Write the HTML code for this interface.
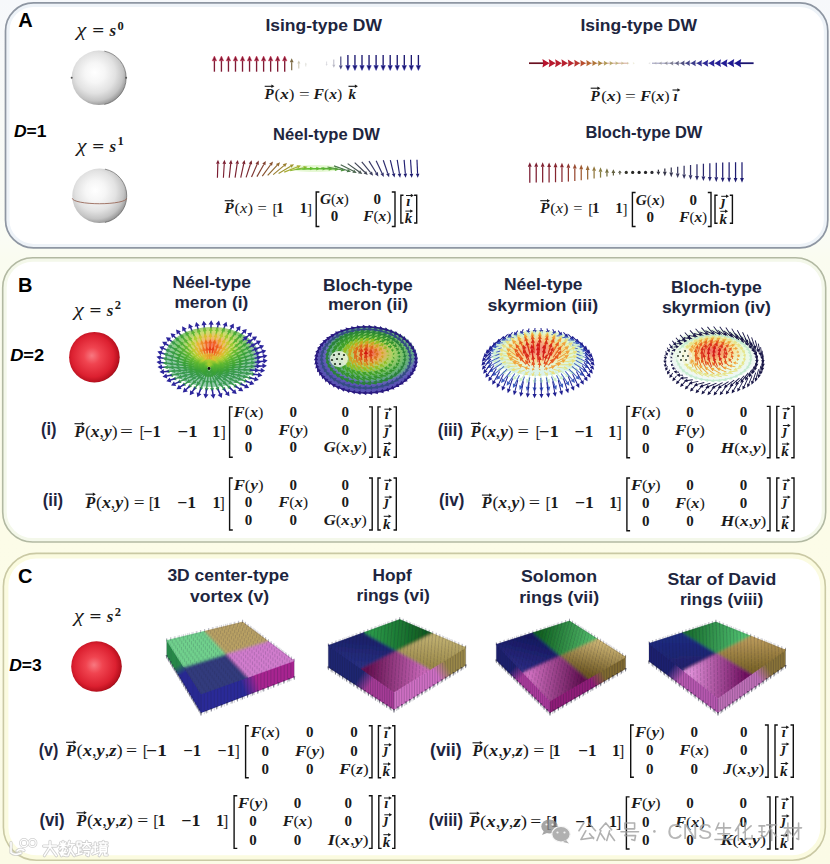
<!DOCTYPE html>
<html><head><meta charset="utf-8"><title>Topological polar structures</title><style>html,body{margin:0;padding:0;background:#fbfcf6;}body{width:830px;height:864px;overflow:hidden;font-family:"Liberation Sans", sans-serif;}svg{display:block;}</style></head><body>
<svg width="830" height="864" viewBox="0 0 830 864"><defs>
<radialGradient id="gW" cx="0.44" cy="0.42" r="0.62" fx="0.42" fy="0.4">
 <stop offset="0" stop-color="#ffffff"/>
 <stop offset="0.3" stop-color="#f6f6f6"/>
 <stop offset="0.6" stop-color="#e2e2e2"/>
 <stop offset="0.82" stop-color="#c4c4c4"/>
 <stop offset="0.93" stop-color="#a0a0a0"/>
 <stop offset="1" stop-color="#7a7a7a"/>
</radialGradient>
<radialGradient id="gR" cx="0.47" cy="0.48" r="0.55" fx="0.45" fy="0.47">
 <stop offset="0" stop-color="#f87880"/>
 <stop offset="0.3" stop-color="#f04450"/>
 <stop offset="0.75" stop-color="#dc2030"/>
 <stop offset="0.93" stop-color="#b8101e"/>
 <stop offset="1" stop-color="#7a0a14"/>
</radialGradient>
<linearGradient id="gBg" x1="0" y1="0" x2="0" y2="1">
 <stop offset="0" stop-color="#f6f8fb"/>
 <stop offset="0.28" stop-color="#fafcf4"/>
 <stop offset="0.3" stop-color="#fafcf0"/>
 <stop offset="0.62" stop-color="#fcfce8"/>
 <stop offset="1" stop-color="#fbfbe6"/>
</linearGradient>
<filter id="halo" x="-20%" y="-50%" width="140%" height="200%"><feGaussianBlur stdDeviation="1.8"/></filter><radialGradient id="gm1" cx="0.5" cy="0.3" r="0.5" fx="0.5" fy="0.3"><stop offset="0" stop-color="#f04020"/><stop offset="0.22" stop-color="#f0a040"/><stop offset="0.45" stop-color="#c0d040"/><stop offset="0.7" stop-color="#60b848"/><stop offset="1" stop-color="#70b890"/></radialGradient><radialGradient id="gm2" cx="0.55" cy="0.4" r="0.5" fx="0.55" fy="0.4"><stop offset="0" stop-color="#e84020"/><stop offset="0.2" stop-color="#e89838"/><stop offset="0.42" stop-color="#98c840"/><stop offset="0.66" stop-color="#48a848"/><stop offset="0.82" stop-color="#3a8a70"/><stop offset="0.9" stop-color="#4040a8"/><stop offset="1" stop-color="#3028a0"/></radialGradient><radialGradient id="gs3" cx="0.5" cy="0.42" r="0.5" fx="0.5" fy="0.42"><stop offset="0" stop-color="#e83020"/><stop offset="0.3" stop-color="#f07a30"/><stop offset="0.5" stop-color="#f0c050"/><stop offset="0.7" stop-color="#d8f0b0"/><stop offset="1" stop-color="#c0e8e0"/></radialGradient><radialGradient id="gs4" cx="0.5" cy="0.42" r="0.5" fx="0.5" fy="0.42"><stop offset="0" stop-color="#e83020"/><stop offset="0.25" stop-color="#f08030"/><stop offset="0.45" stop-color="#f0d870"/><stop offset="0.7" stop-color="#e0f8d0"/><stop offset="1" stop-color="#e8f4f0"/></radialGradient><filter id="soft" x="-10%" y="-10%" width="120%" height="120%"><feGaussianBlur stdDeviation="1.6"/></filter><filter id="soft2" x="-10%" y="-10%" width="120%" height="120%"><feGaussianBlur stdDeviation="0.6"/></filter><linearGradient id="x1s1" gradientUnits="userSpaceOnUse" x1="166.7" y1="640.5" x2="201" y2="694"><stop offset="0" stop-color="#289a4a"/><stop offset="0.42" stop-color="#289a4a"/><stop offset="0.58" stop-color="#2a2aa0"/><stop offset="1" stop-color="#2a2aa0"/></linearGradient><linearGradient id="x1s2" gradientUnits="userSpaceOnUse" x1="201" y1="694" x2="294.2" y2="660.8"><stop offset="0" stop-color="#2a2a98"/><stop offset="0.42" stop-color="#2a2a98"/><stop offset="0.58" stop-color="#a82490"/><stop offset="1" stop-color="#a82490"/></linearGradient><clipPath id="x1clip"><path d="M166.7 640.5L242.6 622L294.2 660.8L201 694Z"/></clipPath><linearGradient id="x2s1" gradientUnits="userSpaceOnUse" x1="328.3" y1="645.5" x2="394" y2="692"><stop offset="0" stop-color="#1e2672"/><stop offset="0.54" stop-color="#1e2672"/><stop offset="0.7" stop-color="#a83c98"/><stop offset="1" stop-color="#a83c98"/></linearGradient><linearGradient id="x2s2" gradientUnits="userSpaceOnUse" x1="394" y1="692" x2="465.7" y2="647.5"><stop offset="0" stop-color="#d070c4"/><stop offset="0.54" stop-color="#d070c4"/><stop offset="0.7" stop-color="#9a8848"/><stop offset="1" stop-color="#9a8848"/></linearGradient><linearGradient id="x2gL" gradientUnits="userSpaceOnUse" x1="361.15" y1="668.75" x2="364" y2="632.5"><stop offset="0.1" stop-color="#262e80"/><stop offset="0.9" stop-color="#1a2068"/></linearGradient><linearGradient id="x2gB" gradientUnits="userSpaceOnUse" x1="364" y1="632.5" x2="432.7" y2="633.5"><stop offset="0.1" stop-color="#2a9a48"/><stop offset="0.9" stop-color="#105a20"/></linearGradient><linearGradient id="x2gR" gradientUnits="userSpaceOnUse" x1="432.7" y1="633.5" x2="429.85" y2="669.75"><stop offset="0.1" stop-color="#c0b070"/><stop offset="0.9" stop-color="#9a8848"/></linearGradient><linearGradient id="x2gF" gradientUnits="userSpaceOnUse" x1="429.85" y1="669.75" x2="361.15" y2="668.75"><stop offset="0.1" stop-color="#c868b8"/><stop offset="0.9" stop-color="#64104f"/></linearGradient><clipPath id="x2clip"><path d="M328.3 645.5L399.7 619.5L465.7 647.5L394 692Z"/></clipPath><linearGradient id="x3s1" gradientUnits="userSpaceOnUse" x1="496.3" y1="644.5" x2="550" y2="701"><stop offset="0" stop-color="#1c2070"/><stop offset="0.37" stop-color="#1c2070"/><stop offset="0.53" stop-color="#b03ca0"/><stop offset="1" stop-color="#b03ca0"/></linearGradient><linearGradient id="x3s2" gradientUnits="userSpaceOnUse" x1="550" y1="701" x2="625.6" y2="657"><stop offset="0" stop-color="#901c78"/><stop offset="0.52" stop-color="#901c78"/><stop offset="0.68" stop-color="#806a30"/><stop offset="1" stop-color="#806a30"/></linearGradient><linearGradient id="x3gL" gradientUnits="userSpaceOnUse" x1="523.15" y1="672.75" x2="532.9" y2="632.75"><stop offset="0.1" stop-color="#2a2a80"/><stop offset="0.9" stop-color="#141860"/></linearGradient><linearGradient id="x3gB" gradientUnits="userSpaceOnUse" x1="532.9" y1="632.75" x2="597.55" y2="639"><stop offset="0.1" stop-color="#106020"/><stop offset="0.9" stop-color="#50b868"/></linearGradient><linearGradient id="x3gR" gradientUnits="userSpaceOnUse" x1="597.55" y1="639" x2="587.8" y2="679"><stop offset="0.1" stop-color="#c8b070"/><stop offset="0.9" stop-color="#6a5420"/></linearGradient><linearGradient id="x3gF" gradientUnits="userSpaceOnUse" x1="587.8" y1="679" x2="523.15" y2="672.75"><stop offset="0.1" stop-color="#601050"/><stop offset="0.9" stop-color="#d070c0"/></linearGradient><clipPath id="x3clip"><path d="M496.3 644.5L569.5 621L625.6 657L550 701Z"/></clipPath><linearGradient id="x4s1" gradientUnits="userSpaceOnUse" x1="649" y1="643.5" x2="718" y2="698"><stop offset="0" stop-color="#1c2070"/><stop offset="0.37" stop-color="#1c2070"/><stop offset="0.53" stop-color="#b858b0"/><stop offset="1" stop-color="#b858b0"/></linearGradient><linearGradient id="x4s2" gradientUnits="userSpaceOnUse" x1="718" y1="698" x2="785.5" y2="650"><stop offset="0" stop-color="#c070b8"/><stop offset="0.54" stop-color="#c070b8"/><stop offset="0.7" stop-color="#8a7438"/><stop offset="1" stop-color="#8a7438"/></linearGradient><linearGradient id="x4gL" gradientUnits="userSpaceOnUse" x1="683.5" y1="670.75" x2="682.45" y2="632.75"><stop offset="0.1" stop-color="#22226c"/><stop offset="0.9" stop-color="#1a2a80"/></linearGradient><linearGradient id="x4gB" gradientUnits="userSpaceOnUse" x1="682.45" y1="632.75" x2="750.7" y2="636"><stop offset="0.1" stop-color="#1a7030"/><stop offset="0.9" stop-color="#50c070"/></linearGradient><linearGradient id="x4gR" gradientUnits="userSpaceOnUse" x1="750.7" y1="636" x2="751.75" y2="674"><stop offset="0.1" stop-color="#b89858"/><stop offset="0.9" stop-color="#7a6428"/></linearGradient><linearGradient id="x4gF" gradientUnits="userSpaceOnUse" x1="751.75" y1="674" x2="683.5" y2="670.75"><stop offset="0.1" stop-color="#701060"/><stop offset="0.9" stop-color="#e090d8"/></linearGradient><clipPath id="x4clip"><path d="M649 643.5L715.9 622L785.5 650L718 698Z"/></clipPath></defs><rect x="0" y="0" width="830" height="864" fill="url(#gBg)"/>
<rect x="5.5" y="2.9" width="822.3" height="245" rx="28" ry="28" fill="#ffffff"/>
<rect x="7.5" y="4.9" width="818.3" height="241" rx="26" ry="26" fill="none" stroke="#eef3f8" stroke-width="4"/>
<rect x="5.5" y="2.9" width="822.3" height="245" rx="28" ry="28" fill="none" stroke="#8e96a2" stroke-width="1.7"/>
<rect x="2.7" y="257.7" width="823" height="284.3" rx="30" ry="30" fill="#ffffff"/>
<rect x="4.7" y="259.7" width="819" height="280.3" rx="28" ry="28" fill="none" stroke="#f4f8ea" stroke-width="4"/>
<rect x="2.7" y="257.7" width="823" height="284.3" rx="30" ry="30" fill="none" stroke="#b2b9a2" stroke-width="1.6"/>
<rect x="3.4" y="553.4" width="821.9" height="306.9" rx="33" ry="33" fill="#ffffff"/>
<rect x="5.9" y="555.9" width="816.9" height="301.9" rx="30.5" ry="30.5" fill="none" stroke="#fbfbe0" stroke-width="5"/>
<rect x="3.4" y="553.4" width="821.9" height="306.9" rx="33" ry="33" fill="none" stroke="#cac9a4" stroke-width="1.6"/>
<text x="18.2" y="27.3" font-family='"Liberation Sans", sans-serif' font-size="20" font-weight="bold" fill="#000">A</text>
<text x="18" y="292.2" font-family='"Liberation Sans", sans-serif' font-size="20" font-weight="bold" fill="#000">B</text>
<text x="18" y="583.1" font-family='"Liberation Sans", sans-serif' font-size="20" font-weight="bold" fill="#000">C</text>
<text x="14" y="136.6" font-family='"Liberation Sans", sans-serif' font-size="16" font-weight="bold" fill="#000" textLength="32.5" lengthAdjust="spacingAndGlyphs"><tspan font-style="italic">D</tspan>=1</text>
<text x="10.2" y="360.7" font-family='"Liberation Sans", sans-serif' font-size="16" font-weight="bold" fill="#000" textLength="34" lengthAdjust="spacingAndGlyphs"><tspan font-style="italic">D</tspan>=2</text>
<text x="9.2" y="671.4" font-family='"Liberation Sans", sans-serif' font-size="16" font-weight="bold" fill="#000" textLength="32.5" lengthAdjust="spacingAndGlyphs"><tspan font-style="italic">D</tspan>=3</text>
<text x="76.6" y="36.1" font-family='"Liberation Serif", serif' font-size="18" font-style="italic" textLength="9.8" lengthAdjust="spacingAndGlyphs" fill="#1a1a1a">χ</text>
<text x="92.2" y="35.9" font-family='"Liberation Serif", serif' font-size="17" font-weight="bold" textLength="12" lengthAdjust="spacingAndGlyphs" fill="#1a1a1a">=</text>
<text x="109.5" y="36.1" font-family='"Liberation Serif", serif' font-size="17" font-weight="bold" font-style="italic" fill="#1a1a1a">s</text>
<text x="117.5" y="29.8" font-family='"Liberation Serif", serif' font-size="12.5" font-weight="bold" fill="#1a1a1a">0</text>
<text x="76.7" y="151.7" font-family='"Liberation Serif", serif' font-size="18" font-style="italic" textLength="9.8" lengthAdjust="spacingAndGlyphs" fill="#1a1a1a">χ</text>
<text x="92.3" y="151.5" font-family='"Liberation Serif", serif' font-size="17" font-weight="bold" textLength="12" lengthAdjust="spacingAndGlyphs" fill="#1a1a1a">=</text>
<text x="109.6" y="151.7" font-family='"Liberation Serif", serif' font-size="17" font-weight="bold" font-style="italic" fill="#1a1a1a">s</text>
<text x="117.6" y="145.4" font-family='"Liberation Serif", serif' font-size="12.5" font-weight="bold" fill="#1a1a1a">1</text>
<text x="73.9" y="315.7" font-family='"Liberation Serif", serif' font-size="18" font-style="italic" textLength="9.8" lengthAdjust="spacingAndGlyphs" fill="#1a1a1a">χ</text>
<text x="89.5" y="315.5" font-family='"Liberation Serif", serif' font-size="17" font-weight="bold" textLength="12" lengthAdjust="spacingAndGlyphs" fill="#1a1a1a">=</text>
<text x="106.8" y="315.7" font-family='"Liberation Serif", serif' font-size="17" font-weight="bold" font-style="italic" fill="#1a1a1a">s</text>
<text x="114.8" y="309.4" font-family='"Liberation Serif", serif' font-size="12.5" font-weight="bold" fill="#1a1a1a">2</text>
<text x="73.9" y="621.9" font-family='"Liberation Serif", serif' font-size="18" font-style="italic" textLength="9.8" lengthAdjust="spacingAndGlyphs" fill="#1a1a1a">χ</text>
<text x="89.5" y="621.7" font-family='"Liberation Serif", serif' font-size="17" font-weight="bold" textLength="12" lengthAdjust="spacingAndGlyphs" fill="#1a1a1a">=</text>
<text x="106.8" y="621.9" font-family='"Liberation Serif", serif' font-size="17" font-weight="bold" font-style="italic" fill="#1a1a1a">s</text>
<text x="114.8" y="615.6" font-family='"Liberation Serif", serif' font-size="12.5" font-weight="bold" fill="#1a1a1a">2</text>
<circle cx="98.9" cy="77.8" r="27.2" fill="url(#gW)"/>
<path d="M104.34 51.14A27.2 27.2 0 0 1 104.34 104.46" stroke="#555" stroke-width="0.9" fill="none" opacity="0.7"/>
<circle cx="71.7" cy="77.8" r="1" fill="#555"/><circle cx="126.1" cy="77.8" r="1" fill="#555"/>
<circle cx="99.5" cy="195.8" r="27.2" fill="url(#gW)"/>
<path d="M104.94 169.14A27.2 27.2 0 0 1 104.94 222.46" stroke="#555" stroke-width="0.9" fill="none" opacity="0.7"/>
<path d="M72.3 198.3A27.2 5.44 0 0 0 126.7 198.3" stroke="#9a6a5a" stroke-width="0.9" fill="none"/>
<circle cx="94.4" cy="357.2" r="25.3" fill="url(#gR)"/>
<circle cx="96.5" cy="666.5" r="25.3" fill="url(#gR)"/>
<text x="265.4" y="30.9" font-family='"Liberation Sans", sans-serif' font-size="17" font-weight="bold" textLength="116.6" lengthAdjust="spacingAndGlyphs" fill="#20253e">Ising-type DW</text>
<text x="580.4" y="31.2" font-family='"Liberation Sans", sans-serif' font-size="17" font-weight="bold" textLength="116.6" lengthAdjust="spacingAndGlyphs" fill="#20253e">Ising-type DW</text>
<text x="273.1" y="139.6" font-family='"Liberation Sans", sans-serif' font-size="17" font-weight="bold" textLength="106.7" lengthAdjust="spacingAndGlyphs" fill="#20253e">Néel-type DW</text>
<text x="585.4" y="138" font-family='"Liberation Sans", sans-serif' font-size="17" font-weight="bold" textLength="117" lengthAdjust="spacingAndGlyphs" fill="#20253e">Bloch-type DW</text>
<text x="172.6" y="288.3" font-family='"Liberation Sans", sans-serif' font-size="17" font-weight="bold" textLength="78.3" lengthAdjust="spacingAndGlyphs" fill="#20253e">Néel-type</text>
<text x="174.5" y="308.3" font-family='"Liberation Sans", sans-serif' font-size="17" font-weight="bold" textLength="73.7" lengthAdjust="spacingAndGlyphs" fill="#20253e">meron (i)</text>
<text x="322.9" y="291" font-family='"Liberation Sans", sans-serif' font-size="17" font-weight="bold" textLength="89.9" lengthAdjust="spacingAndGlyphs" fill="#20253e">Bloch-type</text>
<text x="327.9" y="310.3" font-family='"Liberation Sans", sans-serif' font-size="17" font-weight="bold" textLength="80.2" lengthAdjust="spacingAndGlyphs" fill="#20253e">meron (ii)</text>
<text x="504" y="289.9" font-family='"Liberation Sans", sans-serif' font-size="17" font-weight="bold" textLength="78.5" lengthAdjust="spacingAndGlyphs" fill="#20253e">Néel-type</text>
<text x="487.4" y="310.5" font-family='"Liberation Sans", sans-serif' font-size="17" font-weight="bold" textLength="110.7" lengthAdjust="spacingAndGlyphs" fill="#20253e">skyrmion (iii)</text>
<text x="670.9" y="293" font-family='"Liberation Sans", sans-serif' font-size="17" font-weight="bold" textLength="90.9" lengthAdjust="spacingAndGlyphs" fill="#20253e">Bloch-type</text>
<text x="661.9" y="313.4" font-family='"Liberation Sans", sans-serif' font-size="17" font-weight="bold" textLength="108.9" lengthAdjust="spacingAndGlyphs" fill="#20253e">skyrmion (iv)</text>
<text x="167.4" y="581" font-family='"Liberation Sans", sans-serif' font-size="17" font-weight="bold" textLength="121.5" lengthAdjust="spacingAndGlyphs" fill="#20253e">3D center-type</text>
<text x="190.1" y="602" font-family='"Liberation Sans", sans-serif' font-size="17" font-weight="bold" textLength="78.9" lengthAdjust="spacingAndGlyphs" fill="#20253e">vortex (v)</text>
<text x="372.6" y="581" font-family='"Liberation Sans", sans-serif' font-size="17" font-weight="bold" textLength="39.2" lengthAdjust="spacingAndGlyphs" fill="#20253e">Hopf</text>
<text x="356.4" y="600.5" font-family='"Liberation Sans", sans-serif' font-size="17" font-weight="bold" textLength="73.4" lengthAdjust="spacingAndGlyphs" fill="#20253e">rings (vi)</text>
<text x="521" y="581.7" font-family='"Liberation Sans", sans-serif' font-size="17" font-weight="bold" textLength="76" lengthAdjust="spacingAndGlyphs" fill="#20253e">Solomon</text>
<text x="519.2" y="602.6" font-family='"Liberation Sans", sans-serif' font-size="17" font-weight="bold" textLength="79.9" lengthAdjust="spacingAndGlyphs" fill="#20253e">rings (vii)</text>
<text x="667.4" y="584.6" font-family='"Liberation Sans", sans-serif' font-size="17" font-weight="bold" textLength="108.8" lengthAdjust="spacingAndGlyphs" fill="#20253e">Star of David</text>
<text x="680" y="605.2" font-family='"Liberation Sans", sans-serif' font-size="17" font-weight="bold" textLength="83.2" lengthAdjust="spacingAndGlyphs" fill="#20253e">rings (viii)</text>
<text x="41" y="434.6" font-family='"Liberation Sans", sans-serif' font-size="18.5" font-weight="bold" textLength="15.6" lengthAdjust="spacingAndGlyphs" fill="#1e2440">(i)</text>
<text x="42.7" y="506.1" font-family='"Liberation Sans", sans-serif' font-size="18.5" font-weight="bold" textLength="20.4" lengthAdjust="spacingAndGlyphs" fill="#1e2440">(ii)</text>
<text x="437.8" y="435.6" font-family='"Liberation Sans", sans-serif' font-size="18.5" font-weight="bold" textLength="25.3" lengthAdjust="spacingAndGlyphs" fill="#1e2440">(iii)</text>
<text x="439" y="505.6" font-family='"Liberation Sans", sans-serif' font-size="18.5" font-weight="bold" textLength="25.3" lengthAdjust="spacingAndGlyphs" fill="#1e2440">(iv)</text>
<text x="38.7" y="755.6" font-family='"Liberation Sans", sans-serif' font-size="18.5" font-weight="bold" textLength="19.7" lengthAdjust="spacingAndGlyphs" fill="#1e2440">(v)</text>
<text x="39.4" y="825.6" font-family='"Liberation Sans", sans-serif' font-size="18.5" font-weight="bold" textLength="25.2" lengthAdjust="spacingAndGlyphs" fill="#1e2440">(vi)</text>
<text x="430" y="755.6" font-family='"Liberation Sans", sans-serif' font-size="18.5" font-weight="bold" textLength="31.7" lengthAdjust="spacingAndGlyphs" fill="#1e2440">(vii)</text>
<text x="428.7" y="825.6" font-family='"Liberation Sans", sans-serif' font-size="18.5" font-weight="bold" textLength="34.3" lengthAdjust="spacingAndGlyphs" fill="#1e2440">(viii)</text>
<text x="264.6" y="99.2" font-family='"Liberation Serif", serif' font-size="15" fill="#1a1a1a"><tspan font-weight="bold" font-style="italic">P</tspan></text>
<path d="M264.7 86.3H272.8" stroke="#1a1a1a" stroke-width="1.1" fill="none"/>
<path d="M271.4 84.6L274.4 86.3L271.4 88Z" fill="#1a1a1a"/>
<text x="274.6" y="99.2" font-family='"Liberation Serif", serif' font-size="15" fill="#1a1a1a" textLength="19.9" lengthAdjust="spacingAndGlyphs">(<tspan font-weight="bold" font-style="italic">x</tspan>)</text>
<text x="299" y="99.2" font-family='"Liberation Serif", serif' font-size="15" fill="#1a1a1a" textLength="10.7" lengthAdjust="spacingAndGlyphs">=</text>
<text x="313.6" y="99.2" font-family='"Liberation Serif", serif' font-size="15" fill="#1a1a1a" textLength="28.6" lengthAdjust="spacingAndGlyphs"><tspan font-weight="bold" font-style="italic">F</tspan>(<tspan font-weight="bold" font-style="italic">x</tspan>)</text>
<text x="348.6" y="99.2" font-family='"Liberation Serif", serif' font-size="15" fill="#1a1a1a"><tspan font-weight="bold" font-style="italic">k</tspan></text>
<path d="M348.5 86.3H356.3" stroke="#1a1a1a" stroke-width="1.1" fill="none"/>
<path d="M354.9 84.6L357.9 86.3L354.9 88Z" fill="#1a1a1a"/>
<text x="590.6" y="100.5" font-family='"Liberation Serif", serif' font-size="15" fill="#1a1a1a"><tspan font-weight="bold" font-style="italic">P</tspan></text>
<path d="M590.7 88.2H598.8" stroke="#1a1a1a" stroke-width="1.1" fill="none"/>
<path d="M597.4 86.5L600.4 88.2L597.4 89.9Z" fill="#1a1a1a"/>
<text x="601.2" y="100.5" font-family='"Liberation Serif", serif' font-size="15" fill="#1a1a1a" textLength="20" lengthAdjust="spacingAndGlyphs">(<tspan font-weight="bold" font-style="italic">x</tspan>)</text>
<text x="625" y="100.5" font-family='"Liberation Serif", serif' font-size="15" fill="#1a1a1a" textLength="10.8" lengthAdjust="spacingAndGlyphs">=</text>
<text x="640.3" y="100.5" font-family='"Liberation Serif", serif' font-size="15" fill="#1a1a1a" textLength="29.3" lengthAdjust="spacingAndGlyphs"><tspan font-weight="bold" font-style="italic">F</tspan>(<tspan font-weight="bold" font-style="italic">x</tspan>)</text>
<text x="673.4" y="100.5" font-family='"Liberation Serif", serif' font-size="15" fill="#1a1a1a"><tspan font-weight="bold" font-style="italic">ı</tspan></text>
<path d="M672.5 90H678.8" stroke="#1a1a1a" stroke-width="1.1" fill="none"/>
<path d="M677.4 88.3L680.4 90L677.4 91.7Z" fill="#1a1a1a"/>
<text x="224.6" y="213.3" font-family='"Liberation Serif", serif' font-size="15" fill="#1a1a1a"><tspan font-weight="bold" font-style="italic">P</tspan></text>
<path d="M224.7 200.7H232.8" stroke="#1a1a1a" stroke-width="1.1" fill="none"/>
<path d="M231.4 199L234.4 200.7L231.4 202.4Z" fill="#1a1a1a"/>
<text x="234.6" y="213.3" font-family='"Liberation Serif", serif' font-size="15" fill="#1a1a1a" textLength="18.3" lengthAdjust="spacingAndGlyphs">(<tspan font-style="italic">x</tspan>)</text>
<text x="257.6" y="213.3" font-family='"Liberation Serif", serif' font-size="15" fill="#1a1a1a" textLength="9.3" lengthAdjust="spacingAndGlyphs">=</text>
<text x="272.4" y="214.3" font-family='"Liberation Serif", serif' font-size="15" fill="#1a1a1a">[</text>
<text x="276.2" y="213.3" font-family='"Liberation Serif", serif' font-size="15" fill="#1a1a1a"><tspan font-weight="bold">1</tspan></text>
<text x="299.7" y="213.3" font-family='"Liberation Serif", serif' font-size="15" fill="#1a1a1a"><tspan font-weight="bold">1</tspan></text>
<text x="307.1" y="214.3" font-family='"Liberation Serif", serif' font-size="15" fill="#1a1a1a">]</text>
<path d="M319.4 192H316.2V226.5H319.4" stroke="#111" stroke-width="1.4" fill="none"/>
<path d="M391.8 192H395V226.5H391.8" stroke="#111" stroke-width="1.4" fill="none"/>
<text x="334.5" y="203.6" font-family='"Liberation Serif", serif' font-size="15" fill="#1a1a1a" text-anchor="middle" textLength="28.8" lengthAdjust="spacingAndGlyphs"><tspan font-weight="bold" font-style="italic">G</tspan>(<tspan font-weight="bold" font-style="italic">x</tspan>)</text>
<text x="377.3" y="203.6" font-family='"Liberation Serif", serif' font-size="15" fill="#1a1a1a" text-anchor="middle"><tspan font-weight="bold">0</tspan></text>
<text x="334.5" y="220.8" font-family='"Liberation Serif", serif' font-size="15" fill="#1a1a1a" text-anchor="middle"><tspan font-weight="bold">0</tspan></text>
<text x="377.3" y="220.8" font-family='"Liberation Serif", serif' font-size="15" fill="#1a1a1a" text-anchor="middle" textLength="28" lengthAdjust="spacingAndGlyphs"><tspan font-weight="bold" font-style="italic">F</tspan>(<tspan font-weight="bold" font-style="italic">x</tspan>)</text>
<path d="M403.5 195.3H400.9V223H403.5" stroke="#111" stroke-width="1.4" fill="none"/>
<path d="M414.1 195.3H416.7V223H414.1" stroke="#111" stroke-width="1.4" fill="none"/>
<text x="408.4" y="205.5" font-family='"Liberation Serif", serif' font-size="15" fill="#1a1a1a" text-anchor="middle"><tspan font-weight="bold" font-style="italic">ı</tspan></text>
<path d="M406 195.5H412.2" stroke="#1a1a1a" stroke-width="1" fill="none"/>
<path d="M410.8 193.8L413.8 195.5L410.8 197.2Z" fill="#1a1a1a"/>
<text x="408.4" y="223.4" font-family='"Liberation Serif", serif' font-size="15" fill="#1a1a1a" text-anchor="middle"><tspan font-weight="bold" font-style="italic">k</tspan></text>
<path d="M405.4 211.1H411.6" stroke="#1a1a1a" stroke-width="1" fill="none"/>
<path d="M410.2 209.4L413.2 211.1L410.2 212.8Z" fill="#1a1a1a"/>
<text x="540.2" y="213.3" font-family='"Liberation Serif", serif' font-size="15" fill="#1a1a1a"><tspan font-weight="bold" font-style="italic">P</tspan></text>
<path d="M540.3 200.7H548.4" stroke="#1a1a1a" stroke-width="1.1" fill="none"/>
<path d="M547 199L550 200.7L547 202.4Z" fill="#1a1a1a"/>
<text x="550.2" y="213.3" font-family='"Liberation Serif", serif' font-size="15" fill="#1a1a1a" textLength="18.3" lengthAdjust="spacingAndGlyphs">(<tspan font-style="italic">x</tspan>)</text>
<text x="573.2" y="213.3" font-family='"Liberation Serif", serif' font-size="15" fill="#1a1a1a" textLength="9.3" lengthAdjust="spacingAndGlyphs">=</text>
<text x="588.2" y="214.3" font-family='"Liberation Serif", serif' font-size="15" fill="#1a1a1a">[</text>
<text x="592.1" y="213.3" font-family='"Liberation Serif", serif' font-size="15" fill="#1a1a1a"><tspan font-weight="bold">1</tspan></text>
<text x="615.3" y="213.3" font-family='"Liberation Serif", serif' font-size="15" fill="#1a1a1a"><tspan font-weight="bold">1</tspan></text>
<text x="622.6" y="214.3" font-family='"Liberation Serif", serif' font-size="15" fill="#1a1a1a">]</text>
<path d="M635.6 192.5H632.4V226.5H635.6" stroke="#111" stroke-width="1.4" fill="none"/>
<path d="M707.8 192.5H711V226.5H707.8" stroke="#111" stroke-width="1.4" fill="none"/>
<text x="650.2" y="204.5" font-family='"Liberation Serif", serif' font-size="15" fill="#1a1a1a" text-anchor="middle" textLength="28.8" lengthAdjust="spacingAndGlyphs"><tspan font-weight="bold" font-style="italic">G</tspan>(<tspan font-weight="bold" font-style="italic">x</tspan>)</text>
<text x="693.2" y="204.5" font-family='"Liberation Serif", serif' font-size="15" fill="#1a1a1a" text-anchor="middle"><tspan font-weight="bold">0</tspan></text>
<text x="650.2" y="222.2" font-family='"Liberation Serif", serif' font-size="15" fill="#1a1a1a" text-anchor="middle"><tspan font-weight="bold">0</tspan></text>
<text x="693.2" y="222.2" font-family='"Liberation Serif", serif' font-size="15" fill="#1a1a1a" text-anchor="middle" textLength="28" lengthAdjust="spacingAndGlyphs"><tspan font-weight="bold" font-style="italic">F</tspan>(<tspan font-weight="bold" font-style="italic">x</tspan>)</text>
<path d="M717.6 195.3H715V223.2H717.6" stroke="#111" stroke-width="1.4" fill="none"/>
<path d="M729.8 195.3H732.4V223.2H729.8" stroke="#111" stroke-width="1.4" fill="none"/>
<text x="723.3" y="205.5" font-family='"Liberation Serif", serif' font-size="15" fill="#1a1a1a" text-anchor="middle"><tspan font-weight="bold" font-style="italic">ȷ</tspan></text>
<path d="M721.2 196.3H727.4" stroke="#1a1a1a" stroke-width="1" fill="none"/>
<path d="M726 194.6L729 196.3L726 198Z" fill="#1a1a1a"/>
<text x="723.3" y="223.6" font-family='"Liberation Serif", serif' font-size="15" fill="#1a1a1a" text-anchor="middle"><tspan font-weight="bold" font-style="italic">k</tspan></text>
<path d="M720.3 211.3H726.5" stroke="#1a1a1a" stroke-width="1" fill="none"/>
<path d="M725.1 209.6L728.1 211.3L725.1 213Z" fill="#1a1a1a"/>
<text x="74.4" y="437" font-family='"Liberation Serif", serif' font-size="16" fill="#1a1a1a"><tspan font-weight="bold" font-style="italic">P</tspan></text>
<path d="M74.5 423.7H83.2" stroke="#1a1a1a" stroke-width="1.1" fill="none"/>
<path d="M81.8 422L84.8 423.7L81.8 425.4Z" fill="#1a1a1a"/>
<text x="85" y="437" font-family='"Liberation Serif", serif' font-size="16" fill="#1a1a1a" textLength="32.6" lengthAdjust="spacingAndGlyphs">(<tspan font-weight="bold" font-style="italic">x</tspan>,<tspan font-weight="bold" font-style="italic">y</tspan>)</text>
<text x="120.1" y="437" font-family='"Liberation Serif", serif' font-size="16" fill="#1a1a1a" textLength="12.9" lengthAdjust="spacingAndGlyphs">=</text>
<text x="139.6" y="438" font-family='"Liberation Serif", serif' font-size="16" fill="#1a1a1a">[</text>
<text x="143" y="437" font-family='"Liberation Serif", serif' font-size="16" fill="#1a1a1a" textLength="18" lengthAdjust="spacingAndGlyphs"><tspan font-weight="bold">−</tspan><tspan font-weight="bold">1</tspan></text>
<text x="177.6" y="437" font-family='"Liberation Serif", serif' font-size="16" fill="#1a1a1a" textLength="20" lengthAdjust="spacingAndGlyphs"><tspan font-weight="bold">−</tspan><tspan font-weight="bold">1</tspan></text>
<text x="212.2" y="437" font-family='"Liberation Serif", serif' font-size="16" fill="#1a1a1a"><tspan font-weight="bold">1</tspan></text>
<text x="220.6" y="438" font-family='"Liberation Serif", serif' font-size="16" fill="#1a1a1a">]</text>
<text x="85.4" y="507.5" font-family='"Liberation Serif", serif' font-size="16" fill="#1a1a1a"><tspan font-weight="bold" font-style="italic">P</tspan></text>
<path d="M85.5 494.2H94.2" stroke="#1a1a1a" stroke-width="1.1" fill="none"/>
<path d="M92.8 492.5L95.8 494.2L92.8 495.9Z" fill="#1a1a1a"/>
<text x="96" y="507.5" font-family='"Liberation Serif", serif' font-size="16" fill="#1a1a1a" textLength="33.2" lengthAdjust="spacingAndGlyphs">(<tspan font-weight="bold" font-style="italic">x</tspan>,<tspan font-weight="bold" font-style="italic">y</tspan>)</text>
<text x="133.8" y="507.5" font-family='"Liberation Serif", serif' font-size="16" fill="#1a1a1a" textLength="10.8" lengthAdjust="spacingAndGlyphs">=</text>
<text x="148.8" y="508.5" font-family='"Liberation Serif", serif' font-size="16" fill="#1a1a1a">[</text>
<text x="152.8" y="507.5" font-family='"Liberation Serif", serif' font-size="16" fill="#1a1a1a"><tspan font-weight="bold">1</tspan></text>
<text x="177.2" y="507.5" font-family='"Liberation Serif", serif' font-size="16" fill="#1a1a1a" textLength="18.9" lengthAdjust="spacingAndGlyphs"><tspan font-weight="bold">−</tspan><tspan font-weight="bold">1</tspan></text>
<text x="212.4" y="507.5" font-family='"Liberation Serif", serif' font-size="16" fill="#1a1a1a"><tspan font-weight="bold">1</tspan></text>
<text x="219.4" y="508.5" font-family='"Liberation Serif", serif' font-size="16" fill="#1a1a1a">]</text>
<text x="470.8" y="436.7" font-family='"Liberation Serif", serif' font-size="16" fill="#1a1a1a"><tspan font-weight="bold" font-style="italic">P</tspan></text>
<path d="M470.9 423.4H479.6" stroke="#1a1a1a" stroke-width="1.1" fill="none"/>
<path d="M478.2 421.7L481.2 423.4L478.2 425.1Z" fill="#1a1a1a"/>
<text x="481.4" y="436.7" font-family='"Liberation Serif", serif' font-size="16" fill="#1a1a1a" textLength="32.2" lengthAdjust="spacingAndGlyphs">(<tspan font-weight="bold" font-style="italic">x</tspan>,<tspan font-weight="bold" font-style="italic">y</tspan>)</text>
<text x="517.6" y="436.7" font-family='"Liberation Serif", serif' font-size="16" fill="#1a1a1a" textLength="11.4" lengthAdjust="spacingAndGlyphs">=</text>
<text x="535.5" y="437.7" font-family='"Liberation Serif", serif' font-size="16" fill="#1a1a1a">[</text>
<text x="538.8" y="436.7" font-family='"Liberation Serif", serif' font-size="16" fill="#1a1a1a" textLength="20.1" lengthAdjust="spacingAndGlyphs"><tspan font-weight="bold">−</tspan><tspan font-weight="bold">1</tspan></text>
<text x="574.4" y="436.7" font-family='"Liberation Serif", serif' font-size="16" fill="#1a1a1a" textLength="19.1" lengthAdjust="spacingAndGlyphs"><tspan font-weight="bold">−</tspan><tspan font-weight="bold">1</tspan></text>
<text x="608.2" y="436.7" font-family='"Liberation Serif", serif' font-size="16" fill="#1a1a1a"><tspan font-weight="bold">1</tspan></text>
<text x="616.6" y="437.7" font-family='"Liberation Serif", serif' font-size="16" fill="#1a1a1a">]</text>
<text x="481.8" y="508.4" font-family='"Liberation Serif", serif' font-size="16" fill="#1a1a1a"><tspan font-weight="bold" font-style="italic">P</tspan></text>
<path d="M481.9 495.1H490.6" stroke="#1a1a1a" stroke-width="1.1" fill="none"/>
<path d="M489.2 493.4L492.2 495.1L489.2 496.8Z" fill="#1a1a1a"/>
<text x="492.4" y="508.4" font-family='"Liberation Serif", serif' font-size="16" fill="#1a1a1a" textLength="32.7" lengthAdjust="spacingAndGlyphs">(<tspan font-weight="bold" font-style="italic">x</tspan>,<tspan font-weight="bold" font-style="italic">y</tspan>)</text>
<text x="528.8" y="508.4" font-family='"Liberation Serif", serif' font-size="16" fill="#1a1a1a" textLength="11.3" lengthAdjust="spacingAndGlyphs">=</text>
<text x="545.6" y="509.4" font-family='"Liberation Serif", serif' font-size="16" fill="#1a1a1a">[</text>
<text x="550.5" y="508.4" font-family='"Liberation Serif", serif' font-size="16" fill="#1a1a1a"><tspan font-weight="bold">1</tspan></text>
<text x="574.9" y="508.4" font-family='"Liberation Serif", serif' font-size="16" fill="#1a1a1a" textLength="18.9" lengthAdjust="spacingAndGlyphs"><tspan font-weight="bold">−</tspan><tspan font-weight="bold">1</tspan></text>
<text x="609.2" y="508.4" font-family='"Liberation Serif", serif' font-size="16" fill="#1a1a1a"><tspan font-weight="bold">1</tspan></text>
<text x="616.3" y="509.4" font-family='"Liberation Serif", serif' font-size="16" fill="#1a1a1a">]</text>
<text x="66" y="755.6" font-family='"Liberation Serif", serif' font-size="16" fill="#1a1a1a"><tspan font-weight="bold" font-style="italic">P</tspan></text>
<path d="M66.1 742.3H74.8" stroke="#1a1a1a" stroke-width="1.1" fill="none"/>
<path d="M73.4 740.6L76.4 742.3L73.4 744Z" fill="#1a1a1a"/>
<text x="76.6" y="755.6" font-family='"Liberation Serif", serif' font-size="16" fill="#1a1a1a" textLength="46.1" lengthAdjust="spacingAndGlyphs">(<tspan font-weight="bold" font-style="italic">x</tspan>,<tspan font-weight="bold" font-style="italic">y</tspan>,<tspan font-weight="bold" font-style="italic">z</tspan>)</text>
<text x="126" y="755.6" font-family='"Liberation Serif", serif' font-size="16" fill="#1a1a1a" textLength="11.1" lengthAdjust="spacingAndGlyphs">=</text>
<text x="142.8" y="756.6" font-family='"Liberation Serif", serif' font-size="16" fill="#1a1a1a">[</text>
<text x="146.1" y="755.6" font-family='"Liberation Serif", serif' font-size="16" fill="#1a1a1a" textLength="20.8" lengthAdjust="spacingAndGlyphs"><tspan font-weight="bold">−</tspan><tspan font-weight="bold">1</tspan></text>
<text x="183.2" y="755.6" font-family='"Liberation Serif", serif' font-size="16" fill="#1a1a1a" textLength="18" lengthAdjust="spacingAndGlyphs"><tspan font-weight="bold">−</tspan><tspan font-weight="bold">1</tspan></text>
<text x="217.6" y="755.6" font-family='"Liberation Serif", serif' font-size="16" fill="#1a1a1a" textLength="17.2" lengthAdjust="spacingAndGlyphs"><tspan font-weight="bold">−</tspan><tspan font-weight="bold">1</tspan></text>
<text x="234.6" y="756.6" font-family='"Liberation Serif", serif' font-size="16" fill="#1a1a1a">]</text>
<text x="76.4" y="826.1" font-family='"Liberation Serif", serif' font-size="16" fill="#1a1a1a"><tspan font-weight="bold" font-style="italic">P</tspan></text>
<path d="M76.5 812.8H85.2" stroke="#1a1a1a" stroke-width="1.1" fill="none"/>
<path d="M83.8 811.1L86.8 812.8L83.8 814.5Z" fill="#1a1a1a"/>
<text x="87" y="826.1" font-family='"Liberation Serif", serif' font-size="16" fill="#1a1a1a" textLength="45.9" lengthAdjust="spacingAndGlyphs">(<tspan font-weight="bold" font-style="italic">x</tspan>,<tspan font-weight="bold" font-style="italic">y</tspan>,<tspan font-weight="bold" font-style="italic">z</tspan>)</text>
<text x="137.2" y="826.1" font-family='"Liberation Serif", serif' font-size="16" fill="#1a1a1a" textLength="11" lengthAdjust="spacingAndGlyphs">=</text>
<text x="153.2" y="827.1" font-family='"Liberation Serif", serif' font-size="16" fill="#1a1a1a">[</text>
<text x="157.6" y="826.1" font-family='"Liberation Serif", serif' font-size="16" fill="#1a1a1a"><tspan font-weight="bold">1</tspan></text>
<text x="181.2" y="826.1" font-family='"Liberation Serif", serif' font-size="16" fill="#1a1a1a" textLength="19.3" lengthAdjust="spacingAndGlyphs"><tspan font-weight="bold">−</tspan><tspan font-weight="bold">1</tspan></text>
<text x="216.1" y="826.1" font-family='"Liberation Serif", serif' font-size="16" fill="#1a1a1a"><tspan font-weight="bold">1</tspan></text>
<text x="223" y="827.1" font-family='"Liberation Serif", serif' font-size="16" fill="#1a1a1a">]</text>
<text x="472.4" y="756.1" font-family='"Liberation Serif", serif' font-size="16" fill="#1a1a1a"><tspan font-weight="bold" font-style="italic">P</tspan></text>
<path d="M472.5 742.8H481.2" stroke="#1a1a1a" stroke-width="1.1" fill="none"/>
<path d="M479.8 741.1L482.8 742.8L479.8 744.5Z" fill="#1a1a1a"/>
<text x="483" y="756.1" font-family='"Liberation Serif", serif' font-size="16" fill="#1a1a1a" textLength="45.9" lengthAdjust="spacingAndGlyphs">(<tspan font-weight="bold" font-style="italic">x</tspan>,<tspan font-weight="bold" font-style="italic">y</tspan>,<tspan font-weight="bold" font-style="italic">z</tspan>)</text>
<text x="533.2" y="756.1" font-family='"Liberation Serif", serif' font-size="16" fill="#1a1a1a" textLength="11.1" lengthAdjust="spacingAndGlyphs">=</text>
<text x="549.2" y="757.1" font-family='"Liberation Serif", serif' font-size="16" fill="#1a1a1a">[</text>
<text x="552.6" y="756.1" font-family='"Liberation Serif", serif' font-size="16" fill="#1a1a1a"><tspan font-weight="bold">1</tspan></text>
<text x="578.3" y="756.1" font-family='"Liberation Serif", serif' font-size="16" fill="#1a1a1a" textLength="18.2" lengthAdjust="spacingAndGlyphs"><tspan font-weight="bold">−</tspan><tspan font-weight="bold">1</tspan></text>
<text x="612.1" y="756.1" font-family='"Liberation Serif", serif' font-size="16" fill="#1a1a1a"><tspan font-weight="bold">1</tspan></text>
<text x="619" y="757.1" font-family='"Liberation Serif", serif' font-size="16" fill="#1a1a1a">]</text>
<text x="469.4" y="826.5" font-family='"Liberation Serif", serif' font-size="16" fill="#1a1a1a"><tspan font-weight="bold" font-style="italic">P</tspan></text>
<path d="M469.5 813.2H478.2" stroke="#1a1a1a" stroke-width="1.1" fill="none"/>
<path d="M476.8 811.5L479.8 813.2L476.8 814.9Z" fill="#1a1a1a"/>
<text x="480" y="826.5" font-family='"Liberation Serif", serif' font-size="16" fill="#1a1a1a" textLength="47" lengthAdjust="spacingAndGlyphs">(<tspan font-weight="bold" font-style="italic">x</tspan>,<tspan font-weight="bold" font-style="italic">y</tspan>,<tspan font-weight="bold" font-style="italic">z</tspan>)</text>
<text x="530.3" y="826.5" font-family='"Liberation Serif", serif' font-size="16" fill="#1a1a1a" textLength="11" lengthAdjust="spacingAndGlyphs">=</text>
<text x="546.3" y="827.5" font-family='"Liberation Serif", serif' font-size="16" fill="#1a1a1a">[</text>
<text x="550.8" y="826.5" font-family='"Liberation Serif", serif' font-size="16" fill="#1a1a1a"><tspan font-weight="bold">1</tspan></text>
<text x="575.3" y="826.5" font-family='"Liberation Serif", serif' font-size="16" fill="#1a1a1a" textLength="18.2" lengthAdjust="spacingAndGlyphs"><tspan font-weight="bold">−</tspan><tspan font-weight="bold">1</tspan></text>
<text x="609.1" y="826.5" font-family='"Liberation Serif", serif' font-size="16" fill="#1a1a1a"><tspan font-weight="bold">1</tspan></text>
<text x="616.1" y="827.5" font-family='"Liberation Serif", serif' font-size="16" fill="#1a1a1a">]</text>
<path d="M232.8 406.9H229.6V457.2H232.8" stroke="#111" stroke-width="1.4" fill="none"/>
<path d="M369 406.9H372.2V457.2H369" stroke="#111" stroke-width="1.4" fill="none"/>
<text x="248.6" y="417.2" font-family='"Liberation Serif", serif' font-size="15" fill="#1a1a1a" text-anchor="middle" textLength="29.6" lengthAdjust="spacingAndGlyphs"><tspan font-weight="bold" font-style="italic">F</tspan>(<tspan font-weight="bold" font-style="italic">x</tspan>)</text>
<text x="293.3" y="417.2" font-family='"Liberation Serif", serif' font-size="15" fill="#1a1a1a" text-anchor="middle"><tspan font-weight="bold">0</tspan></text>
<text x="345.3" y="417.2" font-family='"Liberation Serif", serif' font-size="15" fill="#1a1a1a" text-anchor="middle"><tspan font-weight="bold">0</tspan></text>
<text x="248.6" y="434.8" font-family='"Liberation Serif", serif' font-size="15" fill="#1a1a1a" text-anchor="middle"><tspan font-weight="bold">0</tspan></text>
<text x="293.3" y="434.8" font-family='"Liberation Serif", serif' font-size="15" fill="#1a1a1a" text-anchor="middle" textLength="29.8" lengthAdjust="spacingAndGlyphs"><tspan font-weight="bold" font-style="italic">F</tspan>(<tspan font-weight="bold" font-style="italic">y</tspan>)</text>
<text x="345.3" y="434.8" font-family='"Liberation Serif", serif' font-size="15" fill="#1a1a1a" text-anchor="middle"><tspan font-weight="bold">0</tspan></text>
<text x="248.6" y="452.2" font-family='"Liberation Serif", serif' font-size="15" fill="#1a1a1a" text-anchor="middle"><tspan font-weight="bold">0</tspan></text>
<text x="293.3" y="452.2" font-family='"Liberation Serif", serif' font-size="15" fill="#1a1a1a" text-anchor="middle"><tspan font-weight="bold">0</tspan></text>
<text x="345.3" y="452.2" font-family='"Liberation Serif", serif' font-size="15" fill="#1a1a1a" text-anchor="middle" textLength="43.1" lengthAdjust="spacingAndGlyphs"><tspan font-weight="bold" font-style="italic">G</tspan>(<tspan font-weight="bold" font-style="italic">x</tspan>,<tspan font-weight="bold" font-style="italic">y</tspan>)</text>
<path d="M380.8 406.9H378V457.2H380.8" stroke="#111" stroke-width="1.4" fill="none"/>
<path d="M393.5 406.9H396.3V457.2H393.5" stroke="#111" stroke-width="1.4" fill="none"/>
<text x="386.75" y="419.2" font-family='"Liberation Serif", serif' font-size="15" fill="#1a1a1a" text-anchor="middle"><tspan font-weight="bold" font-style="italic">ı</tspan></text>
<path d="M384.35 409.2H390.55" stroke="#1a1a1a" stroke-width="1" fill="none"/>
<path d="M389.15 407.5L392.15 409.2L389.15 410.9Z" fill="#1a1a1a"/>
<text x="386.75" y="435.2" font-family='"Liberation Serif", serif' font-size="15" fill="#1a1a1a" text-anchor="middle"><tspan font-weight="bold" font-style="italic">ȷ</tspan></text>
<path d="M384.65 426H390.85" stroke="#1a1a1a" stroke-width="1" fill="none"/>
<path d="M389.45 424.3L392.45 426L389.45 427.7Z" fill="#1a1a1a"/>
<text x="386.75" y="455.8" font-family='"Liberation Serif", serif' font-size="15" fill="#1a1a1a" text-anchor="middle"><tspan font-weight="bold" font-style="italic">k</tspan></text>
<path d="M383.75 443.5H389.95" stroke="#1a1a1a" stroke-width="1" fill="none"/>
<path d="M388.55 441.8L391.55 443.5L388.55 445.2Z" fill="#1a1a1a"/>
<path d="M232.8 478H229.6V530H232.8" stroke="#111" stroke-width="1.4" fill="none"/>
<path d="M369 478H372.2V530H369" stroke="#111" stroke-width="1.4" fill="none"/>
<text x="248.6" y="489.5" font-family='"Liberation Serif", serif' font-size="15" fill="#1a1a1a" text-anchor="middle" textLength="29.8" lengthAdjust="spacingAndGlyphs"><tspan font-weight="bold" font-style="italic">F</tspan>(<tspan font-weight="bold" font-style="italic">y</tspan>)</text>
<text x="293.3" y="489.5" font-family='"Liberation Serif", serif' font-size="15" fill="#1a1a1a" text-anchor="middle"><tspan font-weight="bold">0</tspan></text>
<text x="345.3" y="489.5" font-family='"Liberation Serif", serif' font-size="15" fill="#1a1a1a" text-anchor="middle"><tspan font-weight="bold">0</tspan></text>
<text x="248.6" y="507.3" font-family='"Liberation Serif", serif' font-size="15" fill="#1a1a1a" text-anchor="middle"><tspan font-weight="bold">0</tspan></text>
<text x="293.3" y="507.3" font-family='"Liberation Serif", serif' font-size="15" fill="#1a1a1a" text-anchor="middle" textLength="29.6" lengthAdjust="spacingAndGlyphs"><tspan font-weight="bold" font-style="italic">F</tspan>(<tspan font-weight="bold" font-style="italic">x</tspan>)</text>
<text x="345.3" y="507.3" font-family='"Liberation Serif", serif' font-size="15" fill="#1a1a1a" text-anchor="middle"><tspan font-weight="bold">0</tspan></text>
<text x="248.6" y="525.1" font-family='"Liberation Serif", serif' font-size="15" fill="#1a1a1a" text-anchor="middle"><tspan font-weight="bold">0</tspan></text>
<text x="293.3" y="525.1" font-family='"Liberation Serif", serif' font-size="15" fill="#1a1a1a" text-anchor="middle"><tspan font-weight="bold">0</tspan></text>
<text x="345.3" y="525.1" font-family='"Liberation Serif", serif' font-size="15" fill="#1a1a1a" text-anchor="middle" textLength="43.1" lengthAdjust="spacingAndGlyphs"><tspan font-weight="bold" font-style="italic">G</tspan>(<tspan font-weight="bold" font-style="italic">x</tspan>,<tspan font-weight="bold" font-style="italic">y</tspan>)</text>
<path d="M380.8 478H378V530H380.8" stroke="#111" stroke-width="1.4" fill="none"/>
<path d="M393.5 478H396.3V530H393.5" stroke="#111" stroke-width="1.4" fill="none"/>
<text x="386.75" y="490.3" font-family='"Liberation Serif", serif' font-size="15" fill="#1a1a1a" text-anchor="middle"><tspan font-weight="bold" font-style="italic">ı</tspan></text>
<path d="M384.35 480.3H390.55" stroke="#1a1a1a" stroke-width="1" fill="none"/>
<path d="M389.15 478.6L392.15 480.3L389.15 482Z" fill="#1a1a1a"/>
<text x="386.75" y="506.3" font-family='"Liberation Serif", serif' font-size="15" fill="#1a1a1a" text-anchor="middle"><tspan font-weight="bold" font-style="italic">ȷ</tspan></text>
<path d="M384.65 497.1H390.85" stroke="#1a1a1a" stroke-width="1" fill="none"/>
<path d="M389.45 495.4L392.45 497.1L389.45 498.8Z" fill="#1a1a1a"/>
<text x="386.75" y="528.6" font-family='"Liberation Serif", serif' font-size="15" fill="#1a1a1a" text-anchor="middle"><tspan font-weight="bold" font-style="italic">k</tspan></text>
<path d="M383.75 516.3H389.95" stroke="#1a1a1a" stroke-width="1" fill="none"/>
<path d="M388.55 514.6L391.55 516.3L388.55 518Z" fill="#1a1a1a"/>
<path d="M630.1 406.4H626.9V457.7H630.1" stroke="#111" stroke-width="1.4" fill="none"/>
<path d="M766.8 406.4H770V457.7H766.8" stroke="#111" stroke-width="1.4" fill="none"/>
<text x="645.8" y="417.2" font-family='"Liberation Serif", serif' font-size="15" fill="#1a1a1a" text-anchor="middle" textLength="29.6" lengthAdjust="spacingAndGlyphs"><tspan font-weight="bold" font-style="italic">F</tspan>(<tspan font-weight="bold" font-style="italic">x</tspan>)</text>
<text x="690" y="417.2" font-family='"Liberation Serif", serif' font-size="15" fill="#1a1a1a" text-anchor="middle"><tspan font-weight="bold">0</tspan></text>
<text x="743.6" y="417.2" font-family='"Liberation Serif", serif' font-size="15" fill="#1a1a1a" text-anchor="middle"><tspan font-weight="bold">0</tspan></text>
<text x="645.8" y="435" font-family='"Liberation Serif", serif' font-size="15" fill="#1a1a1a" text-anchor="middle"><tspan font-weight="bold">0</tspan></text>
<text x="690" y="435" font-family='"Liberation Serif", serif' font-size="15" fill="#1a1a1a" text-anchor="middle" textLength="29.8" lengthAdjust="spacingAndGlyphs"><tspan font-weight="bold" font-style="italic">F</tspan>(<tspan font-weight="bold" font-style="italic">y</tspan>)</text>
<text x="743.6" y="435" font-family='"Liberation Serif", serif' font-size="15" fill="#1a1a1a" text-anchor="middle"><tspan font-weight="bold">0</tspan></text>
<text x="645.8" y="453" font-family='"Liberation Serif", serif' font-size="15" fill="#1a1a1a" text-anchor="middle"><tspan font-weight="bold">0</tspan></text>
<text x="690" y="453" font-family='"Liberation Serif", serif' font-size="15" fill="#1a1a1a" text-anchor="middle"><tspan font-weight="bold">0</tspan></text>
<text x="743.6" y="453" font-family='"Liberation Serif", serif' font-size="15" fill="#1a1a1a" text-anchor="middle" textLength="45.5" lengthAdjust="spacingAndGlyphs"><tspan font-weight="bold" font-style="italic">H</tspan>(<tspan font-weight="bold" font-style="italic">x</tspan>,<tspan font-weight="bold" font-style="italic">y</tspan>)</text>
<path d="M779.6 406.4H776.8V457.7H779.6" stroke="#111" stroke-width="1.4" fill="none"/>
<path d="M791.2 406.4H794V457.7H791.2" stroke="#111" stroke-width="1.4" fill="none"/>
<text x="785" y="418.7" font-family='"Liberation Serif", serif' font-size="15" fill="#1a1a1a" text-anchor="middle"><tspan font-weight="bold" font-style="italic">ı</tspan></text>
<path d="M782.6 408.7H788.8" stroke="#1a1a1a" stroke-width="1" fill="none"/>
<path d="M787.4 407L790.4 408.7L787.4 410.4Z" fill="#1a1a1a"/>
<text x="785" y="434.7" font-family='"Liberation Serif", serif' font-size="15" fill="#1a1a1a" text-anchor="middle"><tspan font-weight="bold" font-style="italic">ȷ</tspan></text>
<path d="M782.9 425.5H789.1" stroke="#1a1a1a" stroke-width="1" fill="none"/>
<path d="M787.7 423.8L790.7 425.5L787.7 427.2Z" fill="#1a1a1a"/>
<text x="785" y="456.3" font-family='"Liberation Serif", serif' font-size="15" fill="#1a1a1a" text-anchor="middle"><tspan font-weight="bold" font-style="italic">k</tspan></text>
<path d="M782 444H788.2" stroke="#1a1a1a" stroke-width="1" fill="none"/>
<path d="M786.8 442.3L789.8 444L786.8 445.7Z" fill="#1a1a1a"/>
<path d="M630.1 478H626.9V530.7H630.1" stroke="#111" stroke-width="1.4" fill="none"/>
<path d="M766.8 478H770V530.7H766.8" stroke="#111" stroke-width="1.4" fill="none"/>
<text x="645.8" y="489.5" font-family='"Liberation Serif", serif' font-size="15" fill="#1a1a1a" text-anchor="middle" textLength="29.8" lengthAdjust="spacingAndGlyphs"><tspan font-weight="bold" font-style="italic">F</tspan>(<tspan font-weight="bold" font-style="italic">y</tspan>)</text>
<text x="690" y="489.5" font-family='"Liberation Serif", serif' font-size="15" fill="#1a1a1a" text-anchor="middle"><tspan font-weight="bold">0</tspan></text>
<text x="743.6" y="489.5" font-family='"Liberation Serif", serif' font-size="15" fill="#1a1a1a" text-anchor="middle"><tspan font-weight="bold">0</tspan></text>
<text x="645.8" y="507.8" font-family='"Liberation Serif", serif' font-size="15" fill="#1a1a1a" text-anchor="middle"><tspan font-weight="bold">0</tspan></text>
<text x="690" y="507.8" font-family='"Liberation Serif", serif' font-size="15" fill="#1a1a1a" text-anchor="middle" textLength="29.6" lengthAdjust="spacingAndGlyphs"><tspan font-weight="bold" font-style="italic">F</tspan>(<tspan font-weight="bold" font-style="italic">x</tspan>)</text>
<text x="743.6" y="507.8" font-family='"Liberation Serif", serif' font-size="15" fill="#1a1a1a" text-anchor="middle"><tspan font-weight="bold">0</tspan></text>
<text x="645.8" y="526" font-family='"Liberation Serif", serif' font-size="15" fill="#1a1a1a" text-anchor="middle"><tspan font-weight="bold">0</tspan></text>
<text x="690" y="526" font-family='"Liberation Serif", serif' font-size="15" fill="#1a1a1a" text-anchor="middle"><tspan font-weight="bold">0</tspan></text>
<text x="743.6" y="526" font-family='"Liberation Serif", serif' font-size="15" fill="#1a1a1a" text-anchor="middle" textLength="45.5" lengthAdjust="spacingAndGlyphs"><tspan font-weight="bold" font-style="italic">H</tspan>(<tspan font-weight="bold" font-style="italic">x</tspan>,<tspan font-weight="bold" font-style="italic">y</tspan>)</text>
<path d="M779.6 478H776.8V530.7H779.6" stroke="#111" stroke-width="1.4" fill="none"/>
<path d="M791.2 478H794V530.7H791.2" stroke="#111" stroke-width="1.4" fill="none"/>
<text x="785" y="490.3" font-family='"Liberation Serif", serif' font-size="15" fill="#1a1a1a" text-anchor="middle"><tspan font-weight="bold" font-style="italic">ı</tspan></text>
<path d="M782.6 480.3H788.8" stroke="#1a1a1a" stroke-width="1" fill="none"/>
<path d="M787.4 478.6L790.4 480.3L787.4 482Z" fill="#1a1a1a"/>
<text x="785" y="506.3" font-family='"Liberation Serif", serif' font-size="15" fill="#1a1a1a" text-anchor="middle"><tspan font-weight="bold" font-style="italic">ȷ</tspan></text>
<path d="M782.9 497.1H789.1" stroke="#1a1a1a" stroke-width="1" fill="none"/>
<path d="M787.7 495.4L790.7 497.1L787.7 498.8Z" fill="#1a1a1a"/>
<text x="785" y="529.3" font-family='"Liberation Serif", serif' font-size="15" fill="#1a1a1a" text-anchor="middle"><tspan font-weight="bold" font-style="italic">k</tspan></text>
<path d="M782 517H788.2" stroke="#1a1a1a" stroke-width="1" fill="none"/>
<path d="M786.8 515.3L789.8 517L786.8 518.7Z" fill="#1a1a1a"/>
<path d="M248.8 725.7H245.6V777.7H248.8" stroke="#111" stroke-width="1.4" fill="none"/>
<path d="M368.8 725.7H372V777.7H368.8" stroke="#111" stroke-width="1.4" fill="none"/>
<text x="265.2" y="737.2" font-family='"Liberation Serif", serif' font-size="15" fill="#1a1a1a" text-anchor="middle" textLength="29.6" lengthAdjust="spacingAndGlyphs"><tspan font-weight="bold" font-style="italic">F</tspan>(<tspan font-weight="bold" font-style="italic">x</tspan>)</text>
<text x="309.8" y="737.2" font-family='"Liberation Serif", serif' font-size="15" fill="#1a1a1a" text-anchor="middle"><tspan font-weight="bold">0</tspan></text>
<text x="353.9" y="737.2" font-family='"Liberation Serif", serif' font-size="15" fill="#1a1a1a" text-anchor="middle"><tspan font-weight="bold">0</tspan></text>
<text x="265.2" y="755.5" font-family='"Liberation Serif", serif' font-size="15" fill="#1a1a1a" text-anchor="middle"><tspan font-weight="bold">0</tspan></text>
<text x="309.8" y="755.5" font-family='"Liberation Serif", serif' font-size="15" fill="#1a1a1a" text-anchor="middle" textLength="29.8" lengthAdjust="spacingAndGlyphs"><tspan font-weight="bold" font-style="italic">F</tspan>(<tspan font-weight="bold" font-style="italic">y</tspan>)</text>
<text x="353.9" y="755.5" font-family='"Liberation Serif", serif' font-size="15" fill="#1a1a1a" text-anchor="middle"><tspan font-weight="bold">0</tspan></text>
<text x="265.2" y="773.8" font-family='"Liberation Serif", serif' font-size="15" fill="#1a1a1a" text-anchor="middle"><tspan font-weight="bold">0</tspan></text>
<text x="309.8" y="773.8" font-family='"Liberation Serif", serif' font-size="15" fill="#1a1a1a" text-anchor="middle"><tspan font-weight="bold">0</tspan></text>
<text x="353.9" y="773.8" font-family='"Liberation Serif", serif' font-size="15" fill="#1a1a1a" text-anchor="middle" textLength="29.4" lengthAdjust="spacingAndGlyphs"><tspan font-weight="bold" font-style="italic">F</tspan>(<tspan font-weight="bold" font-style="italic">z</tspan>)</text>
<path d="M381.2 725.7H378.4V777.7H381.2" stroke="#111" stroke-width="1.4" fill="none"/>
<path d="M392 725.7H394.8V777.7H392" stroke="#111" stroke-width="1.4" fill="none"/>
<text x="386.2" y="738" font-family='"Liberation Serif", serif' font-size="15" fill="#1a1a1a" text-anchor="middle"><tspan font-weight="bold" font-style="italic">ı</tspan></text>
<path d="M383.8 728H390" stroke="#1a1a1a" stroke-width="1" fill="none"/>
<path d="M388.6 726.3L391.6 728L388.6 729.7Z" fill="#1a1a1a"/>
<text x="386.2" y="754" font-family='"Liberation Serif", serif' font-size="15" fill="#1a1a1a" text-anchor="middle"><tspan font-weight="bold" font-style="italic">ȷ</tspan></text>
<path d="M384.1 744.8H390.3" stroke="#1a1a1a" stroke-width="1" fill="none"/>
<path d="M388.9 743.1L391.9 744.8L388.9 746.5Z" fill="#1a1a1a"/>
<text x="386.2" y="776.3" font-family='"Liberation Serif", serif' font-size="15" fill="#1a1a1a" text-anchor="middle"><tspan font-weight="bold" font-style="italic">k</tspan></text>
<path d="M383.2 764H389.4" stroke="#1a1a1a" stroke-width="1" fill="none"/>
<path d="M388 762.3L391 764L388 765.7Z" fill="#1a1a1a"/>
<path d="M237.3 795.7H234.1V848.4H237.3" stroke="#111" stroke-width="1.4" fill="none"/>
<path d="M368.8 795.7H372V848.4H368.8" stroke="#111" stroke-width="1.4" fill="none"/>
<text x="253" y="807.5" font-family='"Liberation Serif", serif' font-size="15" fill="#1a1a1a" text-anchor="middle" textLength="29.8" lengthAdjust="spacingAndGlyphs"><tspan font-weight="bold" font-style="italic">F</tspan>(<tspan font-weight="bold" font-style="italic">y</tspan>)</text>
<text x="297.5" y="807.5" font-family='"Liberation Serif", serif' font-size="15" fill="#1a1a1a" text-anchor="middle"><tspan font-weight="bold">0</tspan></text>
<text x="348.2" y="807.5" font-family='"Liberation Serif", serif' font-size="15" fill="#1a1a1a" text-anchor="middle"><tspan font-weight="bold">0</tspan></text>
<text x="253" y="826.2" font-family='"Liberation Serif", serif' font-size="15" fill="#1a1a1a" text-anchor="middle"><tspan font-weight="bold">0</tspan></text>
<text x="297.5" y="826.2" font-family='"Liberation Serif", serif' font-size="15" fill="#1a1a1a" text-anchor="middle" textLength="29.6" lengthAdjust="spacingAndGlyphs"><tspan font-weight="bold" font-style="italic">F</tspan>(<tspan font-weight="bold" font-style="italic">x</tspan>)</text>
<text x="348.2" y="826.2" font-family='"Liberation Serif", serif' font-size="15" fill="#1a1a1a" text-anchor="middle"><tspan font-weight="bold">0</tspan></text>
<text x="253" y="845" font-family='"Liberation Serif", serif' font-size="15" fill="#1a1a1a" text-anchor="middle"><tspan font-weight="bold">0</tspan></text>
<text x="297.5" y="845" font-family='"Liberation Serif", serif' font-size="15" fill="#1a1a1a" text-anchor="middle"><tspan font-weight="bold">0</tspan></text>
<text x="348.2" y="845" font-family='"Liberation Serif", serif' font-size="15" fill="#1a1a1a" text-anchor="middle" textLength="40.9" lengthAdjust="spacingAndGlyphs"><tspan font-weight="bold" font-style="italic">I</tspan>(<tspan font-weight="bold" font-style="italic">x</tspan>,<tspan font-weight="bold" font-style="italic">y</tspan>)</text>
<path d="M381.6 795.7H378.8V848.4H381.6" stroke="#111" stroke-width="1.4" fill="none"/>
<path d="M392 795.7H394.8V848.4H392" stroke="#111" stroke-width="1.4" fill="none"/>
<text x="386.4" y="808" font-family='"Liberation Serif", serif' font-size="15" fill="#1a1a1a" text-anchor="middle"><tspan font-weight="bold" font-style="italic">ı</tspan></text>
<path d="M384 798H390.2" stroke="#1a1a1a" stroke-width="1" fill="none"/>
<path d="M388.8 796.3L391.8 798L388.8 799.7Z" fill="#1a1a1a"/>
<text x="386.4" y="824" font-family='"Liberation Serif", serif' font-size="15" fill="#1a1a1a" text-anchor="middle"><tspan font-weight="bold" font-style="italic">ȷ</tspan></text>
<path d="M384.3 814.8H390.5" stroke="#1a1a1a" stroke-width="1" fill="none"/>
<path d="M389.1 813.1L392.1 814.8L389.1 816.5Z" fill="#1a1a1a"/>
<text x="386.4" y="847" font-family='"Liberation Serif", serif' font-size="15" fill="#1a1a1a" text-anchor="middle"><tspan font-weight="bold" font-style="italic">k</tspan></text>
<path d="M383.4 834.7H389.6" stroke="#1a1a1a" stroke-width="1" fill="none"/>
<path d="M388.2 833L391.2 834.7L388.2 836.4Z" fill="#1a1a1a"/>
<path d="M633.9 725H630.7V777.2H633.9" stroke="#111" stroke-width="1.4" fill="none"/>
<path d="M764.9 725H768.1V777.2H764.9" stroke="#111" stroke-width="1.4" fill="none"/>
<text x="649.8" y="736.5" font-family='"Liberation Serif", serif' font-size="15" fill="#1a1a1a" text-anchor="middle" textLength="29.8" lengthAdjust="spacingAndGlyphs"><tspan font-weight="bold" font-style="italic">F</tspan>(<tspan font-weight="bold" font-style="italic">y</tspan>)</text>
<text x="694.2" y="736.5" font-family='"Liberation Serif", serif' font-size="15" fill="#1a1a1a" text-anchor="middle"><tspan font-weight="bold">0</tspan></text>
<text x="743.8" y="736.5" font-family='"Liberation Serif", serif' font-size="15" fill="#1a1a1a" text-anchor="middle"><tspan font-weight="bold">0</tspan></text>
<text x="649.8" y="755.2" font-family='"Liberation Serif", serif' font-size="15" fill="#1a1a1a" text-anchor="middle"><tspan font-weight="bold">0</tspan></text>
<text x="694.2" y="755.2" font-family='"Liberation Serif", serif' font-size="15" fill="#1a1a1a" text-anchor="middle" textLength="29.6" lengthAdjust="spacingAndGlyphs"><tspan font-weight="bold" font-style="italic">F</tspan>(<tspan font-weight="bold" font-style="italic">x</tspan>)</text>
<text x="743.8" y="755.2" font-family='"Liberation Serif", serif' font-size="15" fill="#1a1a1a" text-anchor="middle"><tspan font-weight="bold">0</tspan></text>
<text x="649.8" y="773.8" font-family='"Liberation Serif", serif' font-size="15" fill="#1a1a1a" text-anchor="middle"><tspan font-weight="bold">0</tspan></text>
<text x="694.2" y="773.8" font-family='"Liberation Serif", serif' font-size="15" fill="#1a1a1a" text-anchor="middle"><tspan font-weight="bold">0</tspan></text>
<text x="743.8" y="773.8" font-family='"Liberation Serif", serif' font-size="15" fill="#1a1a1a" text-anchor="middle" textLength="40.9" lengthAdjust="spacingAndGlyphs"><tspan font-weight="bold" font-style="italic">J</tspan>(<tspan font-weight="bold" font-style="italic">x</tspan>,<tspan font-weight="bold" font-style="italic">y</tspan>)</text>
<path d="M777.8 725H775V777.2H777.8" stroke="#111" stroke-width="1.4" fill="none"/>
<path d="M790.5 725H793.3V777.2H790.5" stroke="#111" stroke-width="1.4" fill="none"/>
<text x="783.75" y="737.3" font-family='"Liberation Serif", serif' font-size="15" fill="#1a1a1a" text-anchor="middle"><tspan font-weight="bold" font-style="italic">ı</tspan></text>
<path d="M781.35 727.3H787.55" stroke="#1a1a1a" stroke-width="1" fill="none"/>
<path d="M786.15 725.6L789.15 727.3L786.15 729Z" fill="#1a1a1a"/>
<text x="783.75" y="753.3" font-family='"Liberation Serif", serif' font-size="15" fill="#1a1a1a" text-anchor="middle"><tspan font-weight="bold" font-style="italic">ȷ</tspan></text>
<path d="M781.65 744.1H787.85" stroke="#1a1a1a" stroke-width="1" fill="none"/>
<path d="M786.45 742.4L789.45 744.1L786.45 745.8Z" fill="#1a1a1a"/>
<text x="783.75" y="775.8" font-family='"Liberation Serif", serif' font-size="15" fill="#1a1a1a" text-anchor="middle"><tspan font-weight="bold" font-style="italic">k</tspan></text>
<path d="M780.75 763.5H786.95" stroke="#1a1a1a" stroke-width="1" fill="none"/>
<path d="M785.55 761.8L788.55 763.5L785.55 765.2Z" fill="#1a1a1a"/>
<path d="M629.6 796.9H626.4V849H629.6" stroke="#111" stroke-width="1.4" fill="none"/>
<path d="M766.8 796.9H770V849H766.8" stroke="#111" stroke-width="1.4" fill="none"/>
<text x="645.8" y="808.3" font-family='"Liberation Serif", serif' font-size="15" fill="#1a1a1a" text-anchor="middle" textLength="29.8" lengthAdjust="spacingAndGlyphs"><tspan font-weight="bold" font-style="italic">F</tspan>(<tspan font-weight="bold" font-style="italic">y</tspan>)</text>
<text x="690" y="808.3" font-family='"Liberation Serif", serif' font-size="15" fill="#1a1a1a" text-anchor="middle"><tspan font-weight="bold">0</tspan></text>
<text x="743.3" y="808.3" font-family='"Liberation Serif", serif' font-size="15" fill="#1a1a1a" text-anchor="middle"><tspan font-weight="bold">0</tspan></text>
<text x="645.8" y="826.7" font-family='"Liberation Serif", serif' font-size="15" fill="#1a1a1a" text-anchor="middle"><tspan font-weight="bold">0</tspan></text>
<text x="690" y="826.7" font-family='"Liberation Serif", serif' font-size="15" fill="#1a1a1a" text-anchor="middle" textLength="29.6" lengthAdjust="spacingAndGlyphs"><tspan font-weight="bold" font-style="italic">F</tspan>(<tspan font-weight="bold" font-style="italic">x</tspan>)</text>
<text x="743.3" y="826.7" font-family='"Liberation Serif", serif' font-size="15" fill="#1a1a1a" text-anchor="middle"><tspan font-weight="bold">0</tspan></text>
<text x="645.8" y="845" font-family='"Liberation Serif", serif' font-size="15" fill="#1a1a1a" text-anchor="middle"><tspan font-weight="bold">0</tspan></text>
<text x="690" y="845" font-family='"Liberation Serif", serif' font-size="15" fill="#1a1a1a" text-anchor="middle"><tspan font-weight="bold">0</tspan></text>
<text x="743.3" y="845" font-family='"Liberation Serif", serif' font-size="15" fill="#1a1a1a" text-anchor="middle" textLength="45.5" lengthAdjust="spacingAndGlyphs"><tspan font-weight="bold" font-style="italic">K</tspan>(<tspan font-weight="bold" font-style="italic">x</tspan>,<tspan font-weight="bold" font-style="italic">y</tspan>)</text>
<path d="M778.5 796.9H775.7V849H778.5" stroke="#111" stroke-width="1.4" fill="none"/>
<path d="M790 796.9H792.8V849H790" stroke="#111" stroke-width="1.4" fill="none"/>
<text x="783.85" y="809.2" font-family='"Liberation Serif", serif' font-size="15" fill="#1a1a1a" text-anchor="middle"><tspan font-weight="bold" font-style="italic">ı</tspan></text>
<path d="M781.45 799.2H787.65" stroke="#1a1a1a" stroke-width="1" fill="none"/>
<path d="M786.25 797.5L789.25 799.2L786.25 800.9Z" fill="#1a1a1a"/>
<text x="783.85" y="825.2" font-family='"Liberation Serif", serif' font-size="15" fill="#1a1a1a" text-anchor="middle"><tspan font-weight="bold" font-style="italic">ȷ</tspan></text>
<path d="M781.75 816H787.95" stroke="#1a1a1a" stroke-width="1" fill="none"/>
<path d="M786.55 814.3L789.55 816L786.55 817.7Z" fill="#1a1a1a"/>
<text x="783.85" y="847.6" font-family='"Liberation Serif", serif' font-size="15" fill="#1a1a1a" text-anchor="middle"><tspan font-weight="bold" font-style="italic">k</tspan></text>
<path d="M780.85 835.3H787.05" stroke="#1a1a1a" stroke-width="1" fill="none"/>
<path d="M785.65 833.6L788.65 835.3L785.65 837Z" fill="#1a1a1a"/>
<path d="M214.4 71.7L214.4 60.8" stroke="#801a34" stroke-width="1.35"/>
<path d="M214.4 56L216.6 60.8L212.2 60.8Z" fill="#801a34" stroke="#c8284a" stroke-width="0.5"/>
<path d="M221.43 71.7L221.43 60.8" stroke="#801a34" stroke-width="1.35"/>
<path d="M221.43 56L223.63 60.8L219.23 60.8Z" fill="#801a34" stroke="#c8284a" stroke-width="0.5"/>
<path d="M228.46 71.7L228.46 60.8" stroke="#801a34" stroke-width="1.35"/>
<path d="M228.46 56L230.66 60.8L226.26 60.8Z" fill="#801a34" stroke="#c8284a" stroke-width="0.5"/>
<path d="M235.49 71.7L235.49 60.8" stroke="#801a34" stroke-width="1.35"/>
<path d="M235.49 56L237.69 60.8L233.29 60.8Z" fill="#801a34" stroke="#c8284a" stroke-width="0.5"/>
<path d="M242.52 71.7L242.52 60.8" stroke="#801a34" stroke-width="1.35"/>
<path d="M242.52 56L244.72 60.8L240.32 60.8Z" fill="#801a34" stroke="#c8284a" stroke-width="0.5"/>
<path d="M249.55 71.7L249.55 60.8" stroke="#801a34" stroke-width="1.35"/>
<path d="M249.55 56L251.75 60.8L247.35 60.8Z" fill="#801a34" stroke="#c8284a" stroke-width="0.5"/>
<path d="M256.58 71.7L256.58 60.8" stroke="#801a34" stroke-width="1.35"/>
<path d="M256.58 56L258.78 60.8L254.38 60.8Z" fill="#801a34" stroke="#c8284a" stroke-width="0.5"/>
<path d="M263.61 71.7L263.61 60.8" stroke="#801a34" stroke-width="1.35"/>
<path d="M263.61 56L265.81 60.8L261.41 60.8Z" fill="#801a34" stroke="#c8284a" stroke-width="0.5"/>
<path d="M270.64 71.7L270.64 60.8" stroke="#801a34" stroke-width="1.35"/>
<path d="M270.64 56L272.84 60.8L268.44 60.8Z" fill="#801a34" stroke="#c8284a" stroke-width="0.5"/>
<path d="M277.67 71.7L277.67 60.8" stroke="#801a34" stroke-width="1.35"/>
<path d="M277.67 56L279.87 60.8L275.47 60.8Z" fill="#801a34" stroke="#c8284a" stroke-width="0.5"/>
<path d="M284.7 71.7L284.7 60.8" stroke="#801a34" stroke-width="1.35"/>
<path d="M284.7 56L286.9 60.8L282.5 60.8Z" fill="#801a34" stroke="#c8284a" stroke-width="0.5"/>
<path d="M291.7 70.2L291.7 62.2" stroke="#6e5a30" stroke-width="1.2" opacity="0.9"/>
<path d="M291.7 58.2L293.6 62.2L289.8 62.2Z" fill="#6e5a30" opacity="0.9"/>
<path d="M298.8 68.5L298.8 63.5" stroke="#a09870" stroke-width="1" opacity="0.55"/>
<path d="M298.8 60.5L300.3 63.5L297.3 63.5Z" fill="#a09870" opacity="0.55"/>
<path d="M305.8 66.5L305.8 64.5" stroke="#b0b0a0" stroke-width="0.9" opacity="0.4"/>
<path d="M305.8 62.5L306.8 64.5L304.8 64.5Z" fill="#b0b0a0" opacity="0.4"/>
<path d="M326.6 61.5L326.6 64" stroke="#a0a0b0" stroke-width="0.9" opacity="0.4"/>
<path d="M326.6 66L325.6 64L327.6 64Z" fill="#a0a0b0" opacity="0.4"/>
<path d="M333.8 59.5L333.8 64.8" stroke="#8a8aa0" stroke-width="1" opacity="0.6"/>
<path d="M333.8 67.8L332.3 64.8L335.3 64.8Z" fill="#8a8aa0" opacity="0.6"/>
<path d="M340.8 56.5L340.8 65.6" stroke="#3a3a78" stroke-width="1.2" opacity="0.9"/>
<path d="M340.8 69.6L338.9 65.6L342.7 65.6Z" fill="#3a3a78" opacity="0.9"/>
<path d="M347.9 55L347.9 65.6" stroke="#1c1870" stroke-width="1.35"/>
<path d="M347.9 70.4L345.7 65.6L350.1 65.6Z" fill="#1c1870" stroke="#2c2ca8" stroke-width="0.5"/>
<path d="M354.95 55L354.95 65.6" stroke="#1c1870" stroke-width="1.35"/>
<path d="M354.95 70.4L352.75 65.6L357.15 65.6Z" fill="#1c1870" stroke="#2c2ca8" stroke-width="0.5"/>
<path d="M362 55L362 65.6" stroke="#1c1870" stroke-width="1.35"/>
<path d="M362 70.4L359.8 65.6L364.2 65.6Z" fill="#1c1870" stroke="#2c2ca8" stroke-width="0.5"/>
<path d="M369.05 55L369.05 65.6" stroke="#1c1870" stroke-width="1.35"/>
<path d="M369.05 70.4L366.85 65.6L371.25 65.6Z" fill="#1c1870" stroke="#2c2ca8" stroke-width="0.5"/>
<path d="M376.1 55L376.1 65.6" stroke="#1c1870" stroke-width="1.35"/>
<path d="M376.1 70.4L373.9 65.6L378.3 65.6Z" fill="#1c1870" stroke="#2c2ca8" stroke-width="0.5"/>
<path d="M383.15 55L383.15 65.6" stroke="#1c1870" stroke-width="1.35"/>
<path d="M383.15 70.4L380.95 65.6L385.35 65.6Z" fill="#1c1870" stroke="#2c2ca8" stroke-width="0.5"/>
<path d="M390.2 55L390.2 65.6" stroke="#1c1870" stroke-width="1.35"/>
<path d="M390.2 70.4L388 65.6L392.4 65.6Z" fill="#1c1870" stroke="#2c2ca8" stroke-width="0.5"/>
<path d="M397.25 55L397.25 65.6" stroke="#1c1870" stroke-width="1.35"/>
<path d="M397.25 70.4L395.05 65.6L399.45 65.6Z" fill="#1c1870" stroke="#2c2ca8" stroke-width="0.5"/>
<path d="M404.3 55L404.3 65.6" stroke="#1c1870" stroke-width="1.35"/>
<path d="M404.3 70.4L402.1 65.6L406.5 65.6Z" fill="#1c1870" stroke="#2c2ca8" stroke-width="0.5"/>
<path d="M411.35 55L411.35 65.6" stroke="#1c1870" stroke-width="1.35"/>
<path d="M411.35 70.4L409.15 65.6L413.55 65.6Z" fill="#1c1870" stroke="#2c2ca8" stroke-width="0.5"/>
<path d="M418.4 55L418.4 65.6" stroke="#1c1870" stroke-width="1.35"/>
<path d="M418.4 70.4L416.2 65.6L420.6 65.6Z" fill="#1c1870" stroke="#2c2ca8" stroke-width="0.5"/>
<path d="M529 63.2H548" stroke="#6a1020" stroke-width="1.7"/>
<path d="M545 63.2H628" stroke="#b06040" stroke-width="0.9" opacity="0.6"/>
<path d="M549.4 63.2L542.4 59L543.24 63.2L542.4 67.4Z" fill="#b8142e" opacity="1"/>
<path d="M555.56 63.2L548.7 59.09L549.52 63.2L548.7 67.31Z" fill="#b8182e" opacity="1"/>
<path d="M561.74 63.2L555.1 59.21L555.9 63.2L555.1 67.19Z" fill="#b81d2f" opacity="1"/>
<path d="M567.8 63.2L561.4 59.36L562.17 63.2L561.4 67.04Z" fill="#b8212f" opacity="1"/>
<path d="M573.92 63.2L567.8 59.53L568.53 63.2L567.8 66.87Z" fill="#b82630" opacity="1"/>
<path d="M580.03 63.2L574.2 59.7L574.9 63.2L574.2 66.7Z" fill="#b83430" opacity="1"/>
<path d="M585.81 63.2L580.3 59.89L580.96 63.2L580.3 66.51Z" fill="#b84d2f" opacity="1"/>
<path d="M591.48 63.2L586.3 60.09L586.92 63.2L586.3 66.31Z" fill="#b66430" opacity="1"/>
<path d="M597.04 63.2L592.2 60.3L592.78 63.2L592.2 66.1Z" fill="#b07537" opacity="1"/>
<path d="M602.48 63.2L598 60.51L598.54 63.2L598 65.89Z" fill="#aa853e" opacity="1"/>
<path d="M607.91 63.2L603.8 60.74L604.29 63.2L603.8 65.66Z" fill="#aa9248" opacity="0.89"/>
<path d="M613.33 63.2L609.6 60.96L610.05 63.2L609.6 65.44Z" fill="#ad9d54" opacity="0.78"/>
<path d="M618.73 63.2L615.4 61.2L615.8 63.2L615.4 65.2Z" fill="#b0a860" opacity="0.67"/>
<path d="M624.13 63.2L621.2 61.44L621.55 63.2L621.2 64.96Z" fill="#bbb475" opacity="0.57"/>
<path d="M629.52 63.2L627 61.69L627.3 63.2L627 64.71Z" fill="#c5c08b" opacity="0.46"/>
<path d="M634.9 63.2L632.8 61.94L633.05 63.2L632.8 64.46Z" fill="#d0cca0" opacity="0.35"/>
<path d="M738 63.2H753.6" stroke="#1a1470" stroke-width="1.8"/>
<path d="M652 63.2H740" stroke="#404080" stroke-width="0.9" opacity="0.6"/>
<path d="M734.2 63.2L741.2 59L740.36 63.2L741.2 67.4Z" fill="#1c1690" opacity="1"/>
<path d="M727.34 63.2L734.2 59.09L733.38 63.2L734.2 67.31Z" fill="#1f1992" opacity="1"/>
<path d="M720.76 63.2L727.4 59.21L726.6 63.2L727.4 67.19Z" fill="#221c94" opacity="1"/>
<path d="M714.6 63.2L721 59.36L720.23 63.2L721 67.04Z" fill="#251f95" opacity="1"/>
<path d="M708.48 63.2L714.6 59.53L713.87 63.2L714.6 66.87Z" fill="#282297" opacity="1"/>
<path d="M702.37 63.2L708.2 59.7L707.5 63.2L708.2 66.7Z" fill="#2e2996" opacity="1"/>
<path d="M696.49 63.2L702 59.89L701.34 63.2L702 66.51Z" fill="#353291" opacity="1"/>
<path d="M690.62 63.2L695.8 60.09L695.18 63.2L695.8 66.31Z" fill="#3c3b8c" opacity="1"/>
<path d="M685.16 63.2L690 60.3L689.42 63.2L690 66.1Z" fill="#454587" opacity="1"/>
<path d="M680.12 63.2L684.6 60.51L684.06 63.2L684.6 65.89Z" fill="#505081" opacity="1"/>
<path d="M674.89 63.2L679 60.74L678.51 63.2L679 65.66Z" fill="#5b5b7b" opacity="0.89"/>
<path d="M669.57 63.2L673.3 60.96L672.85 63.2L673.3 65.44Z" fill="#69697c" opacity="0.78"/>
<path d="M664.27 63.2L667.6 61.2L667.2 63.2L667.6 65.2Z" fill="#7c7c84" opacity="0.67"/>
<path d="M658.87 63.2L661.8 61.44L661.45 63.2L661.8 64.96Z" fill="#8f8f8f" opacity="0.57"/>
<path d="M653.98 63.2L656.5 61.69L656.2 63.2L656.5 64.71Z" fill="#a4a4a4" opacity="0.46"/>
<path d="M648.3 63.2L650.4 61.94L650.15 63.2L650.4 64.46Z" fill="#b8b8b8" opacity="0.35"/>
<ellipse cx="315" cy="168.5" rx="26" ry="3.5" fill="#c8f0a0" opacity="0.45"/>
<path d="M217.42 177.8L217.85 163.8" stroke="#7a1b30" stroke-width="1.15"/>
<path d="M217.98 159.8L219.65 163.86L216.06 163.75Z" fill="#7a1b30"/>
<path d="M223.38 177.78L224.25 163.81" stroke="#7a1d30" stroke-width="1.15"/>
<path d="M224.5 159.82L226.05 163.92L222.46 163.7Z" fill="#7a1d30"/>
<path d="M229.23 177.75L230.71 163.83" stroke="#7a1f30" stroke-width="1.15"/>
<path d="M231.13 159.85L232.5 164.02L228.92 163.64Z" fill="#7a1f30"/>
<path d="M235.08 177.7L237.16 163.86" stroke="#7a2130" stroke-width="1.15"/>
<path d="M237.76 159.9L238.94 164.12L235.39 163.59Z" fill="#7a2130"/>
<path d="M240.73 177.59L243.73 163.92" stroke="#7a2430" stroke-width="1.15"/>
<path d="M244.59 160.01L245.49 164.3L241.98 163.53Z" fill="#7a2430"/>
<path d="M246.12 177.36L250.45 164.04" stroke="#7a2930" stroke-width="1.15"/>
<path d="M251.68 160.24L252.16 164.6L248.73 163.49Z" fill="#7a2930"/>
<path d="M251.53 177.05L257.14 164.22" stroke="#7d3330" stroke-width="1.15"/>
<path d="M258.75 160.55L258.79 164.94L255.49 163.5Z" fill="#7d3330"/>
<path d="M256.95 176.63L263.84 164.45" stroke="#81412f" stroke-width="1.15"/>
<path d="M265.81 160.97L265.41 165.34L262.28 163.56Z" fill="#81412f"/>
<path d="M262.28 176.05L270.59 164.77" stroke="#87512e" stroke-width="1.15"/>
<path d="M272.96 161.55L272.03 165.84L269.14 163.71Z" fill="#87512e"/>
<path d="M267.69 175.36L277.29 165.16" stroke="#90682f" stroke-width="1.15"/>
<path d="M280.03 162.24L278.6 166.39L275.97 163.92Z" fill="#90682f"/>
<path d="M273.19 174.57L283.94 165.6" stroke="#9a7f30" stroke-width="1.15"/>
<path d="M287.01 163.03L285.09 166.98L282.78 164.21Z" fill="#9a7f30"/>
<path d="M278.6 173.4L290.64 166.25" stroke="#a09630" stroke-width="1.15"/>
<path d="M294.08 164.2L291.56 167.79L289.72 164.7Z" fill="#a09630"/>
<path d="M284.21 172.11L297.23 166.96" stroke="#a7ac30" stroke-width="1.15"/>
<path d="M300.95 165.49L297.89 168.64L296.57 165.29Z" fill="#a7ac30"/>
<path d="M290.04 170.77L303.7 167.7" stroke="#8eb630" stroke-width="1.15"/>
<path d="M307.6 166.83L304.09 169.46L303.3 165.95Z" fill="#8eb630"/>
<path d="M296.08 169.42L310.05 168.45" stroke="#6ebd30" stroke-width="1.15"/>
<path d="M314.04 168.18L310.17 170.25L309.92 166.66Z" fill="#6ebd30"/>
<path d="M302.31 169.11L316.3 168.63" stroke="#67be30" stroke-width="1.15"/>
<path d="M320.29 168.49L316.36 170.43L316.23 166.83Z" fill="#67be30"/>
<path d="M308.54 168.8L322.54 168.8" stroke="#60c030" stroke-width="1.15"/>
<path d="M326.54 168.8L322.54 170.6L322.54 167Z" fill="#60c030"/>
<path d="M314.79 168.48L328.78 168.98" stroke="#5eb833" stroke-width="1.15"/>
<path d="M332.77 169.12L328.71 170.77L328.84 167.18Z" fill="#5eb833"/>
<path d="M321.04 168.17L335.01 169.15" stroke="#5bb036" stroke-width="1.15"/>
<path d="M339 169.43L334.88 170.95L335.13 167.36Z" fill="#5bb036"/>
<path d="M327.44 167L341.16 169.8" stroke="#529341" stroke-width="1.15"/>
<path d="M345.08 170.6L340.8 171.56L341.52 168.03Z" fill="#529341"/>
<path d="M333.99 165.87L347.23 170.43" stroke="#4a784a" stroke-width="1.15"/>
<path d="M351.01 171.73L346.64 172.13L347.81 168.73Z" fill="#4a784a"/>
<path d="M340.72 164.72L353.2 171.07" stroke="#48654c" stroke-width="1.15"/>
<path d="M356.76 172.88L352.38 172.67L354.01 169.46Z" fill="#48654c"/>
<path d="M347.64 163.6L359.06 171.69" stroke="#45524f" stroke-width="1.15"/>
<path d="M362.32 174L358.02 173.16L360.1 170.22Z" fill="#45524f"/>
<path d="M354.69 162.61L364.85 172.24" stroke="#414555" stroke-width="1.15"/>
<path d="M367.75 174.99L363.61 173.55L366.09 170.93Z" fill="#414555"/>
<path d="M361.79 161.81L370.61 172.68" stroke="#3d3f5e" stroke-width="1.15"/>
<path d="M373.13 175.79L369.21 173.82L372.01 171.55Z" fill="#3d3f5e"/>
<path d="M368.99 161.13L376.32 173.06" stroke="#383867" stroke-width="1.15"/>
<path d="M378.41 176.47L374.78 174L377.85 172.12Z" fill="#383867"/>
<path d="M376.13 160.65L382.06 173.33" stroke="#32316b" stroke-width="1.15"/>
<path d="M383.75 176.95L380.43 174.09L383.69 172.57Z" fill="#32316b"/>
<path d="M383.28 160.28L387.79 173.53" stroke="#2b2a6d" stroke-width="1.15"/>
<path d="M389.08 177.32L386.09 174.11L389.5 172.95Z" fill="#2b2a6d"/>
<path d="M390.34 160.04L393.58 173.66" stroke="#25236f" stroke-width="1.15"/>
<path d="M394.5 177.56L391.83 174.08L395.33 173.25Z" fill="#25236f"/>
<path d="M397.22 159.92L399.46 173.74" stroke="#211f70" stroke-width="1.15"/>
<path d="M400.1 177.68L397.68 174.02L401.24 173.45Z" fill="#211f70"/>
<path d="M404.11 159.84L405.34 173.78" stroke="#1f1d71" stroke-width="1.15"/>
<path d="M405.69 177.76L403.55 173.94L407.13 173.62Z" fill="#1f1d71"/>
<path d="M410.55 159.82L411.47 173.79" stroke="#1e1c71" stroke-width="1.15"/>
<path d="M411.73 177.78L409.67 173.91L413.27 173.67Z" fill="#1e1c71"/>
<path d="M416.98 159.81L417.6 173.8" stroke="#1d1b72" stroke-width="1.15"/>
<path d="M417.78 177.79L415.8 173.87L419.4 173.72Z" fill="#1d1b72"/>
<path d="M529.8 182.65L529.8 166.75" stroke="#7a1a30" stroke-width="1.25"/>
<path d="M529.8 162.15L531.7 166.75L527.9 166.75Z" fill="#7a1a30"/>
<path d="M536.23 182.62L536.23 166.78" stroke="#7d1d30" stroke-width="1.25"/>
<path d="M536.23 162.18L538.13 166.78L534.33 166.78Z" fill="#7d1d30"/>
<path d="M542.66 182.54L542.66 166.86" stroke="#802030" stroke-width="1.25"/>
<path d="M542.66 162.26L544.56 166.86L540.76 166.86Z" fill="#802030"/>
<path d="M549.09 182.42L549.09 166.98" stroke="#832330" stroke-width="1.25"/>
<path d="M549.09 162.38L550.99 166.98L547.19 166.98Z" fill="#832330"/>
<path d="M555.52 182.25L555.52 167.15" stroke="#862630" stroke-width="1.25"/>
<path d="M555.52 162.55L557.42 167.15L553.62 167.15Z" fill="#862630"/>
<path d="M561.95 182.03L561.95 167.37" stroke="#892930" stroke-width="1.25"/>
<path d="M561.95 162.77L563.85 167.37L560.05 167.37Z" fill="#892930"/>
<path d="M568.38 181.57L568.38 167.83" stroke="#903730" stroke-width="1.25"/>
<path d="M568.38 163.23L570.28 167.83L566.48 167.83Z" fill="#903730"/>
<path d="M574.81 180.98L574.81 168.42" stroke="#984930" stroke-width="1.25"/>
<path d="M574.81 163.82L576.71 168.42L572.91 168.42Z" fill="#984930"/>
<path d="M581.24 180.27L581.24 169.13" stroke="#a05a30" stroke-width="1.25"/>
<path d="M581.24 164.53L583.14 169.13L579.34 169.13Z" fill="#a05a30"/>
<path d="M587.67 179.46L587.67 169.94" stroke="#986836" stroke-width="1.25"/>
<path d="M587.67 165.34L589.57 169.94L585.77 169.94Z" fill="#986836"/>
<path d="M594.1 178.56L594.1 170.84" stroke="#90763c" stroke-width="1.25"/>
<path d="M594.1 166.24L596 170.84L592.2 170.84Z" fill="#90763c"/>
<path d="M600.53 177.6L600.53 171.8" stroke="#857c40" stroke-width="1.25"/>
<path d="M600.53 167.2L602.43 171.8L598.63 171.8Z" fill="#857c40"/>
<path d="M606.96 176.58L606.96 172.82" stroke="#746e40" stroke-width="1.25"/>
<path d="M606.96 168.22L608.86 172.82L605.06 172.82Z" fill="#746e40"/>
<path d="M613.39 175.5L613.39 173.02" stroke="#636140" stroke-width="1.25"/>
<path d="M613.39 169.3L615.29 173.02L611.49 173.02Z" fill="#636140"/>
<path d="M619.82 174.39L619.82 172.8" stroke="#4d4d39" stroke-width="1.25"/>
<path d="M619.82 170.41L621.72 172.8L617.92 172.8Z" fill="#4d4d39"/>
<circle cx="626.25" cy="172.4" r="1.6" fill="#33332b"/>
<circle cx="632.68" cy="172.4" r="1.6" fill="#272724"/>
<circle cx="639.11" cy="172.4" r="1.6" fill="#212121"/>
<circle cx="645.54" cy="172.4" r="1.6" fill="#242426"/>
<circle cx="651.97" cy="172.4" r="1.6" fill="#2a2a2f"/>
<path d="M658.4 169.68L658.4 171.86" stroke="#30303a" stroke-width="1.25"/>
<path d="M658.4 175.12L656.5 171.86L660.3 171.86Z" fill="#30303a"/>
<path d="M664.83 168.59L664.83 171.64" stroke="#333346" stroke-width="1.25"/>
<path d="M664.83 176.21L662.93 171.64L666.73 171.64Z" fill="#333346"/>
<path d="M671.26 167.61L671.26 172.59" stroke="#363651" stroke-width="1.25"/>
<path d="M671.26 177.19L669.36 172.59L673.16 172.59Z" fill="#363651"/>
<path d="M677.69 166.69L677.69 173.51" stroke="#39395c" stroke-width="1.25"/>
<path d="M677.69 178.11L675.79 173.51L679.59 173.51Z" fill="#39395c"/>
<path d="M684.12 165.82L684.12 174.38" stroke="#373762" stroke-width="1.25"/>
<path d="M684.12 178.98L682.22 174.38L686.02 174.38Z" fill="#373762"/>
<path d="M690.55 165.02L690.55 175.18" stroke="#333266" stroke-width="1.25"/>
<path d="M690.55 179.78L688.65 175.18L692.45 175.18Z" fill="#333266"/>
<path d="M696.98 164.31L696.98 175.89" stroke="#2e2d6a" stroke-width="1.25"/>
<path d="M696.98 180.49L695.08 175.89L698.88 175.89Z" fill="#2e2d6a"/>
<path d="M703.41 163.72L703.41 176.48" stroke="#2a286d" stroke-width="1.25"/>
<path d="M703.41 181.08L701.51 176.48L705.31 176.48Z" fill="#2a286d"/>
<path d="M709.84 163.24L709.84 176.96" stroke="#262470" stroke-width="1.25"/>
<path d="M709.84 181.56L707.94 176.96L711.74 176.96Z" fill="#262470"/>
<path d="M716.27 162.84L716.27 177.36" stroke="#242270" stroke-width="1.25"/>
<path d="M716.27 181.96L714.37 177.36L718.17 177.36Z" fill="#242270"/>
<path d="M722.7 162.55L722.7 177.65" stroke="#222071" stroke-width="1.25"/>
<path d="M722.7 182.25L720.8 177.65L724.6 177.65Z" fill="#222071"/>
<path d="M729.13 162.35L729.13 177.85" stroke="#201e71" stroke-width="1.25"/>
<path d="M729.13 182.45L727.23 177.85L731.03 177.85Z" fill="#201e71"/>
<path d="M735.56 162.22L735.56 177.98" stroke="#1f1d71" stroke-width="1.25"/>
<path d="M735.56 182.58L733.66 177.98L737.46 177.98Z" fill="#1f1d71"/>
<path d="M741.99 162.16L741.99 178.04" stroke="#1d1b72" stroke-width="1.25"/>
<path d="M741.99 182.64L740.09 178.04L743.89 178.04Z" fill="#1d1b72"/>
<ellipse cx="212" cy="357" rx="47" ry="30" fill="url(#gm1)" opacity="0.75"/>
<path d="M211.59 329.79L211.83 324.69L213.68 324.78L211.29 320.26L208.49 324.53L210.33 324.62L210.09 329.71Z" fill="#2d269c"/>
<path d="M217.78 330.04L218.82 325.05L220.64 325.43L218.99 320.59L215.55 324.37L217.36 324.75L216.32 329.74Z" fill="#2d269c"/>
<path d="M205.41 330.05L204.84 324.98L206.68 324.77L203.6 320.69L201.51 325.36L203.35 325.15L203.92 330.22Z" fill="#2d269c"/>
<path d="M223.9 330.83L225.68 326.05L227.42 326.7L226.52 321.67L222.55 324.88L224.28 325.52L222.49 330.3Z" fill="#2d269c"/>
<path d="M199.34 330.83L197.97 325.92L199.76 325.42L196.08 321.88L194.75 326.81L196.53 326.32L197.89 331.23Z" fill="#2d269c"/>
<path d="M229.83 332.13L232.29 327.66L233.91 328.55L233.75 323.45L229.35 326.05L230.97 326.94L228.52 331.41Z" fill="#2d269c"/>
<path d="M193.46 332.14L191.37 327.49L193.06 326.73L188.88 323.78L188.31 328.86L190 328.1L192.09 332.75Z" fill="#2d269c"/>
<path d="M235.48 333.96L238.51 329.86L240 330.96L240.52 325.88L235.81 327.87L237.3 328.97L234.27 333.07Z" fill="#2d269c"/>
<path d="M187.89 333.96L185.15 329.66L186.71 328.66L182.16 326.35L182.33 331.46L183.89 330.46L186.63 334.76Z" fill="#2d269c"/>
<path d="M211.3 336L211.54 330.91L212.79 330.96L211 326.47L208.79 330.77L210.04 330.83L209.8 335.93Z" fill="#7ec130"/>
<path d="M221.91 336.12L223.7 331.35L224.87 331.79L224.54 326.96L221.13 330.38L222.3 330.82L220.51 335.6Z" fill="#5db631"/>
<path d="M216.5 336.22L217.54 331.23L218.76 331.49L217.7 326.77L214.84 330.67L216.07 330.93L215.03 335.92Z" fill="#77bf30"/>
<path d="M206.11 336.2L205.53 331.14L206.78 331L204.29 326.85L202.8 331.45L204.04 331.3L204.62 336.37Z" fill="#78bf30"/>
<path d="M240.72 336.3L244.24 332.61L245.58 333.88L246.73 328.91L241.82 330.3L243.15 331.57L239.64 335.27Z" fill="#2d269c"/>
<path d="M201 336.84L199.64 331.92L200.84 331.59L197.74 327.88L196.99 332.66L198.19 332.32L199.56 337.24Z" fill="#66ba30"/>
<path d="M227.02 337.25L229.48 332.78L230.57 333.38L230.94 328.56L227.07 331.45L228.16 332.05L225.71 336.52Z" fill="#54b132"/>
<path d="M182.74 336.28L179.44 332.39L180.86 331.19L176.03 329.51L176.88 334.55L178.3 333.36L181.59 337.25Z" fill="#2d269c"/>
<path d="M196.06 337.91L193.97 333.26L195.11 332.74L191.48 329.55L191.46 334.38L192.6 333.87L194.69 338.52Z" fill="#5ab431"/>
<path d="M231.89 338.81L234.92 334.71L235.93 335.46L236.93 330.73L232.71 333.08L233.72 333.82L230.68 337.92Z" fill="#4aab34"/>
<path d="M190.93 338.73L188.19 334.43L189.24 333.75L185.19 331.12L185.87 335.9L186.92 335.23L189.66 339.53Z" fill="#4bac34"/>
<path d="M245.46 339.11L249.38 335.85L250.56 337.27L252.28 332.45L247.23 333.27L248.42 334.69L244.5 337.96Z" fill="#2d269c"/>
<path d="M178.1 339.08L174.35 335.63L175.6 334.27L170.6 333.2L172.08 338.09L173.33 336.73L177.09 340.18Z" fill="#2d269c"/>
<path d="M219.93 341.42L221.72 336.65L222.89 337.08L222.56 332.26L219.14 335.68L220.31 336.12L218.53 340.9Z" fill="#b7cd30"/>
<path d="M236.42 340.82L239.93 337.13L240.84 337.99L242.43 333.43L237.94 335.23L238.85 336.09L235.33 339.78Z" fill="#3ea437"/>
<path d="M211 342.21L211.24 337.12L212.49 337.18L210.7 332.69L208.5 336.99L209.74 337.05L209.5 342.14Z" fill="#dfbc30"/>
<path d="M186.47 340.7L183.18 336.81L184.14 336L179.77 333.93L181.08 338.58L182.04 337.78L185.33 341.67Z" fill="#40a536"/>
<path d="M215.21 342.4L216.25 337.41L217.47 337.67L216.41 332.95L213.56 336.85L214.78 337.11L213.74 342.1Z" fill="#dabe30"/>
<path d="M206.8 342.36L206.23 337.29L207.47 337.15L204.99 333L203.5 337.6L204.74 337.46L205.31 342.53Z" fill="#d8bf30"/>
<path d="M224.22 342.36L226.67 337.89L227.77 338.49L228.13 333.67L224.26 336.56L225.36 337.16L222.9 341.63Z" fill="#9bca30"/>
<path d="M202.67 342.85L201.3 337.93L202.51 337.6L199.41 333.89L198.65 338.67L199.86 338.33L201.22 343.25Z" fill="#c7c630"/>
<path d="M249.58 342.35L253.83 339.52L254.85 341.06L257.07 336.46L251.97 336.73L253 338.27L248.75 341.1Z" fill="#2d269c"/>
<path d="M241.06 342.78L244.98 339.51L246.16 340.94L247.88 336.12L242.83 336.94L244.02 338.36L240.1 341.63Z" fill="#2d269c"/>
<path d="M228.3 343.66L231.33 339.56L232.34 340.31L233.35 335.58L229.12 337.93L230.13 338.67L227.1 342.77Z" fill="#75be30"/>
<path d="M198.65 343.68L196.56 339.03L197.7 338.51L194.07 335.32L194.05 340.15L195.19 339.64L197.29 344.29Z" fill="#afd030"/>
<path d="M193.97 343.5L191.23 339.19L192.28 338.52L188.23 335.89L188.91 340.67L189.96 340L192.7 344.3Z" fill="#70bd30"/>
<path d="M174.09 342.3L169.96 339.31L171.04 337.81L165.96 337.34L168 342.02L169.08 340.53L173.21 343.52Z" fill="#2d269c"/>
<path d="M182.46 343.09L178.71 339.64L179.56 338.72L174.96 337.21L176.85 341.66L177.69 340.74L181.45 344.19Z" fill="#389f3b"/>
<path d="M232.11 345.34L235.63 341.65L236.53 342.51L238.12 337.94L233.64 339.75L234.54 340.61L231.02 344.3Z" fill="#5ab431"/>
<path d="M190.21 345.12L186.92 341.23L187.87 340.42L183.5 338.35L184.82 343L185.77 342.2L189.07 346.09Z" fill="#58b332"/>
<path d="M217.95 346.72L219.74 341.94L220.91 342.38L220.58 337.56L217.16 340.98L218.33 341.42L216.54 346.2Z" fill="#eaa02c"/>
<path d="M244.68 345.62L248.93 342.79L249.95 344.33L252.17 339.73L247.07 340L248.09 341.54L243.85 344.37Z" fill="#2d269c"/>
<path d="M236.65 346.45L240.57 343.18L241.37 344.14L243.47 339.79L238.81 341.07L239.61 342.03L235.69 345.29Z" fill="#47a935"/>
<path d="M221.41 347.47L223.86 343L224.96 343.6L225.32 338.78L221.45 341.67L222.55 342.28L220.09 346.75Z" fill="#e0bc30"/>
<path d="M253 345.96L257.51 343.57L258.37 345.2L261.04 340.84L255.93 340.61L256.8 342.24L252.3 344.64Z" fill="#2d269c"/>
<path d="M210.7 348.43L210.95 343.33L212.2 343.39L210.41 338.9L208.2 343.2L209.45 343.26L209.21 348.36Z" fill="#ee591e"/>
<path d="M178.99 345.85L174.86 342.86L175.59 341.85L170.86 340.89L173.25 345.09L173.98 344.07L178.11 347.06Z" fill="#399d45"/>
<path d="M213.92 348.58L214.96 343.59L216.18 343.85L215.12 339.13L212.27 343.03L213.49 343.28L212.45 348.28Z" fill="#f05f20"/>
<path d="M207.5 348.51L206.92 343.45L208.17 343.31L205.69 339.16L204.19 343.76L205.43 343.62L206.01 348.68Z" fill="#ef6a22"/>
<path d="M170.8 345.89L166.36 343.37L167.28 341.76L162.17 341.84L164.71 346.28L165.62 344.67L170.05 347.19Z" fill="#2d269c"/>
<path d="M224.71 348.51L227.75 344.41L228.75 345.16L229.76 340.43L225.54 342.78L226.54 343.52L223.51 347.62Z" fill="#c2c830"/>
<path d="M186.83 347.1L183.07 343.65L183.92 342.73L179.33 341.22L181.21 345.67L182.06 344.75L185.81 348.2Z" fill="#4cac34"/>
<path d="M204.33 348.85L202.97 343.94L204.17 343.6L201.07 339.9L200.32 344.67L201.52 344.34L202.89 349.25Z" fill="#ec8e28"/>
<path d="M197 348.26L194.26 343.96L195.32 343.29L191.27 340.65L191.94 345.44L193 344.77L195.74 349.07Z" fill="#b7cd30"/>
<path d="M201.25 349.45L199.16 344.79L200.3 344.28L196.67 341.09L196.65 345.92L197.79 345.41L199.88 350.06Z" fill="#e8b730"/>
<path d="M239.78 348.89L244.02 346.06L244.72 347.1L247.27 342.99L242.5 343.77L243.19 344.81L238.95 347.64Z" fill="#3ba237"/>
<path d="M247.69 348.79L252.19 346.39L253.06 348.03L255.72 343.67L250.62 343.44L251.49 345.07L246.98 347.46Z" fill="#2d269c"/>
<path d="M227.8 349.86L231.32 346.17L232.22 347.03L233.81 342.46L229.33 344.27L230.23 345.13L226.72 348.82Z" fill="#9dca30"/>
<path d="M193.95 349.54L190.66 345.65L191.61 344.84L187.24 342.77L188.56 347.42L189.51 346.62L192.8 350.51Z" fill="#8dc630"/>
<path d="M232.25 350.11L236.17 346.85L236.97 347.81L239.07 343.46L234.41 344.74L235.21 345.7L231.29 348.96Z" fill="#5db631"/>
<path d="M183.89 349.4L179.76 346.4L180.49 345.39L175.76 344.43L178.15 348.63L178.88 347.62L183.01 350.61Z" fill="#3fa437"/>
<path d="M176.13 348.93L171.7 346.4L172.32 345.32L167.51 344.88L170.34 348.79L170.96 347.71L175.39 350.23Z" fill="#3a9a4f"/>
<path d="M216.32 351.08L217.5 347.92L218.67 348.36L218.24 343.8L214.92 346.96L216.1 347.4L214.91 350.56Z" fill="#ef5c1f"/>
<path d="M255.64 349.87L260.35 347.91L261.06 349.62L264.12 345.53L259.06 344.82L259.77 346.53L255.06 348.49Z" fill="#2d269c"/>
<path d="M219.08 351.7L220.71 348.74L221.8 349.35L222.03 344.77L218.3 347.42L219.39 348.02L217.77 350.98Z" fill="#ed8627"/>
<path d="M191.19 351.11L187.44 347.66L188.28 346.74L183.69 345.23L185.57 349.68L186.42 348.76L190.18 352.21Z" fill="#61b830"/>
<path d="M168.29 349.77L163.62 347.72L164.37 346.02L159.29 346.63L162.27 350.78L163.02 349.09L167.69 351.14Z" fill="#2d269c"/>
<path d="M242.37 351.61L246.87 349.22L247.46 350.32L250.41 346.49L245.58 346.79L246.17 347.89L241.67 350.29Z" fill="#399e40"/>
<path d="M234.88 352.15L239.12 349.32L239.81 350.36L242.37 346.26L237.6 347.04L238.29 348.08L234.05 350.91Z" fill="#51af33"/>
<path d="M221.72 352.56L223.73 349.85L224.73 350.59L225.58 346.08L221.52 348.21L222.52 348.96L220.52 351.67Z" fill="#e9b22f"/>
<path d="M199.5 352.19L197.69 349.34L198.74 348.67L194.84 346.26L195.37 350.82L196.42 350.15L198.24 352.99Z" fill="#dabe30"/>
<path d="M250 352.22L254.71 350.26L255.42 351.97L258.48 347.88L253.42 347.17L254.13 348.88L249.42 350.84Z" fill="#2d269c"/>
<path d="M210.46 353.64L210.62 350.27L211.87 350.33L210.06 346.11L207.87 350.14L209.12 350.2L208.96 353.57Z" fill="#e73a17"/>
<path d="M212.83 353.78L213.52 350.48L214.75 350.74L213.63 346.29L210.83 349.92L212.05 350.17L211.37 353.48Z" fill="#e83f18"/>
<path d="M208.08 353.68L207.7 350.32L208.94 350.18L206.49 346.31L204.97 350.63L206.21 350.49L206.59 353.84Z" fill="#ec501c"/>
<path d="M227.85 353.78L231.77 350.52L232.57 351.48L234.67 347.12L230.01 348.4L230.81 349.36L226.89 352.63Z" fill="#96c830"/>
<path d="M181.47 351.97L177.04 349.44L177.66 348.36L172.84 347.92L175.68 351.83L176.3 350.75L180.73 353.27Z" fill="#389f3c"/>
<path d="M224.18 353.65L226.51 351.21L227.42 352.07L228.82 347.71L224.52 349.31L225.43 350.18L223.1 352.62Z" fill="#cdc430"/>
<path d="M205.73 353.89L204.83 350.64L206.03 350.31L203 346.87L202.18 351.38L203.38 351.04L204.28 354.29Z" fill="#ee7123"/>
<path d="M188.79 352.94L184.66 349.95L185.39 348.94L180.65 347.98L183.05 352.18L183.78 351.17L187.91 354.16Z" fill="#54b132"/>
<path d="M197.04 353.2L194.86 350.62L195.82 349.82L191.63 347.96L192.76 352.4L193.72 351.59L195.9 354.17Z" fill="#bbcb30"/>
<path d="M173.96 352.26L169.29 350.21L169.8 349.07L164.96 349.13L168.18 352.73L168.69 351.58L173.36 353.64Z" fill="#3a9a50"/>
<path d="M203.44 354.3L202.05 351.23L203.19 350.71L199.67 347.77L199.54 352.35L200.68 351.84L202.07 354.92Z" fill="#eb992a"/>
<path d="M237.05 354.44L241.56 352.04L242.14 353.15L245.09 349.32L240.27 349.62L240.85 350.72L236.35 353.11Z" fill="#44a736"/>
<path d="M257.43 354.01L262.29 352.47L262.85 354.24L266.27 350.43L261.29 349.28L261.84 351.04L256.98 352.58Z" fill="#2d269c"/>
<path d="M244.36 354.57L249.07 352.61L249.55 353.76L252.84 350.23L248.01 350.07L248.49 351.23L243.79 353.19Z" fill="#399c4a"/>
<path d="M229.97 355.42L234.22 352.59L234.91 353.63L237.46 349.53L232.69 350.3L233.39 351.34L229.14 354.17Z" fill="#6bbb30"/>
<path d="M194.82 354.44L192.33 352.16L193.18 351.24L188.79 349.92L190.47 354.18L191.32 353.26L193.8 355.55Z" fill="#95c830"/>
<path d="M214.34 356.38L215.52 353.22L216.69 353.66L216.26 349.09L212.94 352.26L214.11 352.69L212.93 355.85Z" fill="#ef6a22"/>
<path d="M166.63 353.86L161.79 352.28L162.36 350.52L157.37 351.62L160.74 355.46L161.32 353.7L166.17 355.29Z" fill="#2d269c"/>
<path d="M216.27 356.81L217.9 353.86L218.99 354.46L219.23 349.88L215.49 352.53L216.58 353.13L214.96 356.09Z" fill="#ec8727"/>
<path d="M186.81 355L182.38 352.48L183 351.4L178.18 350.96L181.02 354.87L181.63 353.79L186.07 356.31Z" fill="#48a935"/>
<path d="M179.63 354.76L174.96 352.71L175.47 351.56L170.63 351.62L173.85 355.22L174.36 354.08L179.03 356.13Z" fill="#399d45"/>
<path d="M251.57 355.86L256.44 354.32L256.99 356.09L260.41 352.28L255.43 351.13L255.98 352.89L251.12 354.43Z" fill="#2d269c"/>
<path d="M224.21 356.81L226.8 354.65L227.6 355.61L229.49 351.43L225.05 352.53L225.85 353.49L223.25 355.65Z" fill="#bbcb30"/>
<path d="M218.13 357.41L220.14 354.7L221.15 355.44L221.99 350.93L217.93 353.06L218.94 353.81L216.93 356.52Z" fill="#e9a82d"/>
<path d="M202.54 356.96L200.72 354.11L201.78 353.44L197.88 351.03L198.41 355.59L199.46 354.91L201.27 357.76Z" fill="#dfbc30"/>
<path d="M192.88 355.9L190.15 353.92L190.88 352.91L186.36 352.11L188.53 356.15L189.27 355.14L192 357.12Z" fill="#6cbc30"/>
<path d="M231.74 357.26L236.24 354.87L236.83 355.97L239.78 352.14L234.95 352.44L235.54 353.55L231.03 355.94Z" fill="#57b332"/>
<path d="M238.73 356.92L243.43 354.96L243.92 356.11L247.21 352.58L242.38 352.42L242.86 353.58L238.15 355.54Z" fill="#39a138"/>
<path d="M219.88 358.17L222.21 355.73L223.11 356.59L224.51 352.23L220.21 353.83L221.12 354.7L218.79 357.14Z" fill="#dbbe30"/>
<path d="M172.52 355.79L167.67 354.2L168.06 353.02L163.26 353.55L166.82 356.82L167.21 355.63L172.06 357.21Z" fill="#3a9a50"/>
<path d="M200.78 357.62L198.6 355.04L199.56 354.24L195.36 352.38L196.5 356.82L197.46 356.01L199.63 358.59Z" fill="#c6c730"/>
<path d="M225.9 358.13L228.71 356.26L229.41 357.3L231.73 353.35L227.19 353.97L227.88 355.01L225.07 356.89Z" fill="#98c930"/>
<path d="M245.71 357.71L250.58 356.17L250.95 357.36L254.55 354.13L249.75 353.55L250.12 354.74L245.26 356.27Z" fill="#3a9a50"/>
<path d="M185.3 357.25L180.63 355.2L181.14 354.06L176.3 354.11L179.52 357.72L180.03 356.57L184.7 358.63Z" fill="#3ca337"/>
<path d="M210.16 359.85L210.32 356.48L211.57 356.54L209.77 352.33L207.58 356.35L208.82 356.41L208.66 359.78Z" fill="#eb992a"/>
<path d="M211.55 359.96L212.23 356.66L213.46 356.92L212.34 352.47L209.54 356.1L210.77 356.35L210.08 359.66Z" fill="#eb992a"/>
<path d="M208.78 359.83L208.4 356.48L209.64 356.34L207.19 352.46L205.66 356.79L206.91 356.65L207.28 360Z" fill="#eaa12c"/>
<path d="M191.28 357.55L188.35 355.88L188.96 354.79L184.39 354.49L186.98 358.27L187.6 357.18L190.54 358.85Z" fill="#58b332"/>
<path d="M199.18 358.45L196.69 356.17L197.54 355.25L193.15 353.93L194.83 358.2L195.68 357.27L198.16 359.56Z" fill="#accf30"/>
<path d="M207.39 359.9L206.49 356.65L207.7 356.31L204.67 352.87L203.84 357.38L205.05 357.05L205.95 360.3Z" fill="#e9af2e"/>
<path d="M258.34 358.28L263.31 357.17L263.72 358.98L267.45 355.48L262.59 353.9L262.99 355.71L258.01 356.82Z" fill="#2d269c"/>
<path d="M233.09 359.27L237.8 357.31L238.28 358.46L241.57 354.92L236.74 354.77L237.22 355.93L232.51 357.89Z" fill="#4cac34"/>
<path d="M178.41 357.71L173.56 356.13L173.95 354.94L169.15 355.47L172.71 358.74L173.1 357.55L177.95 359.14Z" fill="#3a9a4e"/>
<path d="M206.03 360.07L204.65 357L205.79 356.48L202.27 353.54L202.14 358.12L203.28 357.61L204.66 360.69Z" fill="#e0bc30"/>
<path d="M227.31 359.62L230.29 358.04L230.87 359.14L233.58 355.44L228.99 355.61L229.58 356.71L226.6 358.3Z" fill="#72bd30"/>
<path d="M239.85 359.55L244.72 358.02L245.09 359.21L248.69 355.98L243.89 355.4L244.26 356.59L239.4 358.12Z" fill="#399e40"/>
<path d="M219.81 360.47L222.4 358.31L223.2 359.27L225.09 355.1L220.64 356.2L221.44 357.16L218.85 359.32Z" fill="#c1c930"/>
<path d="M165.86 358.08L160.89 356.97L161.29 355.16L156.43 356.74L160.15 360.24L160.56 358.43L165.54 359.54Z" fill="#2d269c"/>
<path d="M252.36 359.61L257.33 358.5L257.74 360.31L261.47 356.82L256.61 355.23L257.01 357.04L252.03 358.15Z" fill="#2d269c"/>
<path d="M197.78 359.45L195.04 357.47L195.78 356.46L191.26 355.66L193.43 359.7L194.17 358.69L196.9 360.67Z" fill="#8ac430"/>
<path d="M212.35 361.68L213.54 358.52L214.71 358.96L214.28 354.39L210.96 357.55L212.13 357.99L210.95 361.15Z" fill="#e7b930"/>
<path d="M213.47 361.93L215.09 358.97L216.19 359.57L216.42 354.99L212.68 357.64L213.78 358.25L212.15 361.2Z" fill="#debc30"/>
<path d="M190.05 359.35L186.97 357.99L187.47 356.84L182.89 357.01L185.86 360.5L186.36 359.36L189.45 360.72Z" fill="#4dad34"/>
<path d="M221 361.4L223.81 359.53L224.5 360.57L226.83 356.62L222.29 357.24L222.98 358.28L220.17 360.15Z" fill="#aace30"/>
<path d="M214.55 362.26L216.55 359.55L217.56 360.29L218.4 355.78L214.34 357.91L215.35 358.66L213.34 361.37Z" fill="#d3c130"/>
<path d="M184.3 359.64L179.45 358.05L179.84 356.87L175.04 357.4L178.6 360.67L178.99 359.48L183.84 361.06Z" fill="#389f3d"/>
<path d="M205.57 361.72L203.76 358.88L204.82 358.21L200.91 355.8L201.44 360.35L202.5 359.68L204.31 362.53Z" fill="#c4c730"/>
<path d="M228.38 361.24L231.49 359.94L231.97 361.09L235.01 357.66L230.43 357.4L230.91 358.55L227.8 359.85Z" fill="#5bb531"/>
<path d="M171.85 359.42L166.88 358.31L167.15 357.09L162.42 358.08L166.28 360.99L166.55 359.77L171.53 360.89Z" fill="#3a9a50"/>
<path d="M246.38 360.94L251.36 359.84L251.63 361.06L255.49 358.15L250.76 357.15L251.03 358.37L246.05 359.48Z" fill="#3a9a50"/>
<path d="M233.99 361.4L238.86 359.87L239.23 361.06L242.83 357.83L238.03 357.25L238.41 358.44L233.54 359.97Z" fill="#41a636"/>
<path d="M196.62 360.59L193.68 358.92L194.3 357.83L189.73 357.53L192.32 361.31L192.94 360.22L195.87 361.89Z" fill="#69bb30"/>
<path d="M215.57 362.69L217.9 360.25L218.8 361.11L220.2 356.75L215.91 358.35L216.81 359.22L214.48 361.66Z" fill="#c5c730"/>
<path d="M204.52 362.04L202.34 359.46L203.29 358.66L199.1 356.8L200.24 361.24L201.19 360.43L203.37 363.01Z" fill="#b5ce30"/>
<path d="M221.99 362.45L224.97 360.86L225.56 361.97L228.26 358.26L223.68 358.43L224.27 359.54L221.29 361.12Z" fill="#8bc530"/>
<path d="M177.85 360.76L172.87 359.65L173.14 358.43L168.41 359.42L172.27 362.33L172.54 361.11L177.52 362.23Z" fill="#3a9a50"/>
<path d="M203.54 362.46L201.06 360.18L201.9 359.26L197.51 357.94L199.2 362.21L200.04 361.29L202.53 363.57Z" fill="#a1cb30"/>
<path d="M240.4 362.28L245.38 361.17L245.65 362.39L249.51 359.48L244.78 358.48L245.05 359.7L240.07 360.81Z" fill="#399c49"/>
<path d="M189.24 361.25L186.03 360.2L186.42 359.02L181.88 359.63L185.18 362.82L185.57 361.63L188.77 362.68Z" fill="#43a736"/>
<path d="M195.72 361.84L192.64 360.48L193.14 359.34L188.56 359.51L191.53 363L192.03 361.85L195.12 363.21Z" fill="#59b431"/>
<path d="M229.09 362.95L232.31 361.93L232.68 363.13L236.01 359.98L231.48 359.31L231.85 360.5L228.64 361.52Z" fill="#51af33"/>
<path d="M215.41 364.14L218 361.98L218.8 362.94L220.69 358.77L216.24 359.87L217.04 360.83L214.45 362.99Z" fill="#b0d030"/>
<path d="M258.33 362.6L263.38 361.92L263.63 363.75L267.64 360.59L262.94 358.6L263.18 360.43L258.13 361.12Z" fill="#2d269c"/>
<path d="M202.68 363L199.94 361.02L200.68 360.01L196.16 359.21L198.33 363.25L199.06 362.23L201.8 364.21Z" fill="#8ac430"/>
<path d="M222.74 363.59L225.85 362.29L226.33 363.44L229.37 360.01L224.8 359.75L225.28 360.9L222.16 362.2Z" fill="#6ebc30"/>
<path d="M183.84 362.1L178.86 360.99L179.13 359.77L174.4 360.76L178.26 363.67L178.53 362.45L183.51 363.57Z" fill="#399d45"/>
<path d="M234.42 363.61L239.4 362.5L239.67 363.72L243.53 360.81L238.8 359.81L239.07 361.03L234.09 362.14Z" fill="#38a038"/>
<path d="M216.1 364.67L218.91 362.8L219.6 363.84L221.92 359.89L217.38 360.51L218.08 361.55L215.27 363.42Z" fill="#9cca30"/>
<path d="M252.34 363.41L257.39 362.73L257.64 364.56L261.65 361.4L256.94 359.41L257.19 361.24L252.14 361.92Z" fill="#2d269c"/>
<path d="M209.87 366.07L210.03 362.7L211.28 362.76L209.47 358.54L207.28 362.57L208.53 362.63L208.37 366Z" fill="#accf30"/>
<path d="M210.26 366.14L210.95 362.84L212.17 363.1L211.05 358.65L208.25 362.28L209.48 362.53L208.79 365.84Z" fill="#adcf30"/>
<path d="M209.47 365.99L209.09 362.63L210.33 362.49L207.88 358.62L206.36 362.94L207.6 362.8L207.98 366.16Z" fill="#aace30"/>
<path d="M201.95 363.63L199.02 361.96L199.64 360.87L195.07 360.57L197.66 364.35L198.28 363.26L201.21 364.93Z" fill="#73be30"/>
<path d="M166 362.33L160.94 361.7L161.17 359.86L156.48 361.89L160.52 365.02L160.75 363.18L165.81 363.82Z" fill="#2d269c"/>
<path d="M209.06 365.91L208.16 362.65L209.36 362.32L206.33 358.88L205.51 363.39L206.71 363.06L207.61 366.31Z" fill="#a4cd30"/>
<path d="M195.13 363.18L191.92 362.13L192.31 360.94L187.77 361.56L191.07 364.74L191.46 363.55L194.66 364.6Z" fill="#51af33"/>
<path d="M208.63 365.84L207.24 362.76L208.38 362.25L204.87 359.31L204.73 363.89L205.87 363.38L207.26 366.46Z" fill="#9dca30"/>
<path d="M246.34 364.22L251.4 363.54L251.56 364.78L255.66 362.21L251.03 360.81L251.2 362.05L246.14 362.73Z" fill="#3a9a50"/>
<path d="M216.67 365.27L219.65 363.69L220.24 364.79L222.94 361.09L218.36 361.26L218.95 362.36L215.97 363.95Z" fill="#88c430"/>
<path d="M223.23 364.8L226.45 363.78L226.82 364.97L230.15 361.83L225.62 361.16L226 362.35L222.78 363.37Z" fill="#5cb531"/>
<path d="M188.86 363.22L185.56 362.49L185.83 361.27L181.37 362.32L184.96 365.17L185.23 363.95L188.53 364.69Z" fill="#3aa138"/>
<path d="M229.42 364.72L232.71 363.99L232.98 365.21L236.58 362.36L232.11 361.3L232.39 362.52L229.09 363.26Z" fill="#48a935"/>
<path d="M210.37 366.98L211.55 363.82L212.72 364.25L212.3 359.69L208.98 362.85L210.15 363.29L208.97 366.45Z" fill="#9cca30"/>
<path d="M171.97 363.08L166.91 362.45L167.07 361.21L162.45 362.64L166.57 365.18L166.73 363.94L171.79 364.57Z" fill="#3a9a50"/>
<path d="M210.66 367.04L212.28 364.08L213.38 364.68L213.61 360.1L209.87 362.75L210.97 363.36L209.34 366.31Z" fill="#98c930"/>
<path d="M201.39 364.33L198.31 362.98L198.81 361.83L194.23 362L197.2 365.49L197.7 364.35L200.79 365.71Z" fill="#5fb730"/>
<path d="M240.35 365.03L245.4 364.35L245.57 365.58L249.66 363.01L245.04 361.62L245.2 362.86L240.15 363.54Z" fill="#3a9a50"/>
<path d="M210.96 367.11L212.97 364.4L213.97 365.14L214.82 360.63L210.76 362.76L211.76 363.51L209.75 366.22Z" fill="#93c730"/>
<path d="M208.61 366.49L206.8 363.65L207.85 362.97L203.95 360.57L204.48 365.12L205.53 364.45L207.35 367.3Z" fill="#89c430"/>
<path d="M217.1 365.94L220.22 364.64L220.7 365.79L223.74 362.36L219.16 362.1L219.64 363.25L216.52 364.55Z" fill="#74be30"/>
<path d="M211.26 367.21L213.59 364.77L214.5 365.63L215.89 361.27L211.6 362.87L212.51 363.73L210.18 366.18Z" fill="#8cc530"/>
<path d="M177.95 363.84L172.89 363.2L173.05 361.96L168.43 363.39L172.55 365.93L172.7 364.69L177.76 365.32Z" fill="#3a9a50"/>
<path d="M208.26 366.46L206.08 363.88L207.03 363.07L202.84 361.22L203.98 365.66L204.93 364.85L207.11 367.43Z" fill="#81c230"/>
<path d="M234.36 365.84L239.41 365.15L239.58 366.39L243.67 363.82L239.04 362.43L239.21 363.67L234.16 364.35Z" fill="#399e40"/>
<path d="M194.85 364.57L191.55 363.83L191.83 362.61L187.36 363.66L190.95 366.51L191.23 365.29L194.52 366.03Z" fill="#49aa35"/>
<path d="M207.91 366.48L205.42 364.19L206.27 363.27L201.88 361.95L203.56 366.22L204.41 365.3L206.89 367.58Z" fill="#77bf30"/>
<path d="M223.44 366.05L226.73 365.32L227.01 366.54L230.6 363.69L226.14 362.63L226.41 363.85L223.11 364.59Z" fill="#54b132"/>
<path d="M201.02 365.1L197.81 364.05L198.2 362.87L193.66 363.48L196.96 366.67L197.34 365.48L200.55 366.53Z" fill="#58b332"/>
<path d="M183.93 364.59L178.87 363.95L179.02 362.71L174.41 364.15L178.52 366.68L178.68 365.44L183.74 366.08Z" fill="#3a9b4c"/>
<path d="M217.37 366.65L220.59 365.63L220.96 366.82L224.3 363.67L219.76 363.01L220.14 364.2L216.92 365.22Z" fill="#60b830"/>
<path d="M211 367.81L213.6 365.65L214.4 366.61L216.28 362.43L211.84 363.54L212.64 364.5L210.04 366.66Z" fill="#7cc030"/>
<path d="M207.58 366.54L204.84 364.57L205.58 363.55L201.06 362.75L203.23 366.79L203.96 365.78L206.7 367.76Z" fill="#6cbc30"/>
<path d="M211.2 367.94L214.01 366.06L214.7 367.1L217.02 363.15L212.48 363.78L213.17 364.82L210.37 366.69Z" fill="#73be30"/>
<path d="M229.36 366.51L232.7 366.06L232.87 367.3L236.69 364.77L232.33 363.33L232.5 364.57L229.16 365.02Z" fill="#3fa437"/>
<path d="M207.29 366.66L204.36 365L204.98 363.91L200.4 363.61L203 367.38L203.62 366.3L206.55 367.97Z" fill="#61b830"/>
<path d="M188.91 365.22L185.56 364.79L185.72 363.55L181.37 365.02L185.22 367.52L185.37 366.28L188.72 366.7Z" fill="#389f3d"/>
<path d="M211.36 368.1L214.34 366.51L214.92 367.62L217.63 363.91L213.05 364.08L213.63 365.19L210.65 366.77Z" fill="#6abb30"/>
<path d="M200.84 365.91L197.55 365.17L197.82 363.95L193.36 365L196.95 367.85L197.22 366.63L200.51 367.37Z" fill="#52b033"/>
<path d="M217.46 367.38L220.75 366.65L221.03 367.87L224.62 365.02L220.16 363.97L220.43 365.19L217.13 365.92Z" fill="#5ab531"/>
<path d="M257.41 366.88L262.5 366.63L262.59 368.48L266.86 365.67L262.34 363.29L262.43 365.13L257.33 365.38Z" fill="#2d269c"/>
<path d="M207.06 366.83L203.98 365.47L204.48 364.33L199.9 364.5L202.87 367.99L203.37 366.84L206.46 368.2Z" fill="#5db631"/>
<path d="M223.36 367.32L226.71 366.87L226.87 368.11L230.7 365.57L226.34 364.14L226.51 365.38L223.16 365.83Z" fill="#4cac34"/>
<path d="M211.46 368.29L214.58 366.99L215.06 368.14L218.1 364.71L213.52 364.45L214 365.6L210.89 366.9Z" fill="#61b830"/>
<path d="M251.51 367.17L256.6 366.92L256.69 368.77L260.96 365.96L256.44 363.57L256.53 365.42L251.43 365.67Z" fill="#2d269c"/>
<path d="M194.89 365.97L191.54 365.55L191.69 364.31L187.35 365.78L191.19 368.28L191.35 367.03L194.7 367.46Z" fill="#41a636"/>
<path d="M245.6 367.46L250.7 367.21L250.76 368.46L255.06 366.25L250.56 364.46L250.62 365.71L245.53 365.96Z" fill="#3a9a50"/>
<path d="M206.91 367.03L203.7 365.98L204.09 364.79L199.55 365.41L202.85 368.59L203.23 367.4L206.44 368.45Z" fill="#5ab431"/>
<path d="M211.51 368.49L214.73 367.48L215.1 368.67L218.44 365.52L213.9 364.86L214.28 366.05L211.06 367.06Z" fill="#5db631"/>
<path d="M239.7 367.75L244.8 367.5L244.86 368.75L249.15 366.53L244.66 364.75L244.72 366L239.63 366.25Z" fill="#3a9a50"/>
<path d="M217.37 368.13L220.71 367.68L220.88 368.92L224.7 366.38L220.35 364.95L220.51 366.19L217.17 366.64Z" fill="#55b132"/>
<path d="M200.86 366.72L197.51 366.3L197.67 365.06L193.33 366.53L197.17 369.03L197.33 367.79L200.67 368.21Z" fill="#4dac34"/>
<path d="M233.8 368.04L238.89 367.79L238.96 369.04L243.25 366.82L238.76 365.04L238.82 366.29L233.73 366.54Z" fill="#399c47"/>
<path d="M167.03 366.52L161.94 366.38L161.99 364.53L157.52 367L161.84 369.72L161.89 367.88L166.99 368.02Z" fill="#2d269c"/>
<path d="M206.83 367.25L203.54 366.51L203.81 365.29L199.35 366.34L202.94 369.19L203.21 367.97L206.5 368.71Z" fill="#56b232"/>
<path d="M211.48 368.72L214.78 367.98L215.05 369.2L218.64 366.35L214.18 365.3L214.45 366.52L211.16 367.25Z" fill="#5ab531"/>
<path d="M172.88 366.7L167.78 366.55L167.82 365.3L163.36 367.17L167.7 369.3L167.74 368.05L172.83 368.19Z" fill="#3a9a50"/>
<path d="M228.9 368.28L232.27 368.11L232.33 369.36L236.35 367.16L232.13 365.37L232.2 366.61L228.82 366.78Z" fill="#38a038"/>
<path d="M178.72 366.87L173.62 366.72L173.66 365.47L169.2 367.34L173.54 369.47L173.58 368.22L178.67 368.37Z" fill="#3a9a50"/>
<path d="M223 368.57L226.37 368.4L226.43 369.65L230.45 367.45L226.23 365.65L226.29 366.9L222.92 367.07Z" fill="#46a835"/>
<path d="M184.56 367.04L179.46 366.89L179.5 365.64L175.04 367.51L179.38 369.64L179.42 368.39L184.52 368.54Z" fill="#3a9a50"/>
<path d="M211.38 368.94L214.72 368.48L214.89 369.72L218.71 367.19L214.35 365.76L214.52 367L211.18 367.45Z" fill="#57b332"/>
<path d="M206.84 367.47L203.49 367.05L203.65 365.81L199.3 367.28L203.15 369.78L203.3 368.54L206.65 368.96Z" fill="#53b033"/>
<path d="M189.4 367.18L186.03 367.08L186.07 365.83L181.88 367.71L185.95 369.83L185.99 368.58L189.36 368.68Z" fill="#399d43"/>
<path d="M217.09 368.85L220.47 368.69L220.53 369.94L224.55 367.74L220.33 365.94L220.39 367.19L217.02 367.36Z" fill="#50ae33"/>
<path d="M195.24 367.35L191.87 367.25L191.91 366L187.73 367.88L191.79 370L191.83 368.75L195.2 368.85Z" fill="#3ba237"/>
<path d="M201.09 367.52L197.71 367.42L197.75 366.17L193.57 368.05L197.63 370.17L197.67 368.92L201.04 369.02Z" fill="#47a935"/>
<path d="M211.19 369.14L214.56 368.98L214.62 370.23L218.65 368.03L214.43 366.23L214.49 367.48L211.12 367.65Z" fill="#55b132"/>
<path d="M206.93 367.69L203.55 367.59L203.59 366.34L199.41 368.22L203.47 370.34L203.51 369.09L206.88 369.19Z" fill="#50ae33"/>
<path d="M210.93 369.32L214.3 369.45L214.26 370.7L218.45 368.86L214.41 366.7L214.36 367.95L210.99 367.83Z" fill="#52af33"/>
<path d="M207.1 367.88L203.73 368.12L203.64 366.87L199.67 369.16L203.92 370.86L203.83 369.62L207.2 369.38Z" fill="#4dad34"/>
<path d="M216.64 369.54L220.01 369.67L219.96 370.92L224.16 369.08L220.11 366.92L220.07 368.17L216.69 368.04Z" fill="#4bab34"/>
<path d="M222.34 369.76L225.72 369.89L225.67 371.14L229.87 369.29L225.82 367.14L225.77 368.39L222.4 368.26Z" fill="#40a536"/>
<path d="M201.5 368.28L198.14 368.51L198.05 367.27L194.08 369.55L198.33 371.26L198.24 370.01L201.61 369.77Z" fill="#43a636"/>
<path d="M211.27 369.55L214.62 369.98L214.46 371.22L218.81 369.77L214.97 367.26L214.81 368.5L211.47 368.06Z" fill="#4ead34"/>
<path d="M228.05 369.98L231.42 370.1L231.38 371.35L235.57 369.51L231.53 367.36L231.48 368.61L228.11 368.48Z" fill="#389f3e"/>
<path d="M206.58 368.17L203.26 368.76L203.04 367.53L199.33 370.22L203.74 371.47L203.52 370.23L206.85 369.64Z" fill="#49aa35"/>
<path d="M232.76 370.16L237.85 370.35L237.81 371.6L242.28 369.77L237.96 367.6L237.91 368.85L232.82 368.66Z" fill="#3a9b4c"/>
<path d="M195.91 368.67L192.55 368.91L192.46 367.66L188.48 369.94L192.74 371.65L192.65 370.4L196.02 370.16Z" fill="#389f3b"/>
<path d="M210.83 369.69L214.12 370.44L213.84 371.66L218.3 370.64L214.73 367.76L214.45 368.98L211.16 368.23Z" fill="#4cac34"/>
<path d="M238.46 370.37L243.56 370.57L243.51 371.82L247.99 369.99L243.67 367.82L243.62 369.07L238.52 368.87Z" fill="#3a9a50"/>
<path d="M244.17 370.59L249.27 370.78L249.22 372.03L253.69 370.2L249.37 368.04L249.32 369.29L244.23 369.09Z" fill="#3a9a50"/>
<path d="M190.32 369.06L186.95 369.3L186.87 368.05L182.89 370.34L187.15 372.04L187.06 370.79L190.43 370.56Z" fill="#399c49"/>
<path d="M217.36 370.34L220.71 370.77L220.55 372.01L224.89 370.56L221.06 368.05L220.9 369.29L217.55 368.85Z" fill="#44a736"/>
<path d="M206.93 368.34L203.7 369.3L203.34 368.11L199.96 371.2L204.49 371.94L204.13 370.74L207.36 369.77Z" fill="#47a935"/>
<path d="M249.88 370.81L254.97 371L254.9 372.85L259.4 370.42L255.1 367.65L255.03 369.5L249.94 369.31Z" fill="#2d269c"/>
<path d="M255.58 371.03L260.68 371.22L260.61 373.07L265.11 370.64L260.81 367.87L260.74 369.72L255.64 369.53Z" fill="#2d269c"/>
<path d="M185.73 369.38L180.64 369.74L180.55 368.5L176.3 370.8L180.83 372.49L180.74 371.24L185.83 370.88Z" fill="#3a9a50"/>
<path d="M211.05 370L214.24 371.1L213.84 372.28L218.39 371.73L215.14 368.5L214.73 369.68L211.54 368.58Z" fill="#48a935"/>
<path d="M200.61 369.23L197.28 369.82L197.06 368.59L193.35 371.28L197.76 372.53L197.54 371.3L200.87 370.71Z" fill="#3aa138"/>
<path d="M180.13 369.78L175.05 370.14L174.96 368.89L170.71 371.19L175.24 372.88L175.15 371.63L180.24 371.27Z" fill="#3a9a50"/>
<path d="M223.45 371.13L226.8 371.56L226.64 372.8L230.98 371.35L227.15 368.83L226.99 370.07L223.64 369.64Z" fill="#389f3b"/>
<path d="M210.43 370.02L213.47 371.49L212.92 372.62L217.51 372.61L214.66 369.02L214.12 370.14L211.08 368.67Z" fill="#45a835"/>
<path d="M206.51 368.79L203.43 370.16L202.92 369.02L199.97 372.53L204.55 372.67L204.04 371.53L207.13 370.16Z" fill="#42a636"/>
<path d="M216.48 370.99L219.77 371.74L219.49 372.96L223.95 371.93L220.38 369.06L220.1 370.28L216.81 369.52Z" fill="#3fa437"/>
<path d="M174.54 370.17L169.46 370.53L169.37 369.28L165.12 371.59L169.65 373.27L169.56 372.03L174.65 371.67Z" fill="#3a9a50"/>
<path d="M207.02 368.88L204.17 370.69L203.5 369.64L201.1 373.54L205.65 373.01L204.98 371.96L207.82 370.14Z" fill="#40a536"/>
<path d="M168.95 370.56L163.86 370.92L163.73 369.08L159.53 371.98L164.1 374.26L163.97 372.42L169.06 372.06Z" fill="#2d269c"/>
<path d="M229.54 371.92L232.88 372.35L232.72 373.59L237.07 372.14L233.24 369.62L233.08 370.86L229.73 370.43Z" fill="#3a9b4a"/>
<path d="M194.63 370.29L191.3 370.88L191.09 369.65L187.37 372.34L191.79 373.59L191.57 372.36L194.89 371.77Z" fill="#399d45"/>
<path d="M201.49 369.97L198.25 370.93L197.89 369.74L194.52 372.83L199.04 373.57L198.68 372.37L201.92 371.4Z" fill="#38a039"/>
<path d="M210.51 370.41L213.32 372.27L212.63 373.32L217.17 373.93L214.84 369.98L214.15 371.03L211.34 369.16Z" fill="#41a536"/>
<path d="M222.13 372.28L225.42 373.04L225.14 374.26L229.6 373.23L226.03 370.36L225.75 371.58L222.46 370.82Z" fill="#399e3f"/>
<path d="M234.63 372.58L239.69 373.23L239.53 374.47L244.15 373.05L240.04 370.5L239.88 371.74L234.83 371.09Z" fill="#3a9a50"/>
<path d="M216.9 372.01L220.09 373.11L219.68 374.29L224.23 373.74L220.98 370.51L220.58 371.69L217.39 370.59Z" fill="#38a039"/>
<path d="M206.72 369.57L204.23 371.85L203.39 370.93L201.7 375.19L206.09 373.88L205.24 372.96L207.73 370.68Z" fill="#3aa138"/>
<path d="M189.63 371.18L184.61 372.07L184.39 370.84L180.41 373.58L185.09 374.78L184.87 373.55L189.9 372.65Z" fill="#3a9a50"/>
<path d="M210.57 370.98L213.05 373.27L212.2 374.19L216.59 375.53L214.92 371.26L214.07 372.17L211.59 369.88Z" fill="#3aa138"/>
<path d="M207.29 369.6L205.32 372.34L204.3 371.61L203.52 376.12L207.55 373.94L206.54 373.21L208.51 370.47Z" fill="#38a038"/>
<path d="M240.72 373.37L245.78 374.02L245.62 375.26L250.24 373.84L246.13 371.29L245.97 372.53L240.91 371.88Z" fill="#3a9a50"/>
<path d="M209.71 370.73L211.7 373.45L210.7 374.19L214.75 376.33L213.92 371.82L212.91 372.56L210.92 369.84Z" fill="#39a038"/>
<path d="M196.04 371.6L192.81 372.56L192.45 371.37L189.07 374.46L193.6 375.2L193.24 374L196.47 373.03Z" fill="#399c49"/>
<path d="M215.56 372.5L218.59 373.97L218.05 375.1L222.63 375.09L219.79 371.5L219.25 372.62L216.21 371.15Z" fill="#389f3c"/>
<path d="M200.91 371.29L197.83 372.66L197.32 371.52L194.37 375.03L198.95 375.18L198.44 374.03L201.52 372.66Z" fill="#399e42"/>
<path d="M227.78 373.58L231.06 374.34L230.79 375.55L235.25 374.53L231.68 371.66L231.4 372.87L228.11 372.12Z" fill="#3a9a4f"/>
<path d="M183.66 372.24L178.63 373.13L178.42 371.9L174.43 374.64L179.12 375.84L178.9 374.61L183.92 373.72Z" fill="#3a9a50"/>
<path d="M246.81 374.15L251.87 374.81L251.71 376.05L256.33 374.63L252.22 372.08L252.06 373.32L247 372.67Z" fill="#3a9a50"/>
<path d="M222.74 374.02L225.93 375.12L225.52 376.3L230.08 375.76L226.83 372.52L226.42 373.7L223.23 372.61Z" fill="#399c4a"/>
<path d="M202.27 371.9L199.43 373.72L198.75 372.66L196.35 376.57L200.91 376.04L200.23 374.98L203.08 373.17Z" fill="#399d44"/>
<path d="M207.25 370.84L205.98 373.97L204.82 373.5L205.13 378.07L208.53 375L207.37 374.53L208.64 371.4Z" fill="#399e3e"/>
<path d="M209.54 371.63L210.88 374.73L209.73 375.22L213.21 378.21L213.4 373.63L212.26 374.13L210.91 371.03Z" fill="#399e3e"/>
<path d="M252.9 374.94L257.95 375.6L257.72 377.43L262.41 375.42L258.38 372.28L258.15 374.11L253.09 373.46Z" fill="#2d269c"/>
<path d="M207.95 371L207.55 374.35L206.3 374.21L207.8 378.54L210.28 374.68L209.03 374.53L209.43 371.18Z" fill="#399e3f"/>
<path d="M177.68 373.3L172.66 374.19L172.44 372.96L168.46 375.7L173.14 376.9L172.92 375.67L177.94 374.78Z" fill="#3a9a50"/>
<path d="M208.67 371.28L209.18 374.62L207.95 374.81L210.56 378.58L211.9 374.2L210.67 374.39L210.15 371.05Z" fill="#399e3f"/>
<path d="M232.45 374.65L237.42 375.79L237.14 377.01L241.88 376.05L238.04 373.11L237.76 374.33L232.79 373.19Z" fill="#3a9a50"/>
<path d="M191.55 372.94L186.67 374.4L186.31 373.2L182.67 376.38L187.45 377.04L187.1 375.84L191.98 374.38Z" fill="#3a9a50"/>
<path d="M215.56 373.76L218.37 375.63L217.68 376.67L222.22 377.29L219.89 373.34L219.2 374.38L216.39 372.51Z" fill="#399d44"/>
<path d="M171.7 374.36L166.68 375.25L166.36 373.43L162.48 376.76L167.26 378.55L166.94 376.73L171.96 375.84Z" fill="#2d269c"/>
<path d="M220.68 374.98L223.72 376.45L223.18 377.58L227.76 377.57L224.92 373.98L224.38 375.1L221.34 373.63Z" fill="#3a9b4d"/>
<path d="M195.3 373.79L192.22 375.16L191.71 374.02L188.76 377.53L193.34 377.68L192.83 376.53L195.92 375.16Z" fill="#3a9a50"/>
<path d="M238.1 375.95L243.07 377.09L242.79 378.31L247.53 377.35L243.69 374.41L243.41 375.63L238.44 374.49Z" fill="#3a9a50"/>
<path d="M227.64 375.71L232.46 377.37L232.05 378.55L236.86 378.09L233.36 374.77L232.95 375.95L228.13 374.29Z" fill="#3a9a50"/>
<path d="M186.11 374.57L181.22 376.03L180.86 374.83L177.22 378.01L182.01 378.66L181.65 377.47L186.54 376.01Z" fill="#3a9a50"/>
<path d="M202.18 373.73L199.69 376.01L198.85 375.09L197.16 379.35L201.55 378.04L200.7 377.12L203.19 374.84Z" fill="#3a9a4e"/>
<path d="M215.41 375.46L217.88 377.75L217.03 378.67L221.42 380L219.75 375.73L218.9 376.65L216.43 374.36Z" fill="#3a9a4e"/>
<path d="M197.53 374.93L194.68 376.74L194.01 375.69L191.61 379.59L196.16 379.06L195.49 378.01L198.34 376.19Z" fill="#3a9a50"/>
<path d="M243.75 377.25L248.72 378.39L248.44 379.61L253.18 378.64L249.34 375.71L249.06 376.93L244.09 375.79Z" fill="#3a9a50"/>
<path d="M204 374.17L202.03 376.91L201.01 376.18L200.23 380.7L204.26 378.52L203.24 377.79L205.21 375.05Z" fill="#3a9a50"/>
<path d="M213.24 375.54L215.24 378.26L214.23 379L218.28 381.14L217.45 376.63L216.44 377.37L214.45 374.65Z" fill="#3a9a50"/>
<path d="M180.66 376.2L175.78 377.66L175.42 376.46L171.77 379.64L176.56 380.29L176.21 379.1L181.09 377.63Z" fill="#3a9a50"/>
<path d="M224.91 377.03L229.51 379.25L228.96 380.37L233.79 380.49L230.7 376.77L230.16 377.9L225.57 375.68Z" fill="#3a9a50"/>
<path d="M190.61 375.88L185.96 377.96L185.45 376.82L182.24 380.44L187.08 380.47L186.57 379.33L191.22 377.25Z" fill="#3a9a50"/>
<path d="M233.48 377.72L238.3 379.38L237.9 380.56L242.71 380.11L239.2 376.78L238.79 377.96L233.97 376.3Z" fill="#3a9a50"/>
<path d="M220.61 377.12L223.42 378.99L222.73 380.03L227.27 380.65L224.94 376.7L224.25 377.74L221.44 375.87Z" fill="#3a9a50"/>
<path d="M249.4 378.54L254.37 379.69L253.96 381.49L258.83 379.94L255.12 376.42L254.71 378.22L249.73 377.08Z" fill="#2d269c"/>
<path d="M175.22 377.83L170.33 379.29L169.8 377.52L166.33 381.27L171.29 382.5L170.76 380.73L175.65 379.26Z" fill="#2d269c"/>
<path d="M239.32 379.73L244.15 381.39L243.74 382.58L248.55 382.12L245.04 378.79L244.64 379.98L239.81 378.32Z" fill="#3a9a50"/>
<path d="M193.63 377.42L189.33 380.16L188.66 379.11L186.02 383.16L190.81 382.48L190.14 381.42L194.44 378.68Z" fill="#3a9a50"/>
<path d="M204.78 376.93L203.52 380.06L202.36 379.6L202.66 384.17L206.07 381.09L204.91 380.63L206.17 377.5Z" fill="#3a9a50"/>
<path d="M230.04 379.51L234.63 381.73L234.09 382.85L238.92 382.97L235.83 379.25L235.29 380.38L230.7 378.16Z" fill="#3a9a50"/>
<path d="M198.38 377.22L194.62 380.66L193.77 379.74L191.88 384.19L196.47 382.69L195.63 381.77L199.39 378.32Z" fill="#3a9a50"/>
<path d="M185.01 378.38L180.35 380.46L179.84 379.32L176.64 382.94L181.47 382.97L180.96 381.83L185.62 379.75Z" fill="#3a9a50"/>
<path d="M212.25 377.9L213.6 381L212.45 381.49L215.92 384.48L216.12 379.9L214.97 380.4L213.63 377.3Z" fill="#3a9a50"/>
<path d="M207.19 377.32L206.79 380.67L205.55 380.52L207.05 384.85L209.52 380.99L208.28 380.85L208.68 377.49Z" fill="#3a9a50"/>
<path d="M209.65 377.66L210.17 380.99L208.93 381.18L211.54 384.95L212.89 380.57L211.65 380.76L211.14 377.43Z" fill="#3a9a50"/>
<path d="M224.82 379.92L229.07 382.75L228.38 383.79L233.15 384.56L230.59 380.46L229.9 381.5L225.65 378.67Z" fill="#3a9a50"/>
<path d="M219.51 379.25L223.25 382.72L222.4 383.64L226.99 385.16L225.12 380.7L224.27 381.62L220.53 378.15Z" fill="#3a9a50"/>
<path d="M201.29 377.94L198.31 382.08L197.3 381.35L196.35 386.09L200.54 383.69L199.53 382.96L202.51 378.82Z" fill="#3a9a50"/>
<path d="M245.17 381.75L249.99 383.41L249.39 385.16L254.39 384.13L251.08 380.24L250.48 381.99L245.66 380.33Z" fill="#2d269c"/>
<path d="M216.18 379.54L219.2 383.65L218.19 384.39L222.4 386.76L221.41 382.03L220.41 382.77L217.39 378.65Z" fill="#3a9a50"/>
<path d="M235.17 381.99L239.76 384.21L239.22 385.33L244.05 385.45L240.96 381.73L240.42 382.86L235.82 380.64Z" fill="#3a9a50"/>
<path d="M179.4 380.88L174.75 382.96L173.99 381.27L171.03 385.44L176.11 386.02L175.36 384.33L180.01 382.25Z" fill="#2d269c"/>
<path d="M188.89 380.44L184.59 383.19L183.92 382.13L181.28 386.18L186.07 385.5L185.39 384.45L189.69 381.71Z" fill="#3a9a50"/>
<path d="M193.84 381.38L190.08 384.82L189.23 383.9L187.34 388.35L191.94 386.85L191.09 385.93L194.85 382.48Z" fill="#3a9a50"/>
<path d="M229.87 383.28L234.12 386.11L233.43 387.15L238.2 387.92L235.64 383.82L234.95 384.86L230.7 382.03Z" fill="#3a9a50"/>
<path d="M240.3 384.47L244.89 386.69L244.09 388.35L249.18 387.93L246.35 383.67L245.55 385.34L240.95 383.12Z" fill="#2d269c"/>
<path d="M224.34 383.73L228.08 387.2L227.23 388.11L231.82 389.64L229.95 385.18L229.1 386.1L225.36 382.63Z" fill="#3a9a50"/>
<path d="M184.14 383.47L179.85 386.21L178.85 384.65L176.54 389.21L181.65 389.04L180.65 387.48L184.95 384.73Z" fill="#2d269c"/>
<path d="M202.69 382.1L200.78 386.83L199.62 386.36L199.83 391.19L203.33 387.86L202.17 387.39L204.08 382.67Z" fill="#3a9a50"/>
<path d="M198 382.52L195.02 386.66L194 385.93L193.06 390.67L197.25 388.26L196.24 387.53L199.21 383.39Z" fill="#3a9a50"/>
<path d="M214.57 383.25L216.6 387.93L215.45 388.43L219.04 391.67L219.13 386.84L217.98 387.34L215.95 382.66Z" fill="#3a9a50"/>
<path d="M206.55 382.64L205.95 387.7L204.71 387.55L206.17 392.16L208.68 388.03L207.44 387.88L208.04 382.82Z" fill="#3a9a50"/>
<path d="M210.48 383.04L211.26 388.08L210.03 388.27L212.67 392.32L213.98 387.66L212.74 387.85L211.97 382.81Z" fill="#3a9a50"/>
<path d="M219.71 384.35L222.73 388.46L221.72 389.2L225.94 391.56L224.94 386.83L223.94 387.57L220.92 383.46Z" fill="#3a9a50"/>
<path d="M234.92 386.64L239.17 389.46L238.14 391L243.25 391.27L241.02 386.67L240 388.21L235.75 385.39Z" fill="#2d269c"/>
<path d="M189.3 385.54L185.54 388.98L184.29 387.62L182.8 392.51L187.8 391.45L186.55 390.09L190.31 386.64Z" fill="#2d269c"/>
<path d="M229.18 388.21L232.92 391.68L231.66 393.03L236.66 394.11L235.19 389.22L233.94 390.57L230.2 387.11Z" fill="#2d269c"/>
<path d="M194.7 387.1L191.73 391.24L190.23 390.16L189.77 395.25L194.45 393.19L192.95 392.11L195.92 387.97Z" fill="#2d269c"/>
<path d="M223.24 389.16L226.26 393.27L224.77 394.37L229.47 396.37L228.96 391.29L227.47 392.38L224.45 388.27Z" fill="#2d269c"/>
<path d="M200.23 388.2L198.31 392.93L196.6 392.24L197.36 397.29L201.42 394.18L199.71 393.49L201.62 388.76Z" fill="#2d269c"/>
<path d="M217.29 389.53L219.32 394.21L217.62 394.94L221.76 397.95L222.39 392.87L220.69 393.61L218.67 388.93Z" fill="#2d269c"/>
<path d="M205.8 388.95L205.19 394.02L203.36 393.8L205.42 398.48L208.52 394.41L206.68 394.2L207.29 389.13Z" fill="#2d269c"/>
<path d="M211.47 389.41L212.25 394.45L210.42 394.74L213.66 398.69L215.56 393.94L213.73 394.23L212.95 389.19Z" fill="#2d269c"/>
<circle cx="209.0" cy="368.5" r="1.4" fill="#101010"/>
<ellipse cx="366.5" cy="359.5" rx="51" ry="33.5" fill="url(#gm2)" opacity="0.8"/>
<path d="M362.42 327.62L368.61 327.74L368.58 329.24L372.43 327.11L368.67 324.84L368.64 326.34L362.44 326.22Z" fill="#2a1a80"/>
<path d="M356.78 328.1L362.95 327.75L363.03 329.25L366.7 326.84L362.78 324.86L362.87 326.35L356.7 326.7Z" fill="#2a1a80"/>
<path d="M368.1 327.56L374.22 328.14L374.07 329.64L378.06 327.81L374.49 325.26L374.35 326.75L368.23 326.17Z" fill="#2a1a80"/>
<path d="M351.26 329.01L357.3 328.2L357.5 329.69L360.97 327L356.91 325.33L357.11 326.81L351.08 327.62Z" fill="#2a1a80"/>
<path d="M373.76 327.93L379.68 328.96L379.43 330.44L383.55 328.92L380.18 326.11L379.92 327.58L373.99 326.56Z" fill="#2a1a80"/>
<path d="M345.94 330.32L351.74 329.08L352.05 330.54L355.3 327.6L351.13 326.24L351.44 327.71L345.65 328.95Z" fill="#2a1a80"/>
<path d="M379.31 328.73L384.95 330.18L384.57 331.63L388.8 330.45L385.67 327.37L385.29 328.82L379.66 327.37Z" fill="#2a1a80"/>
<path d="M362.56 330.61L368.65 330.01L368.79 331.5L372.36 328.94L368.36 327.12L368.51 328.61L362.42 329.21Z" fill="#344d83"/>
<path d="M356.94 331.14L363.04 330.01L363.31 331.49L366.65 328.64L362.51 327.16L362.78 328.64L356.69 329.76Z" fill="#344d83"/>
<path d="M368.23 330.55L374.18 330.47L374.2 331.97L377.97 329.71L374.14 327.57L374.16 329.07L368.21 329.15Z" fill="#344d83"/>
<path d="M340.88 332.02L346.34 330.38L346.77 331.81L349.78 328.61L345.5 327.6L345.94 329.04L340.48 330.68Z" fill="#2a1a80"/>
<path d="M351.48 332.13L357.44 330.5L357.84 331.95L360.92 328.83L356.68 327.71L357.07 329.15L351.11 330.78Z" fill="#344d83"/>
<path d="M373.86 330.98L379.54 331.39L379.43 332.88L383.38 330.96L379.74 328.49L379.64 329.99L373.96 329.59Z" fill="#344d83"/>
<path d="M384.68 329.93L389.94 331.77L389.44 333.18L393.76 332.35L390.89 329.03L390.4 330.44L385.14 328.61Z" fill="#2a1a80"/>
<path d="M346.26 333.59L351.96 331.47L352.49 332.88L355.28 329.5L350.96 328.75L351.48 330.16L345.77 332.27Z" fill="#344d83"/>
<path d="M336.16 334.09L341.19 332.09L341.74 333.49L344.46 330.04L340.12 329.4L340.67 330.79L335.64 332.79Z" fill="#2a1a80"/>
<path d="M379.36 331.88L384.64 332.73L384.4 334.21L388.51 332.65L385.1 329.87L384.87 331.35L379.59 330.5Z" fill="#344d83"/>
<path d="M361.42 333.82L367.23 332.38L367.59 333.84L370.75 330.79L366.53 329.57L366.89 331.02L361.08 332.46Z" fill="#2a823a"/>
<path d="M355.74 334.55L361.54 332.52L362.04 333.94L364.9 330.61L360.59 329.79L361.08 331.2L355.28 333.23Z" fill="#2a823a"/>
<path d="M367.2 333.65L372.84 332.8L373.06 334.28L376.49 331.54L372.41 329.93L372.63 331.42L367 332.26Z" fill="#2a823a"/>
<path d="M341.37 335.46L346.7 332.91L347.34 334.26L349.82 330.64L345.44 330.29L346.09 331.65L340.76 334.2Z" fill="#344d83"/>
<path d="M389.81 331.53L394.6 333.7L393.98 335.06L398.35 334.62L395.79 331.05L395.17 332.42L390.38 330.26Z" fill="#2a1a80"/>
<path d="M372.96 334.05L378.25 333.76L378.33 335.26L382 332.85L378.09 330.87L378.17 332.36L372.89 332.65Z" fill="#2a823a"/>
<path d="M350.29 335.84L355.92 333.24L356.55 334.6L359.08 331L354.7 330.6L355.33 331.96L349.71 334.57Z" fill="#2a823a"/>
<path d="M384.64 333.24L389.41 334.48L389.03 335.93L393.26 334.75L390.14 331.67L389.76 333.12L384.99 331.88Z" fill="#344d83"/>
<path d="M331.83 336.51L336.36 334.2L337.04 335.54L339.43 331.85L335.04 331.61L335.72 332.95L331.19 335.26Z" fill="#2a1a80"/>
<path d="M345.2 337.64L350.49 334.51L351.26 335.8L353.41 331.97L349.02 332.01L349.78 333.3L344.49 336.44Z" fill="#2a823a"/>
<path d="M378.56 335.02L383.33 335.23L383.26 336.72L387.15 334.69L383.45 332.33L383.39 333.83L378.62 333.62Z" fill="#2a823a"/>
<path d="M361.82 337.05L367.15 334.97L367.7 336.36L370.43 332.93L366.09 332.27L366.64 333.66L361.31 335.75Z" fill="#33932d"/>
<path d="M336.89 337.74L341.74 334.8L342.51 336.08L344.62 332.23L340.23 332.32L341.01 333.6L336.16 336.54Z" fill="#344d83"/>
<path d="M356.16 337.87L361.52 335.12L362.2 336.45L364.58 332.76L360.19 332.54L360.88 333.87L355.52 336.62Z" fill="#33932d"/>
<path d="M367.61 336.9L372.69 335.48L373.09 336.92L376.16 333.77L371.9 332.68L372.31 334.13L367.23 335.55Z" fill="#33932d"/>
<path d="M394.62 333.51L398.88 335.94L398.13 337.24L402.52 337.22L400.32 333.43L399.57 334.73L395.31 332.29Z" fill="#2a1a80"/>
<path d="M389.61 335.02L393.77 336.57L393.24 337.98L397.57 337.25L394.78 333.86L394.26 335.26L390.09 333.71Z" fill="#344d83"/>
<path d="M350.82 339.32L355.97 335.93L356.8 337.18L358.77 333.26L354.38 333.5L355.21 334.76L350.05 338.14Z" fill="#33932d"/>
<path d="M373.36 337.42L377.95 336.61L378.21 338.09L381.57 335.26L377.44 333.75L377.7 335.23L373.11 336.04Z" fill="#33932d"/>
<path d="M327.95 339.22L331.92 336.68L332.73 337.94L334.74 334.03L330.35 334.23L331.16 335.5L327.19 338.05Z" fill="#2a1a80"/>
<path d="M340.59 339.92L345.4 336.32L346.3 337.52L348.02 333.48L343.66 334L344.56 335.2L339.75 338.8Z" fill="#2a823a"/>
<path d="M383.88 336.52L387.97 337.14L387.75 338.62L391.83 337.01L388.4 334.27L388.18 335.76L384.09 335.14Z" fill="#2a823a"/>
<path d="M332.89 340.36L337.18 337.1L338.08 338.3L339.78 334.24L335.42 334.79L336.33 335.99L332.04 339.25Z" fill="#344d83"/>
<path d="M362.35 340.39L367.03 337.74L367.77 339.04L369.99 335.26L365.6 335.22L366.34 336.52L361.66 339.17Z" fill="#40a028"/>
<path d="M378.88 338.58L382.77 338.31L382.87 339.81L386.51 337.34L382.56 335.42L382.67 336.91L378.78 337.19Z" fill="#33932d"/>
<path d="M345.94 341.35L350.7 337.39L351.66 338.54L353.17 334.42L348.85 335.16L349.81 336.31L345.05 340.28Z" fill="#33932d"/>
<path d="M399.05 335.82L402.72 338.47L401.85 339.69L406.22 340.12L404.42 336.11L403.54 337.33L399.86 334.69Z" fill="#2a1a80"/>
<path d="M356.73 341.29L361.45 337.9L362.33 339.12L364.13 335.11L359.76 335.54L360.64 336.76L355.91 340.16Z" fill="#40a028"/>
<path d="M368.15 340.27L372.48 338.37L373.08 339.75L375.68 336.21L371.32 335.72L371.92 337.09L367.59 338.99Z" fill="#40a028"/>
<path d="M394.17 337.21L397.66 338.98L396.98 340.32L401.36 340.08L398.97 336.4L398.29 337.74L394.81 335.96Z" fill="#344d83"/>
<path d="M336.55 342.63L340.76 338.63L341.79 339.72L343.03 335.51L338.76 336.53L339.79 337.62L335.59 341.61Z" fill="#2a823a"/>
<path d="M388.78 338.53L392.08 339.44L391.69 340.89L395.93 339.77L392.85 336.64L392.45 338.09L389.16 337.18Z" fill="#2a823a"/>
<path d="M351.52 342.95L356.02 338.85L357.03 339.96L358.35 335.77L354.06 336.71L355.07 337.82L350.58 341.92Z" fill="#40a028"/>
<path d="M373.87 340.96L377.55 339.76L378.01 341.18L380.95 337.92L376.65 337L377.12 338.43L373.43 339.62Z" fill="#40a028"/>
<path d="M324.57 342.21L327.94 339.49L328.88 340.65L330.46 336.56L326.12 337.23L327.06 338.4L323.69 341.12Z" fill="#2a1a80"/>
<path d="M329.44 343.3L333.1 339.79L334.14 340.87L335.36 336.65L331.09 337.7L332.13 338.78L328.47 342.29Z" fill="#344d83"/>
<path d="M341.69 343.91L345.88 339.45L346.97 340.47L347.97 336.2L343.77 337.46L344.86 338.49L340.67 342.95Z" fill="#33932d"/>
<path d="M384 340.37L387.06 340.5L386.99 342L390.82 339.96L387.18 337.6L387.12 339.1L384.06 338.97Z" fill="#33932d"/>
<path d="M363 343.8L366.9 340.7L367.83 341.88L369.43 337.79L365.09 338.43L366.02 339.61L362.13 342.7Z" fill="#91bd21"/>
<path d="M403.04 338.45L406.11 341.24L405.1 342.35L409.39 343.27L408.06 339.09L407.05 340.2L403.98 337.42Z" fill="#2a1a80"/>
<path d="M357.43 344.83L361.37 340.88L362.43 341.94L363.57 337.7L359.32 338.83L360.38 339.89L356.44 343.84Z" fill="#91bd21"/>
<path d="M368.81 343.75L372.26 341.53L373.07 342.78L375.07 338.87L370.68 339.09L371.5 340.35L368.05 342.57Z" fill="#91bd21"/>
<path d="M346.97 345.28L350.98 340.56L352.12 341.53L352.9 337.21L348.77 338.69L349.91 339.66L345.91 344.38Z" fill="#40a028"/>
<path d="M379.25 342.41L382.15 341.77L382.48 343.24L385.56 340.31L381.53 338.94L381.85 340.41L378.95 341.05Z" fill="#40a028"/>
<path d="M398.27 339.75L401.04 341.65L400.19 342.89L404.57 343.22L402.68 339.26L401.83 340.49L399.06 338.6Z" fill="#344d83"/>
<path d="M333.18 345.69L336.69 341.39L337.86 342.34L338.56 338L334.45 339.55L335.61 340.5L332.09 344.81Z" fill="#2a823a"/>
<path d="M393.17 340.99L395.83 342.14L395.24 343.52L399.37 342.9L396.98 339.48L396.39 340.86L393.72 339.71Z" fill="#2a823a"/>
<path d="M321.74 345.42L324.49 342.59L325.57 343.64L326.64 339.38L322.41 340.57L323.49 341.62L320.73 344.45Z" fill="#2a1a80"/>
<path d="M352.47 346.77L356.1 342.06L357.29 342.97L357.86 338.62L353.8 340.29L354.99 341.2L351.36 345.92Z" fill="#91bd21"/>
<path d="M374.47 344.7L377.14 343.26L377.85 344.58L380.09 340.89L375.77 340.7L376.48 342.03L373.81 343.46Z" fill="#91bd21"/>
<path d="M338.18 346.91L341.67 342.04L342.89 342.92L343.32 338.55L339.31 340.36L340.53 341.23L337.05 346.1Z" fill="#33932d"/>
<path d="M388.56 342.71L391.13 343.16L390.86 344.64L394.39 343.03L391.63 340.31L391.37 341.79L388.81 341.33Z" fill="#33932d"/>
<path d="M326.6 346.5L329.6 342.81L330.76 343.75L331.45 339.42L327.34 340.98L328.51 341.93L325.51 345.62Z" fill="#344d83"/>
<path d="M343.28 348.18L346.59 342.95L347.85 343.75L348.03 339.37L344.14 341.4L345.4 342.2L342.09 347.43Z" fill="#40a028"/>
<path d="M384.05 344.58L386.45 344.31L386.62 345.8L389.32 343.28L386.13 341.43L386.3 342.92L383.89 343.19Z" fill="#40a028"/>
<path d="M363.77 347.26L366.77 343.85L367.9 344.84L368.76 340.53L364.6 341.93L365.72 342.92L362.72 346.34Z" fill="#cea520"/>
<path d="M406.55 341.35L408.99 344.21L407.85 345.19L412 346.65L411.2 342.33L410.06 343.3L407.61 340.44Z" fill="#2a1a80"/>
<path d="M358.28 348.48L361.31 344.1L362.54 344.95L362.89 340.57L358.92 342.45L360.16 343.3L357.13 347.69Z" fill="#cea520"/>
<path d="M369.6 347.34L372.05 344.97L373.09 346.04L374.29 341.82L370.03 342.88L371.08 343.96L368.62 346.34Z" fill="#cea520"/>
<path d="M401.83 342.61L404.01 344.63L402.99 345.73L407.15 346.59L405.98 342.51L404.96 343.61L402.78 341.58Z" fill="#344d83"/>
<path d="M396.92 343.84L399.06 345.23L398.24 346.49L402.05 346.34L400.64 342.8L399.82 344.05L397.69 342.67Z" fill="#2a823a"/>
<path d="M330.54 349.05L333.31 344.52L334.59 345.3L334.7 340.91L330.84 343L332.12 343.79L329.35 348.32Z" fill="#2a823a"/>
<path d="M348.47 349.49L351.47 344.14L352.78 344.87L352.71 340.48L348.94 342.72L350.25 343.45L347.25 348.8Z" fill="#91bd21"/>
<path d="M379.58 346.58L381.77 345.56L382.4 346.92L384.14 343.69L380.54 342.93L381.18 344.29L378.99 345.31Z" fill="#91bd21"/>
<path d="M319.49 348.82L321.63 345.94L322.83 346.84L323.34 342.48L319.3 344.21L320.5 345.11L318.36 347.98Z" fill="#2a1a80"/>
<path d="M335.54 350.26L338.22 345.09L339.55 345.78L339.35 341.4L335.65 343.76L336.98 344.45L334.29 349.61Z" fill="#33932d"/>
<path d="M392.41 345.53L394.41 346.25L393.9 347.66L397.08 346.47L395.39 343.52L394.88 344.93L392.89 344.21Z" fill="#33932d"/>
<path d="M324.41 349.9L326.72 346.1L328.01 346.88L328.1 342.49L324.25 344.59L325.53 345.37L323.22 349.18Z" fill="#344d83"/>
<path d="M353.8 350.85L356.35 345.66L357.7 346.32L357.4 341.94L353.75 344.38L355.1 345.04L352.55 350.23Z" fill="#cea520"/>
<path d="M375.08 348.72L376.98 346.95L378 348.05L378.83 344.28L375 344.82L376.03 345.92L374.12 347.69Z" fill="#cea520"/>
<path d="M340.59 351.51L343.05 345.9L344.43 346.51L343.94 342.14L340.4 344.74L341.77 345.34L339.31 350.95Z" fill="#40a028"/>
<path d="M388.05 347.36L389.85 347.38L389.83 348.88L392.05 346.71L389.88 344.48L389.86 345.98L388.07 345.96Z" fill="#40a028"/>
<path d="M364.63 350.76L366.69 347.16L368 347.9L367.97 343.51L364.18 345.72L365.48 346.46L363.42 350.07Z" fill="#dd6d1b"/>
<path d="M409.52 344.49L411.36 347.37L410.1 348.18L414 350.19L413.81 345.81L412.54 346.62L410.7 343.74Z" fill="#2a1a80"/>
<path d="M404.79 345.73L406.45 347.91L405.26 348.82L409.05 350.16L408.76 346.16L407.57 347.07L405.9 344.88Z" fill="#344d83"/>
<path d="M345.7 352.79L347.82 346.97L349.23 347.48L348.47 343.16L345.1 345.97L346.51 346.49L344.38 352.3Z" fill="#91bd21"/>
<path d="M383.81 349.26L385.36 348.57L385.97 349.94L386.96 347.08L384.18 345.92L384.79 347.29L383.24 347.98Z" fill="#91bd21"/>
<path d="M359.38 352.32L361.34 347.62L362.72 348.2L362.15 343.84L358.66 346.5L360.05 347.08L358.09 351.78Z" fill="#dd6d1b"/>
<path d="M370.44 351.11L371.98 348.59L373.26 349.37L373.26 345.15L369.51 347.08L370.79 347.86L369.25 350.38Z" fill="#dd6d1b"/>
<path d="M328.71 352.62L330.7 347.93L332.08 348.52L331.53 344.16L328.03 346.8L329.41 347.39L327.42 352.07Z" fill="#2a823a"/>
<path d="M399.97 347L401.53 348.57L400.47 349.63L403.94 350L403.59 346.53L402.52 347.58L400.96 346.02Z" fill="#2a823a"/>
<path d="M317.84 352.35L319.4 349.48L320.72 350.19L320.59 345.8L316.85 348.1L318.17 348.81L316.61 351.69Z" fill="#2a1a80"/>
<path d="M333.82 353.85L335.64 348.48L337.06 348.96L336.19 344.66L332.89 347.55L334.31 348.03L332.5 353.4Z" fill="#33932d"/>
<path d="M395.42 348.71L396.78 349.62L395.95 350.87L398.84 350.16L398.39 347.21L397.56 348.46L396.2 347.55Z" fill="#33932d"/>
<path d="M350.86 354.07L352.55 348.3L353.99 348.72L352.95 344.46L349.77 347.49L351.21 347.91L349.52 353.68Z" fill="#cea520"/>
<path d="M379.58 351.19L380.82 349.79L381.94 350.78L381.81 347.61L378.65 347.86L379.77 348.86L378.53 350.26Z" fill="#cea520"/>
<path d="M322.91 353.45L324.54 349.59L325.92 350.17L325.38 345.81L321.87 348.46L323.25 349.04L321.62 352.91Z" fill="#344d83"/>
<path d="M339.03 355.13L340.54 349.27L341.99 349.65L340.82 345.42L337.73 348.55L339.19 348.92L337.67 354.78Z" fill="#40a028"/>
<path d="M391.05 350.62L392.16 350.85L391.86 352.32L393.65 350.43L392.73 348L392.43 349.48L391.32 349.25Z" fill="#40a028"/>
<path d="M365.59 354.27L366.68 350.58L368.12 351.01L367.08 346.74L363.9 349.76L365.33 350.19L364.25 353.88Z" fill="#da3c15"/>
<path d="M356.08 355.36L357.25 349.91L358.71 350.23L357.36 346.05L354.41 349.3L355.88 349.62L354.71 355.06Z" fill="#dd6d1b"/>
<path d="M375.28 353.23L376.17 351.14L377.55 351.72L376.61 348.31L373.5 350L374.88 350.59L373.99 352.68Z" fill="#dd6d1b"/>
<path d="M411.93 347.82L413.2 350.68L411.83 351.29L415.38 353.87L415.85 349.5L414.48 350.11L413.21 347.25Z" fill="#2a1a80"/>
<path d="M407.11 349.05L408.24 351.35L406.89 352.01L410.24 353.86L410.84 350.08L409.49 350.74L408.37 348.43Z" fill="#344d83"/>
<path d="M344.34 356.43L345.44 350.33L346.91 350.6L345.42 346.47L342.58 349.82L344.06 350.08L342.96 356.18Z" fill="#91bd21"/>
<path d="M386.94 352.53L387.74 352.04L388.52 353.32L388.35 350.85L386.23 349.56L387.01 350.85L386.21 351.33Z" fill="#91bd21"/>
<path d="M327.71 356.32L328.9 351.54L330.36 351.91L329.14 347.69L326.09 350.84L327.54 351.2L326.35 355.98Z" fill="#2a823a"/>
<path d="M402.25 350.38L403.2 352.07L401.89 352.81L404.97 353.8L405.73 350.65L404.42 351.39L403.47 349.69Z" fill="#2a823a"/>
<path d="M361.34 356.61L361.95 351.81L363.44 352L361.73 347.96L359.07 351.45L360.56 351.64L359.95 356.44Z" fill="#da3c15"/>
<path d="M370.96 355.41L371.45 352.67L372.92 352.93L371.35 349.19L368.59 352.16L370.07 352.42L369.58 355.17Z" fill="#da3c15"/>
<path d="M316.83 355.97L317.85 353.08L319.26 353.58L318.43 349.31L315.11 352.12L316.53 352.61L315.51 355.51Z" fill="#2a1a80"/>
<path d="M349.8 357.75L350.39 351.68L351.89 351.83L350.07 347.83L347.51 351.4L349 351.55L348.41 357.61Z" fill="#cea520"/>
<path d="M382.59 354.33L383.02 353.13L384.44 353.63L382.89 351.42L380.29 352.15L381.71 352.65L381.28 353.86Z" fill="#cea520"/>
<path d="M333.09 357.58L334.01 352.09L335.49 352.34L333.94 348.23L331.15 351.62L332.63 351.86L331.71 357.35Z" fill="#33932d"/>
<path d="M397.48 352.09L398.17 353.12L396.92 353.96L399.6 353.99L400.58 351.51L399.33 352.34L398.64 351.31Z" fill="#33932d"/>
<path d="M322.11 357.09L323.08 353.2L324.54 353.56L323.32 349.34L320.27 352.5L321.72 352.86L320.75 356.75Z" fill="#344d83"/>
<path d="M338.65 358.88L339.17 352.9L340.66 353.03L338.79 349.05L336.28 352.65L337.77 352.78L337.26 358.76Z" fill="#40a028"/>
<path d="M392.75 354.1L393.12 354.43L392.14 355.56L394.04 354.3L395.03 352.24L394.04 353.37L393.67 353.04Z" fill="#40a028"/>
<path d="M366.7 357.76L366.7 354.04L368.2 354.04L366 350.24L363.8 354.04L365.3 354.04L365.3 357.76Z" fill="#d01810"/>
<path d="M355.59 359.05L355.59 353.34L357.09 353.34L354.89 349.54L352.69 353.34L354.19 353.34L354.19 359.05Z" fill="#dd6d1b"/>
<path d="M377.81 356.45L377.81 354.51L379.31 354.51L377.11 352.15L374.91 354.51L376.41 354.51L376.41 356.45Z" fill="#dd6d1b"/>
<path d="M413.74 351.3L414.51 354.23L413.05 354.61L416.12 357.62L417.31 353.49L415.86 353.87L415.09 350.94Z" fill="#2a1a80"/>
<path d="M408.77 352.51L409.34 354.89L407.88 355.24L410.71 357.63L412.16 354.21L410.7 354.56L410.13 352.19Z" fill="#344d83"/>
<path d="M344.48 360.18L344.48 353.99L345.98 353.99L343.78 350.19L341.58 353.99L343.08 353.99L343.08 360.18Z" fill="#91bd21"/>
<path d="M388.92 355.65L388.92 355.23L390.42 355.23L388.22 354.72L386.02 355.23L387.52 355.23L387.52 355.65Z" fill="#91bd21"/>
<path d="M327.56 360.07L327.96 355.26L329.45 355.38L327.57 351.41L325.07 355.02L326.56 355.14L326.17 359.95Z" fill="#2a823a"/>
<path d="M403.74 353.89L404.06 355.64L402.58 355.91L405.14 357.66L406.91 355.12L405.43 355.39L405.11 353.63Z" fill="#2a823a"/>
<path d="M362.42 360.1L361.82 355.31L363.31 355.12L360.65 351.62L358.94 355.67L360.43 355.48L361.03 360.28Z" fill="#da3c15"/>
<path d="M372.04 358.84L371.55 356.09L373.03 355.83L370.27 352.86L368.7 356.6L370.18 356.33L370.66 359.08Z" fill="#da3c15"/>
<path d="M316.45 359.64L316.96 356.69L318.44 356.94L316.9 352.96L314.1 356.19L315.58 356.45L315.07 359.4Z" fill="#2a1a80"/>
<path d="M350.76 361.43L350.17 355.37L351.66 355.22L349.11 351.65L347.29 355.65L348.78 355.5L349.37 361.57Z" fill="#cea520"/>
<path d="M383.55 357.68L383.12 356.48L384.53 355.97L381.93 355.24L380.39 357.45L381.8 356.95L382.23 358.15Z" fill="#cea520"/>
<path d="M333.37 361.33L333.37 355.8L334.87 355.8L332.67 352L330.47 355.8L331.97 355.8L331.97 361.33Z" fill="#33932d"/>
<path d="M398.63 355.48L398.63 356.55L397.13 356.55L399.33 357.86L401.53 356.55L400.03 356.55L400.03 355.48Z" fill="#33932d"/>
<path d="M322.03 360.76L322.35 356.86L323.84 356.99L321.96 353.02L319.46 356.62L320.95 356.75L320.63 360.65Z" fill="#344d83"/>
<path d="M367.75 361.21L366.67 357.52L368.1 357.1L364.92 354.07L363.88 358.34L365.32 357.92L366.41 361.61Z" fill="#da3c15"/>
<path d="M339.49 362.59L338.98 356.61L340.47 356.49L337.96 352.89L336.09 356.86L337.58 356.73L338.09 362.71Z" fill="#40a028"/>
<path d="M393.58 356.88L393.21 357.2L392.22 356.07L393.21 358.13L395.11 359.39L394.13 358.26L394.5 357.93Z" fill="#40a028"/>
<path d="M358.05 362.39L356.88 356.95L358.34 356.63L355.39 353.38L354.04 357.56L355.51 357.25L356.68 362.69Z" fill="#dd6d1b"/>
<path d="M377.25 360.01L376.37 357.92L377.75 357.34L374.64 355.64L373.7 359.06L375.08 358.47L375.96 360.56Z" fill="#dd6d1b"/>
<path d="M414.94 354.88L415.19 357.85L413.7 357.98L416.2 361.41L418.08 357.6L416.59 357.73L416.33 354.76Z" fill="#2a1a80"/>
<path d="M409.74 356.07L409.74 358.47L408.24 358.47L410.44 361.41L412.64 358.47L411.14 358.47L411.14 356.07Z" fill="#344d83"/>
<path d="M346.11 363.78L345.01 357.68L346.49 357.41L343.65 354.06L342.16 358.19L343.63 357.93L344.73 364.03Z" fill="#91bd21"/>
<path d="M388.72 358.92L387.92 358.44L388.7 357.16L386.58 358.44L386.41 360.91L387.19 359.63L387.99 360.12Z" fill="#91bd21"/>
<path d="M328.27 363.79L327.88 358.98L329.37 358.85L326.86 355.25L324.98 359.22L326.48 359.09L326.88 363.91Z" fill="#2a823a"/>
<path d="M404.45 357.47L404.13 359.23L402.65 358.96L404.43 361.5L406.98 359.75L405.5 359.48L405.82 357.72Z" fill="#2a823a"/>
<path d="M316.7 363.3L316.7 360.33L318.2 360.33L316 356.7L313.8 360.33L315.3 360.33L315.3 363.3Z" fill="#2a1a80"/>
<path d="M353.62 364.68L351.93 358.91L353.37 358.49L350.19 355.46L349.14 359.72L350.58 359.3L352.27 365.07Z" fill="#cea520"/>
<path d="M382.34 361.26L381.1 359.86L382.22 358.86L379.05 358.61L378.93 361.78L380.05 360.79L381.29 362.19Z" fill="#cea520"/>
<path d="M334.63 364.99L333.72 359.5L335.2 359.26L332.4 355.87L330.86 359.98L332.34 359.73L333.25 365.22Z" fill="#33932d"/>
<path d="M399.02 358.95L398.32 359.98L397.08 359.15L398.06 361.63L400.73 361.6L399.49 360.76L400.18 359.73Z" fill="#33932d"/>
<path d="M322.66 364.41L322.34 360.51L323.83 360.38L321.33 356.78L319.45 360.74L320.94 360.62L321.27 364.52Z" fill="#344d83"/>
<path d="M362.8 364.48L360.84 359.78L362.23 359.21L358.74 356.54L358.17 360.9L359.55 360.32L361.51 365.02Z" fill="#dd6d1b"/>
<path d="M373.86 363.08L372.32 360.56L373.6 359.78L369.85 357.85L369.85 362.07L371.13 361.29L372.67 363.81Z" fill="#dd6d1b"/>
<path d="M341.49 366.11L339.98 360.25L341.43 359.88L338.35 356.75L337.17 360.98L338.62 360.6L340.14 366.46Z" fill="#40a028"/>
<path d="M393.51 360.58L392.4 360.81L392.11 359.34L391.18 361.77L392.98 363.65L392.68 362.18L393.79 361.96Z" fill="#40a028"/>
<path d="M368.58 364.73L366.52 361.13L367.82 360.39L364.03 358.18L364 362.57L365.31 361.82L367.37 365.43Z" fill="#dd6d1b"/>
<path d="M415.51 358.53L415.25 361.49L413.76 361.36L415.63 365.18L418.14 361.74L416.64 361.61L416.9 358.65Z" fill="#2a1a80"/>
<path d="M410.03 359.69L409.46 362.06L408 361.72L409.45 365.13L412.28 362.74L410.82 362.39L411.39 360.01Z" fill="#344d83"/>
<path d="M349.13 366.97L347 361.15L348.41 360.64L345.04 357.83L344.28 362.15L345.69 361.63L347.81 367.45Z" fill="#91bd21"/>
<path d="M387.25 362.65L385.7 361.96L386.31 360.59L383.53 361.75L384.52 364.6L385.13 363.23L386.68 363.92Z" fill="#91bd21"/>
<path d="M358.03 367.09L355.48 361.89L356.82 361.23L353.17 358.79L352.87 363.17L354.22 362.51L356.77 367.7Z" fill="#cea520"/>
<path d="M379.3 364.54L377.4 362.78L378.42 361.68L374.6 361.13L375.43 364.9L376.45 363.8L378.35 365.57Z" fill="#cea520"/>
<path d="M329.82 367.4L328.63 362.63L330.08 362.26L327.03 359.11L325.82 363.33L327.27 362.97L328.46 367.74Z" fill="#2a823a"/>
<path d="M404.36 361.12L403.41 362.81L402.1 362.08L402.86 365.22L405.94 364.23L404.63 363.5L405.58 361.8Z" fill="#2a823a"/>
<path d="M317.59 366.92L317.07 363.97L318.55 363.71L315.76 360.48L314.22 364.47L315.69 364.21L316.21 367.16Z" fill="#2a1a80"/>
<path d="M336.86 368.45L335.04 363.08L336.46 362.6L333.16 359.71L332.29 364.01L333.71 363.53L335.53 368.9Z" fill="#33932d"/>
<path d="M398.45 362.59L397.09 363.51L396.25 362.26L395.81 365.21L398.7 365.92L397.86 364.67L399.23 363.76Z" fill="#33932d"/>
<path d="M324 367.97L323.03 364.08L324.48 363.71L321.43 360.56L320.21 364.78L321.67 364.41L322.64 368.31Z" fill="#344d83"/>
<path d="M363.47 368.36L360.44 363.98L361.68 363.13L357.71 361.25L358.06 365.62L359.29 364.77L362.32 369.16Z" fill="#cea520"/>
<path d="M374.78 367.01L372.32 364.63L373.37 363.56L369.11 362.49L370.31 366.72L371.35 365.64L373.81 368.02Z" fill="#cea520"/>
<path d="M344.58 369.28L342.12 363.67L343.49 363.07L339.95 360.48L339.46 364.84L340.84 364.24L343.3 369.84Z" fill="#40a028"/>
<path d="M392.05 364.29L390.25 364.32L390.23 362.82L388.06 365.04L390.28 367.22L390.26 365.72L392.06 365.69Z" fill="#40a028"/>
<path d="M353.33 369.55L350.33 364.2L351.64 363.46L347.86 361.22L347.8 365.61L349.11 364.88L352.1 370.23Z" fill="#91bd21"/>
<path d="M384.44 366.05L382.25 365.03L382.88 363.67L379.29 364.43L381.03 367.66L381.66 366.3L383.85 367.32Z" fill="#91bd21"/>
<path d="M415.44 362.2L414.68 365.12L413.22 364.74L414.42 368.88L417.48 365.86L416.03 365.48L416.8 362.55Z" fill="#2a1a80"/>
<path d="M369.28 368.34L366.28 364.92L367.4 363.93L363.24 362.53L364.1 366.84L365.23 365.85L368.23 369.26Z" fill="#cea520"/>
<path d="M409.61 363.31L408.49 365.62L407.14 364.96L407.74 368.74L411.09 366.89L409.74 366.23L410.87 363.93Z" fill="#344d83"/>
<path d="M332.18 370.83L330.19 366.14L331.57 365.55L328.06 362.91L327.52 367.27L328.9 366.69L330.89 371.37Z" fill="#2a823a"/>
<path d="M403.44 364.77L401.88 366.34L400.81 365.28L400.47 368.75L403.93 368.38L402.87 367.33L404.43 365.76Z" fill="#2a823a"/>
<path d="M319.09 370.46L318.07 367.56L319.49 367.06L316.17 364.26L315.34 368.53L316.75 368.03L317.77 370.92Z" fill="#2a1a80"/>
<path d="M339.97 371.61L337.29 366.45L338.62 365.76L334.92 363.4L334.71 367.78L336.05 367.09L338.73 372.26Z" fill="#33932d"/>
<path d="M396.85 366.21L394.85 366.93L394.34 365.52L392.65 368.47L395.84 369.66L395.33 368.25L397.32 367.53Z" fill="#33932d"/>
<path d="M358.42 371.32L354.79 366.61L355.98 365.69L351.91 364.02L352.49 368.38L353.68 367.46L357.31 372.18Z" fill="#91bd21"/>
<path d="M380.42 368.87L377.74 367.43L378.45 366.11L374.14 366.29L376.37 369.98L377.08 368.66L379.75 370.1Z" fill="#91bd21"/>
<path d="M326.02 371.4L324.39 367.53L325.77 366.94L322.26 364.3L321.72 368.66L323.1 368.07L324.73 371.94Z" fill="#344d83"/>
<path d="M348.62 371.96L345.31 366.74L346.58 365.93L342.68 363.9L342.86 368.29L344.13 367.49L347.44 372.71Z" fill="#40a028"/>
<path d="M389.39 367.72L386.99 367.45L387.16 365.96L383.97 367.82L386.66 370.34L386.83 368.84L389.24 369.11Z" fill="#40a028"/>
<path d="M414.74 365.85L413.47 368.71L412.1 368.1L412.57 372.46L416.12 369.89L414.75 369.28L416.02 366.42Z" fill="#2a1a80"/>
<path d="M364.06 372.17L360.11 368.23L361.17 367.17L356.93 366.04L358.06 370.28L359.12 369.22L363.07 373.16Z" fill="#91bd21"/>
<path d="M375.45 370.91L372.01 368.68L372.82 367.42L368.43 367.21L370.43 371.12L371.25 369.86L374.69 372.08Z" fill="#91bd21"/>
<path d="M408.49 366.89L406.82 369.08L405.63 368.17L405.34 372.18L409.13 370.84L407.94 369.93L409.61 367.74Z" fill="#344d83"/>
<path d="M369.87 372.03L365.98 368.94L366.91 367.76L362.57 367.12L364.17 371.21L365.1 370.03L369 373.13Z" fill="#91bd21"/>
<path d="M401.67 368.34L399.54 369.72L398.72 368.46L397.3 372L401.11 372.15L400.3 370.9L402.43 369.51Z" fill="#2a823a"/>
<path d="M335.29 373.99L332.52 369.45L333.8 368.67L329.95 366.57L330.05 370.96L331.33 370.18L334.1 374.72Z" fill="#2a823a"/>
<path d="M353.44 374.04L349.43 369.32L350.58 368.35L346.44 366.87L347.22 371.2L348.37 370.23L352.37 374.95Z" fill="#40a028"/>
<path d="M385.71 370.71L382.8 370.07L383.12 368.61L379.1 369.97L382.18 372.9L382.5 371.44L385.41 372.08Z" fill="#40a028"/>
<path d="M343.88 374.38L340.4 369.51L341.62 368.64L337.61 366.83L338.04 371.2L339.26 370.33L342.75 375.19Z" fill="#33932d"/>
<path d="M394.26 369.61L391.7 370.07L391.43 368.59L388.68 371.31L392.2 372.92L391.94 371.45L394.51 370.99Z" fill="#33932d"/>
<path d="M321.2 373.86L319.65 370.99L320.97 370.28L317.23 367.98L317.1 372.37L318.42 371.66L319.97 374.53Z" fill="#2a1a80"/>
<path d="M328.7 374.63L326.39 370.83L327.67 370.05L323.81 367.94L323.91 372.33L325.19 371.55L327.5 375.36Z" fill="#344d83"/>
<path d="M358.82 375.41L354.33 371.31L355.34 370.21L351.05 369.27L352.38 373.46L353.39 372.35L357.88 376.45Z" fill="#40a028"/>
<path d="M381.16 373.12L377.48 371.92L377.94 370.5L373.65 371.41L376.58 374.68L377.05 373.25L380.73 374.45Z" fill="#40a028"/>
<path d="M413.41 369.43L411.57 372.31L410.31 371.5L410.11 375.89L414.01 373.87L412.75 373.06L414.59 370.18Z" fill="#2a1a80"/>
<path d="M406.67 370.37L404.49 372.4L403.47 371.3L402.3 375.38L406.46 374.52L405.44 373.42L407.62 371.4Z" fill="#344d83"/>
<path d="M348.48 376.66L344.29 372.19L345.38 371.17L341.18 369.9L342.17 374.18L343.27 373.15L347.46 377.62Z" fill="#33932d"/>
<path d="M390.79 372.67L387.74 372.81L387.67 371.31L384.03 373.67L387.86 375.7L387.8 374.2L390.85 374.07Z" fill="#33932d"/>
<path d="M339.1 376.81L335.58 372.51L336.74 371.56L332.63 370.01L333.33 374.34L334.5 373.39L338.01 377.7Z" fill="#2a823a"/>
<path d="M399.09 371.71L396.42 372.86L395.83 371.48L393.44 374.91L397.57 375.53L396.98 374.15L399.64 373Z" fill="#2a823a"/>
<path d="M364.54 376.02L359.81 372.63L360.69 371.41L356.32 370.98L358.12 374.98L358.99 373.76L363.72 377.16Z" fill="#40a028"/>
<path d="M375.96 374.85L371.63 372.96L372.23 371.58L367.87 372.07L370.47 375.61L371.07 374.24L375.4 376.14Z" fill="#40a028"/>
<path d="M370.34 375.84L365.66 373.19L366.4 371.88L362.01 371.93L364.23 375.71L364.97 374.41L369.65 377.05Z" fill="#40a028"/>
<path d="M323.9 377.1L321.76 374.23L322.96 373.33L318.92 371.6L319.43 375.96L320.63 375.06L322.77 377.94Z" fill="#2a1a80"/>
<path d="M331.99 377.62L328.99 373.93L330.16 372.99L326.06 371.42L326.74 375.76L327.91 374.81L330.9 378.51Z" fill="#344d83"/>
<path d="M353.62 378.38L348.86 374.41L349.82 373.26L345.49 372.52L347 376.64L347.96 375.49L352.73 379.46Z" fill="#33932d"/>
<path d="M386.56 375.29L382.67 375.02L382.77 373.52L378.83 375.45L382.46 377.91L382.57 376.41L386.46 376.69Z" fill="#33932d"/>
<path d="M411.46 372.9L409.02 375.76L407.88 374.78L407.08 379.1L411.22 377.64L410.08 376.67L412.53 373.81Z" fill="#2a1a80"/>
<path d="M404.18 373.69L401.41 375.58L400.56 374.34L398.67 378.31L403.04 377.98L402.2 376.74L404.97 374.84Z" fill="#344d83"/>
<path d="M343.51 379.24L339.3 375.25L340.34 374.16L336.07 373.14L337.31 377.35L338.34 376.26L342.55 380.26Z" fill="#2a823a"/>
<path d="M395.75 374.81L392.45 375.72L392.05 374.27L388.97 377.4L393.22 378.52L392.82 377.07L396.12 376.16Z" fill="#2a823a"/>
<path d="M359.15 379.49L353.99 376.1L354.82 374.85L350.43 374.6L352.4 378.53L353.22 377.27L358.38 380.66Z" fill="#33932d"/>
<path d="M381.69 377.39L377.1 376.58L377.36 375.1L373.23 376.61L376.59 379.43L376.85 377.95L381.45 378.76Z" fill="#33932d"/>
<path d="M335.84 380.32L332.18 376.81L333.22 375.73L328.96 374.68L330.18 378.9L331.21 377.82L334.87 381.33Z" fill="#344d83"/>
<path d="M327.14 380.13L324.39 377.3L325.46 376.25L321.23 375.07L322.31 379.32L323.38 378.28L326.14 381.11Z" fill="#2a1a80"/>
<path d="M364.9 379.95L359.54 377.2L360.23 375.87L355.84 376.09L358.22 379.78L358.9 378.45L364.26 381.2Z" fill="#33932d"/>
<path d="M376.34 378.89L371.27 377.46L371.67 376.02L367.42 377.11L370.48 380.25L370.89 378.81L375.97 380.23Z" fill="#33932d"/>
<path d="M370.69 379.75L365.36 377.66L365.91 376.27L361.57 376.93L364.3 380.36L364.85 378.97L370.18 381.05Z" fill="#33932d"/>
<path d="M348.44 381.22L343.63 377.61L344.53 376.41L340.17 375.9L341.89 379.94L342.79 378.74L347.6 382.34Z" fill="#2a823a"/>
<path d="M391.73 377.55L387.64 378.17L387.41 376.69L383.98 379.43L388.07 381.04L387.84 379.55L391.94 378.94Z" fill="#2a823a"/>
<path d="M401.04 376.77L397.56 378.55L396.88 377.21L394.49 380.9L398.88 381.13L398.2 379.8L401.68 378.02Z" fill="#344d83"/>
<path d="M408.92 376.21L405.85 378.99L404.85 377.88L403.51 382.07L407.8 381.14L406.8 380.03L409.86 377.25Z" fill="#2a1a80"/>
<path d="M340.2 382.68L335.91 379.42L336.82 378.22L332.46 377.67L334.16 381.73L335.06 380.53L339.35 383.79Z" fill="#344d83"/>
<path d="M353.76 382.69L348.47 379.55L349.24 378.26L344.85 378.22L347 382.05L347.76 380.76L353.05 383.89Z" fill="#2a823a"/>
<path d="M387.12 379.87L382.36 380.08L382.3 378.58L378.59 380.94L382.49 382.97L382.42 381.47L387.18 381.27Z" fill="#2a823a"/>
<path d="M330.9 382.9L327.52 380.18L328.47 379.01L324.13 378.33L325.7 382.43L326.65 381.27L330.02 383.99Z" fill="#2a1a80"/>
<path d="M397.33 379.58L393.17 381.13L392.64 379.73L389.85 383.12L394.18 383.85L393.66 382.44L397.82 380.89Z" fill="#344d83"/>
<path d="M359.37 383.62L353.74 381.02L354.37 379.66L350 380.06L352.52 383.65L353.15 382.29L358.78 384.89Z" fill="#2a823a"/>
<path d="M382.04 381.71L376.76 381.42L376.84 379.92L372.92 381.91L376.6 384.31L376.68 382.81L381.96 383.11Z" fill="#2a823a"/>
<path d="M405.81 379.31L402.13 381.96L401.26 380.74L399.46 384.75L403.83 384.31L402.95 383.09L406.63 380.45Z" fill="#2a1a80"/>
<path d="M344.99 384.66L340.14 381.72L340.91 380.43L336.52 380.34L338.63 384.2L339.41 382.91L344.26 385.85Z" fill="#344d83"/>
<path d="M365.13 383.99L359.33 381.96L359.82 380.55L355.51 381.37L358.37 384.7L358.86 383.28L364.67 385.31Z" fill="#2a823a"/>
<path d="M376.6 383.02L370.96 382.18L371.19 380.69L367.1 382.3L370.53 385.04L370.75 383.56L376.39 384.41Z" fill="#2a823a"/>
<path d="M370.92 383.79L365.11 382.35L365.47 380.9L361.25 382.12L364.41 385.17L364.77 383.71L370.58 385.15Z" fill="#2a823a"/>
<path d="M335.12 385.38L331.14 382.83L331.95 381.57L327.57 381.37L329.58 385.27L330.39 384.01L334.36 386.55Z" fill="#2a1a80"/>
<path d="M393.09 382.05L388.32 383.29L387.94 381.84L384.82 384.92L389.05 386.1L388.67 384.64L393.44 383.4Z" fill="#344d83"/>
<path d="M350.12 386.21L344.79 383.66L345.44 382.31L341.06 382.65L343.54 386.28L344.19 384.92L349.52 387.48Z" fill="#344d83"/>
<path d="M402.17 382.17L397.92 384.61L397.17 383.3L394.96 387.1L399.36 387.12L398.61 385.82L402.87 383.39Z" fill="#2a1a80"/>
<path d="M388.39 384.14L383.12 385L382.88 383.51L379.48 386.29L383.58 387.86L383.34 386.38L388.62 385.53Z" fill="#344d83"/>
<path d="M339.74 387.52L335.21 385.22L335.89 383.88L331.51 384.12L333.9 387.8L334.58 386.47L339.11 388.77Z" fill="#2a1a80"/>
<path d="M355.53 387.33L349.82 385.22L350.34 383.81L346.02 384.55L348.82 387.94L349.34 386.53L355.04 388.64Z" fill="#344d83"/>
<path d="M383.33 385.83L377.65 386.23L377.55 384.73L373.91 387.2L377.86 389.12L377.75 387.63L383.43 387.22Z" fill="#344d83"/>
<path d="M398.06 384.74L393.27 386.9L392.65 385.53L390.09 389.1L394.46 389.55L393.85 388.18L398.64 386.02Z" fill="#2a1a80"/>
<path d="M361.11 387.98L355.15 386.35L355.54 384.9L351.3 386.02L354.38 389.15L354.78 387.7L360.74 389.33Z" fill="#344d83"/>
<path d="M377.98 387.07L372.03 386.98L372.05 385.48L368.22 387.63L371.99 389.88L372.01 388.38L377.96 388.47Z" fill="#344d83"/>
<path d="M366.77 388.15L360.68 387.03L360.95 385.56L356.82 387.03L360.16 389.89L360.43 388.41L366.52 389.53Z" fill="#344d83"/>
<path d="M372.43 387.85L366.34 387.25L366.49 385.76L362.49 387.57L366.06 390.13L366.2 388.64L372.29 389.24Z" fill="#344d83"/>
<path d="M344.72 389.31L339.69 387.31L340.24 385.92L335.9 386.56L338.62 390L339.17 388.61L344.2 390.61Z" fill="#2a1a80"/>
<path d="M393.53 386.99L388.27 388.82L387.78 387.4L384.91 390.73L389.22 391.55L388.73 390.14L393.99 388.31Z" fill="#2a1a80"/>
<path d="M349.98 390.72L344.52 389.07L344.95 387.64L340.68 388.65L343.68 391.85L344.12 390.41L349.58 392.06Z" fill="#2a1a80"/>
<path d="M388.63 388.88L382.99 390.33L382.61 388.87L379.48 391.95L383.71 393.13L383.34 391.68L388.97 390.23Z" fill="#2a1a80"/>
<path d="M355.45 391.72L349.66 390.48L349.97 389.01L345.79 390.37L349.05 393.31L349.36 391.85L355.16 393.09Z" fill="#2a1a80"/>
<path d="M383.43 390.39L377.5 391.42L377.24 389.94L373.88 392.75L378 394.27L377.74 392.79L383.67 391.77Z" fill="#2a1a80"/>
<path d="M361.06 392.3L355.03 391.5L355.23 390.01L351.17 391.69L354.64 394.37L354.84 392.88L360.88 393.69Z" fill="#2a1a80"/>
<path d="M378 391.5L371.88 392.08L371.74 390.58L368.17 393.13L372.16 394.96L372.02 393.47L378.13 392.89Z" fill="#2a1a80"/>
<path d="M366.74 392.46L360.57 392.11L360.66 390.62L356.74 392.6L360.41 395.01L360.49 393.51L366.66 393.86Z" fill="#2a1a80"/>
<path d="M372.41 392.19L366.22 392.31L366.19 390.81L362.43 393.08L366.27 395.21L366.24 393.71L372.44 393.59Z" fill="#2a1a80"/>
<ellipse cx="339" cy="359" rx="9" ry="8" fill="#f4f8f0" opacity="0.8"/>
<circle cx="334" cy="355" r="1.1" fill="#203020"/>
<circle cx="339" cy="354" r="1.1" fill="#203020"/>
<circle cx="344" cy="355" r="1.1" fill="#203020"/>
<circle cx="332" cy="360" r="1.1" fill="#203020"/>
<circle cx="337" cy="359" r="1.1" fill="#203020"/>
<circle cx="342" cy="359" r="1.1" fill="#203020"/>
<circle cx="335" cy="364" r="1.1" fill="#203020"/>
<circle cx="340" cy="364" r="1.1" fill="#203020"/>
<ellipse cx="538" cy="353" rx="46" ry="23" fill="url(#gs3)" opacity="0.6"/>
<path d="M534.52 328L534.27 330.25L532.68 330.07L534.45 333.06L536.85 330.55L535.26 330.37L535.52 328.12Z" fill="#202091"/>
<path d="M540.48 328.12L540.74 330.37L539.15 330.55L541.55 333.06L543.32 330.07L541.73 330.25L541.48 328Z" fill="#202091"/>
<path d="M528.64 328.33L527.87 330.62L526.35 330.11L527.4 333.57L530.33 331.45L528.82 330.94L529.58 328.65Z" fill="#202091"/>
<path d="M546.42 328.65L547.18 330.94L545.67 331.45L548.6 333.57L549.65 330.11L548.13 330.62L547.36 328.33Z" fill="#202091"/>
<path d="M522.9 329.11L521.63 331.47L520.22 330.71L520.52 334.59L523.92 332.7L522.51 331.94L523.78 329.58Z" fill="#202091"/>
<path d="M552.22 329.58L553.49 331.94L552.08 332.7L555.48 334.59L555.78 330.71L554.37 331.47L553.1 329.11Z" fill="#202091"/>
<path d="M535.69 333.2L535.25 332.32L536.68 331.61L534.27 331.46L532.92 333.47L534.36 332.76L534.8 333.65Z" fill="#3f5ebf"/>
<path d="M541.2 333.65L541.64 332.76L543.08 333.47L541.73 331.46L539.32 331.61L540.75 332.32L540.31 333.2Z" fill="#3f5ebf"/>
<path d="M530.05 333.45L528.74 332.64L529.58 331.28L526.87 332.07L527.37 334.85L528.21 333.49L529.52 334.3Z" fill="#3f5ebf"/>
<path d="M546.48 334.3L547.79 333.49L548.63 334.85L549.13 332.07L546.42 331.28L547.26 332.64L545.95 333.45Z" fill="#3f5ebf"/>
<path d="M517.39 330.32L515.65 332.79L514.34 331.87L513.92 336.1L517.77 334.29L516.46 333.37L518.21 330.9Z" fill="#202091"/>
<path d="M557.79 330.9L559.54 333.37L558.23 334.29L562.08 336.1L561.66 331.87L560.35 332.79L558.61 330.32Z" fill="#202091"/>
<path d="M524.64 334.3L522.49 333.63L522.96 332.1L519.71 333.28L521.71 336.11L522.19 334.58L524.35 335.25Z" fill="#3f5ebf"/>
<path d="M551.65 335.25L553.81 334.58L554.29 336.11L556.29 333.28L553.04 332.1L553.51 333.63L551.36 334.3Z" fill="#3f5ebf"/>
<path d="M535.91 338.56L535.29 334.59L536.87 334.34L534.14 330.52L532.72 334.99L534.3 334.75L534.92 338.71Z" fill="#cceeca"/>
<path d="M541.08 338.71L541.7 334.75L543.28 334.99L541.86 330.52L539.13 334.34L540.71 334.59L540.09 338.56Z" fill="#cceeca"/>
<path d="M512.2 331.95L510 334.56L508.77 333.53L507.7 338.07L511.99 336.23L510.76 335.2L512.96 332.59Z" fill="#202091"/>
<path d="M563.04 332.59L565.24 335.2L564.01 336.23L568.3 338.07L567.23 333.53L566 334.56L563.8 331.95Z" fill="#202091"/>
<path d="M530.78 338.91L528.8 334.82L530.24 334.12L526.53 331.25L526.46 335.95L527.9 335.25L529.87 339.34Z" fill="#cceeca"/>
<path d="M546.13 339.34L548.1 335.25L549.54 335.95L549.47 331.25L545.76 334.12L547.2 334.82L545.22 338.91Z" fill="#cceeca"/>
<path d="M519.55 335.6L516.6 335.14L516.85 333.56L512.91 335.08L516.2 337.71L516.45 336.13L519.4 336.59Z" fill="#3f5ebf"/>
<path d="M556.6 336.59L559.55 336.13L559.8 337.71L563.09 335.08L559.15 333.56L559.4 335.14L556.45 335.6Z" fill="#3f5ebf"/>
<path d="M525.82 339.77L522.31 335.59L523.54 334.56L519.23 332.7L520.32 337.26L521.55 336.24L525.06 340.41Z" fill="#cceeca"/>
<path d="M550.94 340.41L554.45 336.24L555.68 337.26L556.77 332.7L552.46 334.56L553.69 335.59L550.18 339.77Z" fill="#cceeca"/>
<path d="M539.77 343.2L540.27 334.85L541.87 334.94L540.02 330.63L537.67 334.7L539.27 334.79L538.78 343.14Z" fill="#e8e07f"/>
<path d="M534.68 343.23L533.2 334.91L534.77 334.63L531.97 330.86L530.64 335.37L532.21 335.09L533.7 343.41Z" fill="#e8e07f"/>
<path d="M507.39 333.95L504.46 337.08L503.29 335.98L501.95 340.48L506.36 338.85L505.19 337.76L508.12 334.63Z" fill="#202091"/>
<path d="M567.88 334.63L570.81 337.76L569.64 338.85L574.05 340.48L572.71 335.98L571.54 337.08L568.61 333.95Z" fill="#202091"/>
<path d="M544.79 343.76L547.26 335.5L548.79 335.96L547.98 331.33L544.77 334.75L546.3 335.21L543.83 343.47Z" fill="#e8e07f"/>
<path d="M514.86 337.32L510.85 337.12L510.93 335.52L506.63 337.4L510.72 339.71L510.8 338.11L514.81 338.32Z" fill="#3f5ebf"/>
<path d="M561.19 338.32L565.2 338.11L565.28 339.71L569.37 337.4L565.07 335.52L565.15 337.12L561.14 337.32Z" fill="#3f5ebf"/>
<path d="M529.72 343.86L526.26 335.7L527.74 335.08L524.17 332.03L523.87 336.72L525.34 336.09L528.8 344.25Z" fill="#e8e07f"/>
<path d="M521.21 341.12L516.04 337.03L517.04 335.78L512.44 334.82L514.43 339.07L515.42 337.82L520.59 341.9Z" fill="#cceeca"/>
<path d="M555.41 341.9L560.58 337.82L561.57 339.07L563.56 334.82L558.96 335.78L559.96 337.03L554.79 341.12Z" fill="#cceeca"/>
<path d="M549.52 344.88L553.95 336.86L555.35 337.64L555.54 332.95L551.67 335.61L553.07 336.38L548.65 344.39Z" fill="#e8e07f"/>
<path d="M539.75 347.01L540.3 336.29L541.9 336.38L540.01 332.07L537.7 336.16L539.3 336.24L538.76 346.96Z" fill="#f0a23a"/>
<path d="M525.1 345.07L519.72 337.25L521.04 336.35L516.93 334.08L517.58 338.73L518.9 337.82L524.28 345.63Z" fill="#e8e07f"/>
<path d="M534.75 347.09L533.13 336.44L534.71 336.2L532 332.37L530.56 336.83L532.14 336.59L533.76 347.24Z" fill="#f0a23a"/>
<path d="M503.06 336.29L499.39 339.96L498.26 338.83L496.77 343.29L501.23 341.8L500.1 340.67L503.77 336.99Z" fill="#202091"/>
<path d="M572.23 336.99L575.9 340.67L574.77 341.8L579.23 343.29L577.74 338.83L576.61 339.96L572.94 336.29Z" fill="#202091"/>
<path d="M510.65 339.4L505.16 339.59L505.11 337.99L500.98 340.23L505.25 342.18L505.2 340.58L510.69 340.4Z" fill="#3f5ebf"/>
<path d="M565.31 340.4L570.8 340.58L570.75 342.18L575.02 340.23L570.89 337.99L570.84 339.59L565.35 339.4Z" fill="#3f5ebf"/>
<path d="M544.66 347.65L547.34 337.14L548.89 337.53L547.89 332.94L544.82 336.49L546.37 336.89L543.69 347.4Z" fill="#f0a23a"/>
<path d="M517.07 342.9L510.27 339.15L511.04 337.75L506.35 337.55L509.01 341.42L509.78 340.02L516.58 343.78Z" fill="#cceeca"/>
<path d="M559.42 343.78L566.22 340.02L566.99 341.42L569.65 337.55L564.96 337.75L565.73 339.15L558.93 342.9Z" fill="#cceeca"/>
<path d="M553.79 346.51L560.08 338.95L561.31 339.98L562.38 335.41L558.08 337.29L559.31 338.31L553.02 345.87Z" fill="#e8e07f"/>
<path d="M529.96 347.89L526.26 337.58L527.76 337.04L524.37 333.8L523.81 338.46L525.32 337.92L529.02 348.23Z" fill="#f0a23a"/>
<path d="M549.16 348.97L553.83 338.93L555.29 339.61L555.15 334.91L551.48 337.83L552.93 338.51L548.26 348.55Z" fill="#f0a23a"/>
<path d="M521.02 346.8L513.86 339.56L515 338.43L510.56 336.92L512.01 341.39L513.15 340.26L520.31 347.5Z" fill="#e8e07f"/>
<path d="M539.76 350.17L540.27 338.9L541.87 338.97L539.96 334.68L537.67 338.78L539.27 338.85L538.76 350.13Z" fill="#e6591f"/>
<path d="M534.75 350.32L533.23 339.14L534.82 338.93L532.17 335.05L530.66 339.49L532.24 339.28L533.76 350.46Z" fill="#e6591f"/>
<path d="M576.04 339.65L580.39 343.88L579.28 345.02L583.75 346.44L582.2 342.01L581.09 343.16L576.73 338.93Z" fill="#202091"/>
<path d="M499.27 338.93L494.91 343.16L493.8 342.01L492.25 346.44L496.72 345.02L495.61 343.88L499.96 339.65Z" fill="#202091"/>
<path d="M568.89 342.8L575.68 343.53L575.51 345.12L579.91 343.48L575.96 340.95L575.79 342.54L568.99 341.81Z" fill="#3f5ebf"/>
<path d="M507.01 341.81L500.21 342.54L500.04 340.95L496.09 343.48L500.49 345.12L500.32 343.53L507.11 342.8Z" fill="#3f5ebf"/>
<path d="M525.69 349.36L520.12 339.67L521.51 338.87L517.59 336.28L517.87 340.96L519.25 340.17L524.83 349.86Z" fill="#f0a23a"/>
<path d="M513.51 345.06L505.22 341.87L505.79 340.38L501.12 340.83L504.28 344.3L504.86 342.81L513.15 346Z" fill="#cceeca"/>
<path d="M562.85 346L571.14 342.81L571.72 344.3L574.88 340.83L570.21 340.38L570.78 341.87L562.49 345.06Z" fill="#cceeca"/>
<path d="M544.62 350.97L547.1 339.99L548.66 340.34L547.53 335.78L544.56 339.42L546.12 339.77L543.65 350.75Z" fill="#e6591f"/>
<path d="M557.42 348.59L565.37 341.73L566.42 342.94L568.22 338.61L563.67 339.76L564.72 340.98L556.77 347.83Z" fill="#e8e07f"/>
<path d="M530.12 351.4L526.76 340.72L528.29 340.24L525.02 336.86L524.28 341.5L525.81 341.02L529.17 351.7Z" fill="#e6591f"/>
<path d="M552.98 350.88L559.37 341.61L560.69 342.51L561.34 337.86L557.23 340.13L558.54 341.04L552.16 350.32Z" fill="#f0a23a"/>
<path d="M517.64 348.97L508.98 342.55L509.93 341.27L505.31 340.45L507.43 344.64L508.38 343.35L517.05 349.78Z" fill="#e8e07f"/>
<path d="M548.81 352.63L552.96 342.33L554.45 342.93L554.07 338.25L550.55 341.36L552.04 341.96L547.88 352.26Z" fill="#e6591f"/>
<path d="M539.78 352.97L540.19 342.38L541.79 342.44L539.86 338.16L537.59 342.28L539.19 342.34L538.78 352.93Z" fill="#d92c1a"/>
<path d="M522.22 351.4L515.13 342.61L516.37 341.6L512.1 339.65L513.1 344.24L514.35 343.23L521.44 352.03Z" fill="#f0a23a"/>
<path d="M534.74 353.24L533.52 342.79L535.11 342.6L532.54 338.68L530.94 343.09L532.53 342.9L533.74 353.36Z" fill="#d92c1a"/>
<path d="M571.83 345.47L579.73 346.87L579.45 348.44L583.95 347.11L580.18 344.31L579.9 345.88L572.01 344.49Z" fill="#3f5ebf"/>
<path d="M503.99 344.49L496.1 345.88L495.82 344.31L492.05 347.11L496.55 348.44L496.27 346.87L504.17 345.47Z" fill="#3f5ebf"/>
<path d="M496.08 341.83L491.11 346.63L490 345.47L488.44 349.9L492.92 348.5L491.81 347.34L496.77 342.55Z" fill="#202091"/>
<path d="M579.23 342.55L584.19 347.34L583.08 348.5L587.56 349.9L586 345.47L584.89 346.63L579.92 341.83Z" fill="#202091"/>
<path d="M510.63 347.54L501.09 345.11L501.49 343.56L496.9 344.56L500.45 347.63L500.84 346.08L510.38 348.51Z" fill="#cceeca"/>
<path d="M565.62 348.51L575.16 346.08L575.55 347.63L579.1 344.56L574.51 343.56L574.91 345.11L565.37 347.54Z" fill="#cceeca"/>
<path d="M560.27 351.05L569.56 345.11L570.42 346.46L572.83 342.43L568.16 342.92L569.02 344.27L559.73 350.2Z" fill="#e8e07f"/>
<path d="M526.4 353.3L521.57 343.46L523.01 342.76L519.27 339.91L519.24 344.61L520.68 343.9L525.5 353.74Z" fill="#e6591f"/>
<path d="M544.52 354.08L546.45 343.89L548.02 344.19L546.75 339.67L543.9 343.4L545.47 343.7L543.53 353.89Z" fill="#d92c1a"/>
<path d="M555.88 353.28L563.56 345.03L564.73 346.12L566.06 341.61L561.66 343.25L562.83 344.34L555.15 352.6Z" fill="#f0a23a"/>
<path d="M530.55 354.84L528.01 345.03L529.56 344.63L526.48 341.09L525.49 345.68L527.04 345.28L529.58 355.09Z" fill="#d92c1a"/>
<path d="M515.12 351.51L505.31 346.11L506.09 344.7L501.39 344.52L504.06 348.38L504.83 346.98L514.63 352.38Z" fill="#e8e07f"/>
<path d="M551.86 354.99L557.21 345.69L558.6 346.49L558.87 341.8L554.95 344.4L556.34 345.2L551 354.49Z" fill="#e6591f"/>
<path d="M538.5 355.66L538.5 346.29L540.1 346.29L538 342.09L535.9 346.29L537.5 346.29L537.5 355.66Z" fill="#d51a18"/>
<path d="M519.76 353.88L511.63 346.23L512.73 345.06L508.23 343.71L509.85 348.12L510.95 346.95L519.08 354.61Z" fill="#f0a23a"/>
<path d="M501.67 347.39L492.91 349.54L492.53 347.99L488.95 351.03L493.53 352.07L493.15 350.51L501.91 348.36Z" fill="#3f5ebf"/>
<path d="M574.09 348.36L582.85 350.51L582.47 352.07L587.05 351.03L583.47 347.99L583.09 349.54L574.33 347.39Z" fill="#3f5ebf"/>
<path d="M493.54 344.95L488.06 350.31L486.94 349.17L485.42 353.61L489.89 352.17L488.76 351.03L494.24 345.66Z" fill="#202091"/>
<path d="M581.76 345.66L587.24 351.03L586.11 352.17L590.58 353.61L589.06 349.17L587.94 350.31L582.46 344.95Z" fill="#202091"/>
<path d="M547.87 356.33L550.83 347.01L552.36 347.49L551.63 342.85L548.36 346.22L549.88 346.7L546.91 356.03Z" fill="#d92c1a"/>
<path d="M508.5 350.26L498.03 348.74L498.25 347.16L493.8 348.64L497.65 351.32L497.88 349.73L508.36 351.25Z" fill="#cceeca"/>
<path d="M567.64 351.25L578.12 349.73L578.35 351.32L582.2 348.64L577.75 347.16L577.97 348.74L567.5 350.26Z" fill="#cceeca"/>
<path d="M523.97 355.79L518.28 347.11L519.62 346.24L515.56 343.88L516.1 348.54L517.44 347.66L523.14 356.34Z" fill="#e6591f"/>
<path d="M562.23 353.78L572.43 348.95L573.11 350.39L576.01 346.7L571.31 346.6L572 348.04L561.8 352.87Z" fill="#e8e07f"/>
<path d="M533.61 357.23L532.6 348.33L534.19 348.15L531.63 344.21L530.02 348.62L531.6 348.44L532.62 357.35Z" fill="#d51a18"/>
<path d="M543.38 357.35L544.4 348.44L545.98 348.62L544.37 344.21L541.81 348.15L543.4 348.33L542.39 357.23Z" fill="#d51a18"/>
<path d="M557.68 356.01L566.1 348.99L567.13 350.22L569.01 345.92L564.44 346.99L565.46 348.22L557.04 355.24Z" fill="#f0a23a"/>
<path d="M528.17 357.38L524.97 348.63L526.47 348.08L523.05 344.85L522.52 349.52L524.03 348.97L527.23 357.73Z" fill="#d92c1a"/>
<path d="M553.47 357.77L559.33 349.75L560.62 350.7L561.41 346.07L557.23 348.22L558.52 349.16L552.66 357.18Z" fill="#e6591f"/>
<path d="M513.54 354.28L503.06 350.06L503.66 348.58L498.98 348.95L502.09 352.47L502.69 350.99L513.16 355.21Z" fill="#e8e07f"/>
<path d="M538.5 358.83L538.5 350.37L540.1 350.37L538 346.17L535.9 350.37L537.5 350.37L537.5 358.83Z" fill="#d41818"/>
<path d="M518.47 356.64L509.91 350.29L510.86 349.01L506.24 348.19L508.36 352.38L509.31 351.1L517.88 357.45Z" fill="#f0a23a"/>
<path d="M549.07 359.21L552.31 351.07L553.79 351.66L553.39 346.98L549.89 350.11L551.38 350.7L548.14 358.84Z" fill="#d92c1a"/>
<path d="M583.6 348.92L589.47 354.87L588.33 355.99L592.78 357.51L591.32 353.04L590.18 354.17L584.31 348.22Z" fill="#202091"/>
<path d="M491.69 348.22L485.82 354.17L484.68 353.04L483.22 357.51L487.67 355.99L486.53 354.87L492.4 348.92Z" fill="#202091"/>
<path d="M500.08 350.45L490.7 353.42L490.22 351.89L486.84 355.16L491.48 355.9L491 354.37L500.39 351.4Z" fill="#3f5ebf"/>
<path d="M575.61 351.4L585 354.37L584.52 355.9L589.16 355.16L585.78 351.89L585.3 353.42L575.92 350.45Z" fill="#3f5ebf"/>
<path d="M507.18 353.14L496.12 352.64L496.19 351.04L491.9 352.95L496 355.24L496.08 353.64L507.14 354.14Z" fill="#cceeca"/>
<path d="M568.86 354.14L579.92 353.64L580 355.24L584.1 352.95L579.81 351.04L579.88 352.64L568.82 353.14Z" fill="#cceeca"/>
<path d="M523.12 358.62L517.28 351.29L518.53 350.3L514.27 348.32L515.25 352.91L516.5 351.92L522.34 359.24Z" fill="#e6591f"/>
<path d="M563.2 356.67L573.81 353.08L574.33 354.59L577.63 351.25L572.98 350.61L573.49 352.13L562.88 355.73Z" fill="#e8e07f"/>
<path d="M533.61 360.48L532.64 352.56L534.22 352.37L531.63 348.46L530.06 352.88L531.64 352.69L532.62 360.6Z" fill="#d51a18"/>
<path d="M543.38 360.6L544.36 352.69L545.94 352.88L544.37 348.46L541.78 352.37L543.36 352.56L542.39 360.48Z" fill="#d51a18"/>
<path d="M558.26 358.91L566.79 353.25L567.68 354.58L570.02 350.51L565.35 351.08L566.24 352.41L557.71 358.07Z" fill="#f0a23a"/>
<path d="M528.17 360.3L525.1 352.8L526.59 352.2L523.05 349.11L522.7 353.79L524.18 353.18L527.24 360.67Z" fill="#d92c1a"/>
<path d="M553.44 360.7L559.06 354.1L560.28 355.13L561.41 350.57L557.08 352.41L558.3 353.45L552.68 360.06Z" fill="#e6591f"/>
<path d="M512.97 357.19L502.35 354.23L502.78 352.69L498.17 353.58L501.65 356.73L502.08 355.19L512.7 358.15Z" fill="#e8e07f"/>
<path d="M538.5 362.17L538.5 354.78L540.1 354.78L538 350.58L535.9 354.78L537.5 354.78L537.5 362.17Z" fill="#d51a18"/>
<path d="M518.43 359.51L510.1 354.54L510.92 353.17L506.24 352.82L508.77 356.78L509.59 355.4L517.92 360.37Z" fill="#f0a23a"/>
<path d="M547.86 362.05L550.56 355.2L552.04 355.78L551.63 351.11L548.14 354.24L549.63 354.83L546.93 361.68Z" fill="#d92c1a"/>
<path d="M490.57 351.61L484.41 358.13L483.24 357.04L481.89 361.53L486.3 359.92L485.14 358.82L491.29 352.29Z" fill="#202091"/>
<path d="M584.71 352.29L590.86 358.82L589.7 359.92L594.11 361.53L592.76 357.04L591.59 358.13L585.43 351.61Z" fill="#202091"/>
<path d="M576.37 354.54L586.13 358.36L585.54 359.85L590.22 359.43L587.07 355.94L586.49 357.43L576.73 353.61Z" fill="#3f5ebf"/>
<path d="M499.27 353.61L489.51 357.43L488.93 355.94L485.78 359.43L490.46 359.85L489.87 358.36L499.63 354.54Z" fill="#3f5ebf"/>
<path d="M506.71 356.11L495.43 356.68L495.35 355.08L491.26 357.39L495.57 359.28L495.48 357.68L506.76 357.11Z" fill="#cceeca"/>
<path d="M569.24 357.11L580.52 357.68L580.43 359.28L584.74 357.39L580.65 355.08L580.57 356.68L569.29 356.11Z" fill="#cceeca"/>
<path d="M523.93 361.46L518.72 355.58L519.91 354.52L515.56 352.77L516.77 357.3L517.97 356.24L523.18 362.12Z" fill="#e6591f"/>
<path d="M563.14 359.63L573.64 357.3L573.98 358.86L577.63 355.9L573.08 354.76L573.42 356.33L562.93 358.65Z" fill="#e8e07f"/>
<path d="M530.53 362.91L528.34 356.67L529.85 356.14L526.48 352.87L525.89 357.53L527.4 357L529.59 363.24Z" fill="#d92c1a"/>
<path d="M557.59 361.8L565.55 357.53L566.3 358.94L569.01 355.1L564.32 355.24L565.07 356.65L557.12 360.92Z" fill="#f0a23a"/>
<path d="M551.8 363.46L556.44 358.3L557.63 359.36L558.87 354.84L554.5 356.56L555.69 357.63L551.06 362.79Z" fill="#e6591f"/>
<path d="M544.51 364.19L546.1 358.47L547.64 358.9L546.75 354.29L543.6 357.77L545.14 358.2L543.54 363.92Z" fill="#d92c1a"/>
<path d="M513.43 360.1L503.21 358.4L503.47 356.82L498.98 358.21L502.78 360.97L503.04 359.39L513.27 361.09Z" fill="#e8e07f"/>
<path d="M534.73 364.65L533.78 359.33L535.35 359.05L532.54 355.28L531.22 359.79L532.79 359.51L533.75 364.83Z" fill="#d92c1a"/>
<path d="M519.64 362.29L512.23 358.69L512.93 357.25L508.23 357.31L511.09 361.03L511.79 359.59L519.2 363.19Z" fill="#f0a23a"/>
<path d="M539.78 365.13L540.09 360.02L541.69 360.12L539.86 355.8L537.5 359.86L539.1 359.96L538.78 365.06Z" fill="#d92c1a"/>
<path d="M499.24 356.81L489.36 361.49L488.68 360.04L485.78 363.74L490.48 363.84L489.79 362.39L499.66 357.71Z" fill="#3f5ebf"/>
<path d="M576.34 357.71L586.21 362.39L585.52 363.84L590.22 363.74L587.32 360.04L586.64 361.49L576.76 356.81Z" fill="#3f5ebf"/>
<path d="M490.18 355.05L483.86 362.15L482.67 361.09L481.44 365.62L485.81 363.88L484.61 362.82L490.93 355.71Z" fill="#202091"/>
<path d="M585.07 355.71L591.39 362.82L590.19 363.88L594.56 365.62L593.33 361.09L592.14 362.15L585.82 355.05Z" fill="#202091"/>
<path d="M526.32 364.01L522.42 359.56L523.62 358.5L519.27 356.73L520.46 361.27L521.67 360.22L525.57 364.67Z" fill="#e6591f"/>
<path d="M507.09 359.08L495.98 360.72L495.75 359.14L491.9 361.83L496.36 363.29L496.13 361.71L507.23 360.07Z" fill="#cceeca"/>
<path d="M568.77 360.07L579.87 361.71L579.64 363.29L584.1 361.83L580.25 359.14L580.02 360.72L568.91 359.08Z" fill="#cceeca"/>
<path d="M562.07 362.51L571.89 361.42L572.07 363.01L576.01 360.46L571.6 358.84L571.78 360.43L561.96 361.52Z" fill="#e8e07f"/>
<path d="M555.71 364.5L562.41 361.56L563.06 363.02L566.06 359.41L561.37 359.18L562.01 360.64L555.31 363.59Z" fill="#f0a23a"/>
<path d="M548.73 365.73L551.8 361.96L553.04 362.97L554.07 358.39L549.79 360.32L551.03 361.33L547.96 365.1Z" fill="#e6591f"/>
<path d="M514.9 362.9L505.62 362.38L505.7 360.78L501.39 362.64L505.47 364.97L505.56 363.38L514.85 363.89Z" fill="#e8e07f"/>
<path d="M530.06 366.02L527.86 362.92L529.16 361.99L525.02 359.78L525.74 364.42L527.04 363.5L529.24 366.59Z" fill="#e6591f"/>
<path d="M522.02 364.8L516.18 362.46L516.78 360.98L512.1 361.37L515.22 364.88L515.81 363.39L521.65 365.73Z" fill="#f0a23a"/>
<path d="M544.57 367.24L546.1 364.48L547.5 365.25L547.53 360.86L543.83 363.22L545.23 363.99L543.7 366.76Z" fill="#e6591f"/>
<path d="M575.52 360.84L585.26 366.37L584.47 367.76L589.16 368L586.54 364.1L585.75 365.5L576.01 359.97Z" fill="#3f5ebf"/>
<path d="M499.99 359.97L490.25 365.5L489.46 364.1L486.84 368L491.53 367.76L490.74 366.37L500.48 360.84Z" fill="#3f5ebf"/>
<path d="M490.54 358.49L484.19 366.16L482.95 365.14L481.89 369.71L486.19 367.82L484.96 366.8L491.31 359.13Z" fill="#202091"/>
<path d="M584.69 359.13L591.04 366.8L589.81 367.82L594.11 369.71L593.05 365.14L591.81 366.16L585.46 358.49Z" fill="#202091"/>
<path d="M508.31 361.98L497.75 364.64L497.36 363.08L493.8 366.14L498.38 367.16L497.99 365.61L508.55 362.95Z" fill="#cceeca"/>
<path d="M567.45 362.95L578.01 365.61L577.62 367.16L582.2 366.14L578.64 363.08L578.25 364.64L567.69 361.98Z" fill="#cceeca"/>
<path d="M534.72 367.3L533.79 364.66L535.3 364.13L532.17 361.59L531.34 365.52L532.85 364.99L533.78 367.64Z" fill="#e6591f"/>
<path d="M560 365.22L568.63 365.23L568.63 366.83L572.83 364.73L568.63 362.63L568.63 364.23L560 364.22Z" fill="#e8e07f"/>
<path d="M552.74 366.85L557.57 365.07L558.12 366.58L561.34 363.15L556.67 362.63L557.22 364.14L552.4 365.91Z" fill="#f0a23a"/>
<path d="M539.76 367.77L540.07 365.18L541.66 365.38L539.96 361.96L537.49 364.87L539.08 365.06L538.76 367.65Z" fill="#e6591f"/>
<path d="M525.42 366.9L521.73 365.63L522.25 364.12L517.59 364.74L520.88 368.09L521.4 366.58L525.1 367.85Z" fill="#f0a23a"/>
<path d="M517.31 365.47L509.47 365.95L509.37 364.35L505.31 366.71L509.63 368.55L509.53 366.95L517.38 366.46Z" fill="#e8e07f"/>
<path d="M548.86 368.7L551.77 367.75L552.27 369.27L555.15 366.1L550.95 365.28L551.45 366.8L548.55 367.75Z" fill="#f0a23a"/>
<path d="M510.33 364.73L500.66 368.3L500.11 366.8L496.9 370.22L501.57 370.74L501.01 369.24L510.68 365.66Z" fill="#cceeca"/>
<path d="M565.32 365.66L574.99 369.24L574.43 370.74L579.1 370.22L575.89 366.8L575.34 368.3L565.67 364.73Z" fill="#cceeca"/>
<path d="M501.51 363.04L492.15 369.37L491.25 368.05L488.95 372.14L493.6 371.53L492.71 370.2L502.07 363.87Z" fill="#3f5ebf"/>
<path d="M573.93 363.87L583.29 370.2L582.4 371.53L587.05 372.14L584.75 368.05L583.85 369.37L574.49 363.04Z" fill="#3f5ebf"/>
<path d="M557.03 367.62L564 368.51L563.79 370.1L568.22 368.55L564.32 365.93L564.12 367.52L557.16 366.63Z" fill="#e8e07f"/>
<path d="M583.56 362.49L589.83 370.7L588.56 371.67L592.78 373.74L591.9 369.12L590.63 370.09L584.35 361.88Z" fill="#202091"/>
<path d="M491.65 361.88L485.37 370.09L484.1 369.12L483.22 373.74L487.44 371.67L486.17 370.7L492.44 362.49Z" fill="#202091"/>
<path d="M529.65 368.45L527.34 367.68L527.85 366.16L524.37 367.22L526.52 370.15L527.03 368.63L529.33 369.4Z" fill="#f0a23a"/>
<path d="M544.35 369.93L546.02 369.3L546.58 370.8L547.89 368.08L545.12 366.87L545.67 368.37L544 368.99Z" fill="#f0a23a"/>
<path d="M520.56 367.7L514.57 368.91L514.26 367.35L510.56 370.24L515.09 371.46L514.77 369.89L520.76 368.68Z" fill="#e8e07f"/>
<path d="M534.48 369.37L533.47 368.85L534.2 367.43L532 368.65L532.28 371.16L533.01 369.74L534.03 370.26Z" fill="#f0a23a"/>
<path d="M539.66 370.29L540 369.81L541.3 370.75L540.01 368.94L537.89 368.3L539.19 369.23L538.85 369.71Z" fill="#f0a23a"/>
<path d="M553.26 369.63L558.21 371.06L557.76 372.6L562.38 371.75L558.93 368.57L558.49 370.1L553.54 368.67Z" fill="#e8e07f"/>
<path d="M513.1 367.24L504.63 371.59L503.9 370.17L501.12 373.95L505.81 373.9L505.08 372.48L513.56 368.13Z" fill="#cceeca"/>
<path d="M562.44 368.13L570.92 372.48L570.19 373.9L574.88 373.95L572.1 370.17L571.37 371.59L562.9 367.24Z" fill="#cceeca"/>
<path d="M503.77 365.96L495.01 373.03L494 371.79L492.05 376.06L496.64 375.05L495.63 373.81L504.39 366.74Z" fill="#3f5ebf"/>
<path d="M571.61 366.74L580.37 373.81L579.36 375.05L583.95 376.06L582 371.79L580.99 373.03L572.23 365.96Z" fill="#3f5ebf"/>
<path d="M524.5 369.53L520.65 371.06L520.05 369.58L516.93 373.08L521.61 373.48L521.02 371.99L524.87 370.46Z" fill="#e8e07f"/>
<path d="M493.48 365.17L487.4 373.9L486.09 372.99L485.42 377.63L489.54 375.38L488.23 374.47L494.3 365.74Z" fill="#202091"/>
<path d="M581.7 365.74L587.77 374.47L586.46 375.38L590.58 377.63L589.91 372.99L588.6 373.9L582.52 365.17Z" fill="#202091"/>
<path d="M548.84 371.14L551.75 372.72L550.99 374.13L555.54 374.21L552.99 370.44L552.23 371.84L549.32 370.27Z" fill="#e8e07f"/>
<path d="M528.96 370.89L526.67 372.62L525.7 371.34L524.17 375.13L528.23 374.69L527.27 373.41L529.56 371.68Z" fill="#e8e07f"/>
<path d="M516.54 369.47L509.5 374.41L508.58 373.1L506.35 377.23L510.99 376.54L510.07 375.23L517.11 370.29Z" fill="#cceeca"/>
<path d="M558.89 370.29L565.93 375.23L565.01 376.54L569.65 377.23L567.42 373.1L566.5 374.41L559.46 369.47Z" fill="#cceeca"/>
<path d="M543.94 372.06L545.59 373.91L544.4 374.97L547.98 375.83L547.53 372.17L546.33 373.24L544.68 371.39Z" fill="#e8e07f"/>
<path d="M533.75 371.79L532.75 373.71L531.33 372.98L531.97 376.3L535.05 374.91L533.63 374.18L534.63 372.25Z" fill="#e8e07f"/>
<path d="M538.78 372.25L539.12 374.22L537.54 374.49L540.02 376.53L541.68 373.78L540.1 374.05L539.77 372.09Z" fill="#e8e07f"/>
<path d="M568.59 369.39L576.55 377.12L575.43 378.26L579.91 379.68L578.36 375.25L577.25 376.4L569.29 368.67Z" fill="#3f5ebf"/>
<path d="M506.71 368.67L498.75 376.4L497.64 375.25L496.09 379.68L500.57 378.26L499.45 377.12L507.41 369.39Z" fill="#3f5ebf"/>
<path d="M496 368.3L490.24 377.51L488.89 376.67L488.44 381.34L492.45 378.89L491.09 378.04L496.85 368.83Z" fill="#202091"/>
<path d="M579.15 368.83L584.91 378.04L583.55 378.89L587.56 381.34L587.11 376.67L585.76 377.51L580 368.3Z" fill="#202091"/>
<path d="M520.55 371.35L515.1 376.67L513.98 375.53L512.44 379.96L516.91 378.53L515.79 377.39L521.25 372.07Z" fill="#cceeca"/>
<path d="M554.75 372.07L560.21 377.39L559.09 378.53L563.56 379.96L562.02 375.53L560.9 376.67L555.45 371.35Z" fill="#cceeca"/>
<path d="M510.29 371.11L503.3 379.41L502.08 378.37L500.98 382.94L505.29 381.08L504.07 380.05L511.05 371.76Z" fill="#3f5ebf"/>
<path d="M564.95 371.76L571.93 380.05L570.71 381.08L575.02 382.94L573.92 378.37L572.7 379.41L565.71 371.11Z" fill="#3f5ebf"/>
<path d="M525.03 372.84L521.21 378.35L519.9 377.43L519.23 382.08L523.35 379.83L522.03 378.92L525.85 373.41Z" fill="#cceeca"/>
<path d="M550.15 373.41L553.97 378.92L552.65 379.83L556.77 382.08L556.1 377.43L554.79 378.35L550.97 372.84Z" fill="#cceeca"/>
<path d="M499.18 371.23L493.84 380.88L492.44 380.11L492.25 384.8L496.12 382.14L494.72 381.37L500.05 371.71Z" fill="#202091"/>
<path d="M575.95 371.71L581.28 381.37L579.88 382.14L583.75 384.8L583.56 380.11L582.16 380.88L576.82 371.23Z" fill="#202091"/>
<path d="M529.86 373.91L527.63 379.44L526.15 378.85L526.53 383.53L530.04 380.42L528.56 379.82L530.79 374.28Z" fill="#cceeca"/>
<path d="M545.21 374.28L547.44 379.82L545.96 380.42L549.47 383.53L549.85 378.85L548.37 379.44L546.14 373.91Z" fill="#cceeca"/>
<path d="M534.92 374.52L534.19 380.03L532.61 379.82L534.14 384.26L536.77 380.37L535.19 380.16L535.91 374.65Z" fill="#cceeca"/>
<path d="M540.09 374.65L540.81 380.16L539.23 380.37L541.86 384.26L543.39 379.82L541.81 380.03L541.08 374.52Z" fill="#cceeca"/>
<path d="M514.42 373.24L508.55 382L507.22 381.1L506.63 385.76L510.71 383.44L509.38 382.55L515.25 373.79Z" fill="#3f5ebf"/>
<path d="M560.75 373.79L566.62 382.55L565.29 383.44L569.37 385.76L568.78 381.1L567.45 382L561.58 373.24Z" fill="#3f5ebf"/>
<path d="M502.96 373.9L498.14 383.95L496.7 383.26L496.77 387.96L500.48 385.08L499.04 384.39L503.87 374.33Z" fill="#202091"/>
<path d="M572.13 374.33L576.96 384.39L575.52 385.08L579.23 387.96L579.3 383.26L577.86 383.95L573.04 373.9Z" fill="#202091"/>
<path d="M519.03 375.01L514.38 384.12L512.95 383.4L512.91 388.09L516.69 385.31L515.27 384.58L519.92 375.46Z" fill="#3f5ebf"/>
<path d="M556.08 375.46L560.73 384.58L559.31 385.31L563.09 388.09L563.05 383.4L561.62 384.12L556.97 375.01Z" fill="#3f5ebf"/>
<path d="M524.02 376.39L520.66 385.76L519.15 385.22L519.71 389.88L523.1 386.64L521.6 386.1L524.96 376.73Z" fill="#3f5ebf"/>
<path d="M551.04 376.73L554.4 386.1L552.9 386.64L556.29 389.88L556.85 385.22L555.34 385.76L551.98 376.39Z" fill="#3f5ebf"/>
<path d="M507.29 376.28L503.07 386.68L501.59 386.08L501.95 390.76L505.48 387.66L503.99 387.06L508.22 376.66Z" fill="#202091"/>
<path d="M567.78 376.66L572.01 387.06L570.52 387.66L574.05 390.76L574.41 386.08L572.93 386.68L568.71 376.28Z" fill="#202091"/>
<path d="M529.3 377.35L527.26 386.88L525.7 386.55L526.87 391.1L529.8 387.43L528.24 387.09L530.27 377.56Z" fill="#3f5ebf"/>
<path d="M545.73 377.56L547.76 387.09L546.2 387.43L549.13 391.1L550.3 386.55L548.74 386.88L546.7 377.35Z" fill="#3f5ebf"/>
<path d="M534.74 377.87L534.06 387.48L532.47 387.37L534.27 391.71L536.66 387.67L535.06 387.56L535.74 377.94Z" fill="#3f5ebf"/>
<path d="M540.26 377.94L540.94 387.56L539.34 387.67L541.73 391.71L543.53 387.37L541.94 387.48L541.26 377.87Z" fill="#3f5ebf"/>
<path d="M512.1 378.33L508.55 389.03L507.03 388.52L507.7 393.17L511.01 389.85L509.5 389.34L513.05 378.65Z" fill="#202091"/>
<path d="M562.95 378.65L566.5 389.34L564.99 389.85L568.3 393.17L568.97 388.52L567.45 389.03L563.9 378.33Z" fill="#202091"/>
<path d="M517.31 380.02L514.49 390.95L512.94 390.55L513.92 395.14L517 391.6L515.46 391.2L518.28 380.27Z" fill="#202091"/>
<path d="M557.72 380.27L560.54 391.2L559 391.6L562.08 395.14L563.06 390.55L561.51 390.95L558.69 380.02Z" fill="#202091"/>
<path d="M522.85 381.32L520.79 392.43L519.22 392.14L520.52 396.65L523.35 392.9L521.78 392.61L523.83 381.5Z" fill="#202091"/>
<path d="M552.17 381.5L554.22 392.61L552.65 392.9L555.48 396.65L556.78 392.14L555.21 392.43L553.15 381.32Z" fill="#202091"/>
<path d="M528.61 382.21L527.37 393.44L525.78 393.27L527.4 397.67L529.95 393.73L528.36 393.55L529.61 382.32Z" fill="#202091"/>
<path d="M546.39 382.32L547.64 393.55L546.05 393.73L548.6 397.67L550.22 393.27L548.63 393.44L547.39 382.21Z" fill="#202091"/>
<path d="M534.52 382.68L534.1 393.97L532.51 393.91L534.45 398.18L536.7 394.07L535.1 394.01L535.52 382.72Z" fill="#202091"/>
<path d="M540.48 382.72L540.9 394.01L539.3 394.07L541.55 398.18L543.49 393.91L541.9 393.97L541.48 382.68Z" fill="#202091"/>
<ellipse cx="713" cy="355" rx="44" ry="26" fill="url(#gs4)" opacity="0.7"/>
<path d="M707.1 327.14L711.76 332.78L710.72 333.64L714.4 335.26L713.49 331.34L712.45 332.2L707.79 326.57Z" fill="#1a1848"/>
<path d="M713.25 326.86L717.99 332.97L716.92 333.79L720.55 335.53L719.77 331.59L718.7 332.41L713.96 326.31Z" fill="#1a1848"/>
<path d="M701.06 327.89L705.54 333.05L704.52 333.93L708.24 335.47L707.24 331.57L706.22 332.46L701.74 327.3Z" fill="#1a1848"/>
<path d="M719.4 327.06L724.13 333.61L723.04 334.41L726.6 336.27L725.96 332.3L724.86 333.09L720.13 326.53Z" fill="#1a1848"/>
<path d="M695.21 329.09L699.43 333.77L698.42 334.68L702.17 336.15L701.1 332.27L700.1 333.17L695.88 328.49Z" fill="#1a1848"/>
<path d="M725.45 327.72L730.09 334.71L728.97 335.46L732.45 337.47L731.97 333.47L730.84 334.22L726.2 327.22Z" fill="#1a1848"/>
<path d="M705.2 331.2L713.02 334.56L712.49 335.8L716.51 335.56L713.91 332.49L713.38 333.73L705.55 330.37Z" fill="#1a1848"/>
<path d="M711.28 330.7L719.22 334.8L718.6 336L722.63 336.05L720.25 332.8L719.64 334L711.7 329.9Z" fill="#1a1848"/>
<path d="M699.28 332.23L706.79 334.85L706.35 336.13L710.34 335.61L707.54 332.73L707.09 334L699.58 331.38Z" fill="#1a1848"/>
<path d="M717.42 330.73L725.27 335.56L724.56 336.71L728.57 337.07L726.45 333.65L725.74 334.8L717.89 329.97Z" fill="#1a1848"/>
<path d="M689.65 330.73L693.52 334.94L692.53 335.85L696.29 337.29L695.18 333.42L694.18 334.33L690.32 330.12Z" fill="#1a1848"/>
<path d="M731.33 328.84L735.78 336.25L734.62 336.94L738.01 339.1L737.7 335.09L736.55 335.78L732.1 328.38Z" fill="#1a1848"/>
<path d="M693.67 333.76L700.66 335.68L700.3 336.98L704.25 336.2L701.25 333.51L700.9 334.81L693.91 332.89Z" fill="#1a1848"/>
<path d="M723.49 331.3L731.04 336.83L730.25 337.92L734.21 338.59L732.37 335.01L731.57 336.1L724.02 330.57Z" fill="#1a1848"/>
<path d="M704.51 335.77L713.8 336.05L713.76 337.4L717.41 335.71L713.87 333.8L713.82 335.15L704.54 334.87Z" fill="#c5ebcf"/>
<path d="M710.53 335.11L719.85 336.34L719.67 337.68L723.48 336.37L720.15 334.11L719.97 335.45L710.65 334.22Z" fill="#c5ebcf"/>
<path d="M684.47 332.78L687.92 336.52L686.92 337.44L690.69 338.87L689.57 335L688.58 335.91L685.13 332.17Z" fill="#1a1848"/>
<path d="M736.92 330.4L741.1 338.19L739.91 338.83L743.2 341.15L743.08 337.13L741.89 337.77L737.71 329.98Z" fill="#1a1848"/>
<path d="M698.74 337.02L707.69 336.38L707.78 337.73L711.25 335.68L707.53 334.14L707.62 335.49L698.68 336.12Z" fill="#c5ebcf"/>
<path d="M716.65 335.07L725.68 337.22L725.37 338.54L729.29 337.62L726.21 335.04L725.89 336.35L716.86 334.19Z" fill="#c5ebcf"/>
<path d="M688.46 335.77L694.73 337.04L694.47 338.36L698.35 337.31L695.18 334.83L694.91 336.16L688.64 334.89Z" fill="#1a1848"/>
<path d="M729.35 332.39L736.44 338.56L735.55 339.58L739.45 340.59L737.92 336.87L737.03 337.89L729.94 331.71Z" fill="#1a1848"/>
<path d="M693.4 338.84L701.7 337.35L701.93 338.68L705.16 336.27L701.3 335.13L701.54 336.46L693.24 337.95Z" fill="#c5ebcf"/>
<path d="M722.69 335.64L731.14 338.66L730.69 339.93L734.68 339.45L731.9 336.54L731.44 337.81L722.99 334.79Z" fill="#c5ebcf"/>
<path d="M679.75 335.21L682.71 338.49L681.7 339.39L685.45 340.86L684.38 336.98L683.38 337.89L680.42 334.6Z" fill="#1a1848"/>
<path d="M742.14 332.38L745.98 340.52L744.76 341.09L747.92 343.58L748.01 339.56L746.79 340.13L742.96 331.99Z" fill="#1a1848"/>
<path d="M709.44 339.76L718.33 337.88L718.61 339.2L721.76 336.69L717.86 335.68L718.14 337L709.25 338.88Z" fill="#e6e487"/>
<path d="M703.37 340.71L712.24 337.7L712.67 338.98L715.5 336.12L711.52 335.57L711.95 336.85L703.08 339.86Z" fill="#e6e487"/>
<path d="M683.78 338.21L689.15 338.91L688.97 340.25L692.78 338.93L689.44 336.68L689.26 338.02L683.9 337.32Z" fill="#1a1848"/>
<path d="M734.9 333.98L741.35 340.73L740.38 341.67L744.16 343.03L742.98 339.18L742 340.11L735.55 333.35Z" fill="#1a1848"/>
<path d="M715.7 339.59L724.15 338.81L724.27 340.15L727.69 338.03L723.94 336.57L724.07 337.91L715.62 338.69Z" fill="#e6e487"/>
<path d="M688.62 341.17L696 338.94L696.39 340.23L699.31 337.46L695.35 336.78L695.74 338.07L688.36 340.31Z" fill="#c5ebcf"/>
<path d="M728.49 336.81L736.09 340.59L735.49 341.8L739.51 341.79L737.09 338.58L736.49 339.79L728.89 336.01Z" fill="#c5ebcf"/>
<path d="M697.73 342.39L706.15 338.3L706.74 339.51L709.19 336.32L705.17 336.28L705.76 337.49L697.34 341.58Z" fill="#e6e487"/>
<path d="M721.89 340.18L729.45 340.41L729.41 341.76L733.07 340.07L729.52 338.16L729.48 339.51L721.92 339.28Z" fill="#e6e487"/>
<path d="M675.55 337.97L677.98 340.81L676.96 341.68L680.66 343.25L679.69 339.34L678.67 340.22L676.24 337.39Z" fill="#1a1848"/>
<path d="M746.92 334.74L750.34 343.19L749.08 343.7L752.1 346.36L752.42 342.35L751.17 342.85L747.75 334.4Z" fill="#1a1848"/>
<path d="M710.64 344.12L717.77 340.01L718.44 341.18L720.66 337.83L716.65 338.06L717.32 339.23L710.19 343.34Z" fill="#f0a63d"/>
<path d="M679.71 341.03L684.01 341.27L683.94 342.61L687.63 341.01L684.13 339.02L684.06 340.37L679.76 340.13Z" fill="#1a1848"/>
<path d="M740.02 336.03L745.69 343.29L744.63 344.12L748.26 345.85L747.47 341.9L746.4 342.73L740.72 335.47Z" fill="#1a1848"/>
<path d="M692.78 344.72L700.33 339.67L701.08 340.8L703.07 337.3L699.08 337.8L699.83 338.93L692.28 343.97Z" fill="#e6e487"/>
<path d="M704.63 345.12L711.83 339.78L712.63 340.87L714.45 337.28L710.49 337.97L711.29 339.06L704.1 344.39Z" fill="#f0a63d"/>
<path d="M684.54 343.95L690.77 341.12L691.33 342.35L693.87 339.23L689.85 339.07L690.4 340.3L684.17 343.13Z" fill="#c5ebcf"/>
<path d="M733.88 338.55L740.41 342.95L739.66 344.07L743.65 344.59L741.67 341.09L740.91 342.21L734.38 337.8Z" fill="#c5ebcf"/>
<path d="M716.87 344.07L723.35 341.18L723.9 342.42L726.45 339.3L722.43 339.13L722.98 340.36L716.5 343.25Z" fill="#f0a63d"/>
<path d="M727.76 341.53L734.03 342.58L733.81 343.91L737.66 342.73L734.4 340.36L734.18 341.69L727.91 340.64Z" fill="#e6e487"/>
<path d="M699.23 346.99L705.94 340.51L706.88 341.48L708.21 337.69L704.37 338.9L705.31 339.87L698.61 346.34Z" fill="#f0a63d"/>
<path d="M722.94 344.98L728.2 343.2L728.63 344.48L731.46 341.62L727.48 341.07L727.91 342.35L722.65 344.13Z" fill="#f0a63d"/>
<path d="M688.7 347.61L695.05 341.78L695.97 342.77L697.4 339.01L693.53 340.12L694.45 341.12L688.09 346.94Z" fill="#e6e487"/>
<path d="M751.17 337.45L754.11 346.16L752.83 346.6L755.69 349.43L756.24 345.44L754.96 345.88L752.02 337.16Z" fill="#1a1848"/>
<path d="M671.96 341.03L673.83 343.42L672.77 344.26L676.41 345.98L675.6 342.04L674.54 342.87L672.67 340.47Z" fill="#1a1848"/>
<path d="M744.6 338.5L749.38 346.18L748.24 346.89L751.67 349L751.29 344.99L750.15 345.7L745.36 338.02Z" fill="#1a1848"/>
<path d="M676.35 344.18L679.44 344.09L679.48 345.44L683.02 343.52L679.37 341.84L679.41 343.19L676.32 343.28Z" fill="#1a1848"/>
<path d="M712.24 348.15L717.08 342.68L718.09 343.58L719.13 339.69L715.4 341.19L716.41 342.09L711.57 347.56Z" fill="#e75c20"/>
<path d="M706.34 349.15L711.24 342.44L712.33 343.24L713 339.27L709.43 341.11L710.52 341.91L705.61 348.62Z" fill="#e75c20"/>
<path d="M681.27 347.09L686.2 343.87L686.94 345L688.97 341.52L684.97 341.98L685.71 343.11L680.78 346.34Z" fill="#c5ebcf"/>
<path d="M738.72 340.8L744.02 345.66L743.1 346.66L746.97 347.77L745.54 344.01L744.63 345L739.33 340.14Z" fill="#c5ebcf"/>
<path d="M694.78 349.62L700.5 342.17L701.58 342.99L702.34 339.04L698.72 340.8L699.79 341.62L694.07 349.07Z" fill="#f0a63d"/>
<path d="M733.04 343.57L737.73 345.16L737.3 346.44L741.28 345.9L738.46 343.03L738.02 344.31L733.33 342.72Z" fill="#e6e487"/>
<path d="M718.38 348.37L722.5 344.19L723.46 345.14L724.7 341.31L720.89 342.61L721.86 343.56L717.74 347.74Z" fill="#e75c20"/>
<path d="M728.45 346.78L731.98 345.91L732.31 347.23L735.37 344.62L731.45 343.73L731.77 345.04L728.24 345.9Z" fill="#f0a63d"/>
<path d="M701.31 351.26L705.63 343.45L706.82 344.11L706.98 340.09L703.67 342.36L704.85 343.02L700.52 350.83Z" fill="#e75c20"/>
<path d="M685.67 350.93L690.58 344.52L691.65 345.34L692.41 341.39L688.8 343.15L689.87 343.98L684.96 350.38Z" fill="#e6e487"/>
<path d="M669.01 344.33L670.52 346.55L669.4 347.31L672.74 349.02L672.38 345.29L671.27 346.05L669.76 343.82Z" fill="#1a1848"/>
<path d="M754.83 340.46L757.24 349.4L755.94 349.75L758.62 352.76L759.42 348.81L758.11 349.16L755.7 340.22Z" fill="#1a1848"/>
<path d="M724.1 349.78L726.94 346.85L727.91 347.78L729.11 343.94L725.32 345.28L726.29 346.22L723.45 349.16Z" fill="#e75c20"/>
<path d="M748.55 341.34L752.35 349.35L751.14 349.93L754.31 352.41L754.39 348.39L753.17 348.97L749.36 340.95Z" fill="#1a1848"/>
<path d="M673.76 347.59L676.16 347.26L676.35 348.6L679.05 346.41L675.86 345.03L676.04 346.37L673.63 346.7Z" fill="#1a1848"/>
<path d="M691.56 352.84L695.91 344.63L697.1 345.26L697.2 341.24L693.92 343.58L695.11 344.21L690.76 352.42Z" fill="#f0a63d"/>
<path d="M713.85 351.89L716.5 345.75L717.74 346.29L717.52 342.27L714.44 344.86L715.68 345.39L713.02 351.54Z" fill="#da2d1a"/>
<path d="M678.91 350.51L682.47 347.09L683.41 348.06L684.76 344.27L680.91 345.47L681.85 346.44L678.29 349.86Z" fill="#c5ebcf"/>
<path d="M742.89 343.5L746.85 348.65L745.78 349.48L749.4 351.24L748.63 347.28L747.56 348.11L743.6 342.95Z" fill="#c5ebcf"/>
<path d="M708.16 352.9L710.78 345.64L712.05 346.1L711.58 342.1L708.66 344.88L709.93 345.34L707.31 352.59Z" fill="#da2d1a"/>
<path d="M737.53 346.2L740.48 347.98L739.78 349.14L743.79 349.45L741.64 346.05L740.94 347.21L737.99 345.43Z" fill="#e6e487"/>
<path d="M697.7 354.25L700.9 345.59L702.16 346.06L701.73 342.06L698.79 344.81L700.05 345.28L696.85 353.94Z" fill="#e75c20"/>
<path d="M719.68 352.59L721.71 347.61L722.96 348.12L722.65 344.11L719.63 346.76L720.88 347.27L718.85 352.26Z" fill="#da2d1a"/>
<path d="M733.07 349.36L735.29 349.01L735.51 350.34L737.94 348.13L734.94 346.79L735.15 348.12L732.92 348.48Z" fill="#f0a63d"/>
<path d="M683.81 354.54L687.13 347.77L688.34 348.36L688.31 344.34L685.11 346.78L686.32 347.37L683 354.15Z" fill="#e6e487"/>
<path d="M703.9 355.38L705.81 347.25L707.13 347.56L706.19 343.65L703.62 346.74L704.93 347.05L703.03 355.18Z" fill="#da2d1a"/>
<path d="M728.8 352.21L730.35 350.13L731.43 350.94L731.89 347.32L728.54 348.79L729.63 349.59L728.07 351.68Z" fill="#e75c20"/>
<path d="M666.76 347.81L667.92 349.94L666.73 350.58L669.72 352.31L669.89 348.86L668.71 349.51L667.55 347.38Z" fill="#1a1848"/>
<path d="M757.84 343.72L759.68 352.84L758.36 353.11L760.84 356.28L761.89 352.39L760.57 352.66L758.72 343.54Z" fill="#1a1848"/>
<path d="M672 351.19L673.76 350.67L674.14 351.97L675.78 349.62L673.13 348.52L673.51 349.81L671.75 350.32Z" fill="#1a1848"/>
<path d="M751.79 344.49L754.55 352.75L753.27 353.18L756.12 356.02L756.69 352.04L755.41 352.46L752.65 344.21Z" fill="#1a1848"/>
<path d="M689.76 356.44L692.47 347.73L693.76 348.13L693.11 344.15L690.32 347.06L691.61 347.46L688.9 356.17Z" fill="#f0a63d"/>
<path d="M713.71 355.53L714.67 348.88L716 349.07L714.74 345.25L712.44 348.56L713.78 348.75L712.82 355.4Z" fill="#d51b18"/>
<path d="M677.52 354.1L679.75 350.67L680.88 351.41L681.34 347.41L677.87 349.44L679 350.18L676.76 353.6Z" fill="#c5ebcf"/>
<path d="M746.26 346.56L748.87 351.87L747.65 352.47L750.86 354.9L750.89 350.88L749.67 351.47L747.06 346.16Z" fill="#c5ebcf"/>
<path d="M724.33 354.82L725.35 350.79L726.66 351.12L725.8 347.19L723.17 350.24L724.48 350.57L723.45 354.6Z" fill="#da2d1a"/>
<path d="M741.02 349.3L742.7 351.21L741.68 352.1L745.08 353.24L744.39 349.72L743.37 350.61L741.7 348.7Z" fill="#e6e487"/>
<path d="M695.89 357.78L697.59 348.59L698.91 348.83L697.8 344.97L695.37 348.18L696.7 348.42L695 357.61Z" fill="#e75c20"/>
<path d="M736.49 352.57L737.64 352.48L737.75 353.82L739.01 351.91L737.45 350.24L737.57 351.58L736.42 351.68Z" fill="#f0a63d"/>
<path d="M708.78 357.76L709.27 350.36L710.62 350.45L709.06 346.74L707.03 350.21L708.37 350.3L707.88 357.7Z" fill="#d51b18"/>
<path d="M719.38 356.98L719.84 351.14L721.19 351.25L719.67 347.52L717.6 350.97L718.94 351.07L718.49 356.91Z" fill="#d51b18"/>
<path d="M702.06 358.78L702.76 350.17L704.1 350.28L702.6 346.54L700.51 349.99L701.86 350.1L701.17 358.7Z" fill="#da2d1a"/>
<path d="M683.19 358.3L684.85 351.33L686.17 351.64L685.25 347.73L682.67 350.81L683.98 351.12L682.31 358.09Z" fill="#e6e487"/>
<path d="M731.96 355.33L732.5 353.46L733.79 353.84L732.72 351.06L730.33 352.84L731.63 353.22L731.1 355.09Z" fill="#e75c20"/>
<path d="M760.15 347.19L761.4 356.44L760.06 356.62L762.33 359.94L763.63 356.14L762.29 356.32L761.04 347.07Z" fill="#1a1848"/>
<path d="M665.25 351.43L666.03 353.47L664.77 353.95L667.41 355.81L668.13 352.67L666.87 353.15L666.09 351.11Z" fill="#1a1848"/>
<path d="M671.15 354.87L672.22 354.24L672.91 355.4L673.29 353.07L671.06 352.3L671.76 353.46L670.69 354.1Z" fill="#1a1848"/>
<path d="M754.27 347.9L755.94 356.31L754.61 356.57L757.08 359.75L758.15 355.87L756.82 356.13L755.15 347.72Z" fill="#1a1848"/>
<path d="M689.5 360.19L690.42 351.23L691.76 351.36L690.34 347.6L688.18 351L689.52 351.14L688.6 360.09Z" fill="#f0a63d"/>
<path d="M714.45 359.14L714.45 352.46L715.8 352.46L714 348.86L712.2 352.46L713.55 352.46L713.55 359.14Z" fill="#d41818"/>
<path d="M677.12 357.75L678.16 354.42L679.45 354.83L678.82 350.85L676.02 353.75L677.3 354.15L676.26 357.48Z" fill="#c5ebcf"/>
<path d="M748.75 349.91L750.03 355.27L748.72 355.58L751.31 358.66L752.22 354.74L750.91 355.06L749.62 349.7Z" fill="#c5ebcf"/>
<path d="M726.7 358.05L726.7 354.42L728.05 354.42L726.25 350.82L724.45 354.42L725.8 354.42L725.8 358.05Z" fill="#da2d1a"/>
<path d="M743.41 352.68L743.97 354.73L742.67 355.09L745.1 357.11L746.14 354.13L744.84 354.49L744.27 352.44Z" fill="#e6e487"/>
<path d="M696.08 361.47L696.08 352.1L697.42 352.1L695.62 348.5L693.83 352.1L695.17 352.1L695.17 361.47Z" fill="#e75c20"/>
<circle cx="738.5" cy="355.75" r="1.3" fill="#f0a63d"/>
<path d="M709.51 361.45L709.02 354.05L710.36 353.96L708.33 350.49L706.77 354.2L708.12 354.11L708.62 361.51Z" fill="#d51b18"/>
<path d="M720.12 360.66L719.66 354.82L721.01 354.72L718.94 351.27L717.42 355L718.77 354.89L719.22 360.73Z" fill="#d51b18"/>
<path d="M703.05 362.29L702.35 353.69L703.7 353.58L701.61 350.13L700.11 353.87L701.45 353.76L702.15 362.37Z" fill="#da2d1a"/>
<path d="M683.83 362.05L683.83 355.02L685.17 355.02L683.38 351.42L681.58 355.02L682.92 355.02L682.92 362.05Z" fill="#e6e487"/>
<path d="M733.15 358.79L732.62 356.92L733.91 356.55L731.53 354.76L730.45 357.54L731.75 357.17L732.29 359.04Z" fill="#e75c20"/>
<path d="M664.51 355.1L664.9 357.1L663.58 357.36L665.82 359.46L667.11 356.67L665.78 356.93L665.39 354.93Z" fill="#1a1848"/>
<path d="M761.73 350.82L762.36 360.13L761.01 360.22L763.05 363.69L764.6 359.98L763.26 360.07L762.63 350.75Z" fill="#1a1848"/>
<path d="M755.92 351.47L756.48 359.97L755.13 360.05L757.16 363.53L758.72 359.82L757.38 359.91L756.82 351.42Z" fill="#1a1848"/>
<path d="M671.24 358.47L671.59 357.77L672.8 358.39L671.63 356.71L669.59 356.74L670.79 357.36L670.44 358.06Z" fill="#1a1848"/>
<path d="M690.78 363.85L689.86 354.9L691.21 354.76L689.05 351.36L687.63 355.12L688.97 354.99L689.89 363.95Z" fill="#f0a63d"/>
<path d="M715.18 362.9L714.22 356.25L715.56 356.06L713.26 352.75L712 356.57L713.33 356.38L714.29 363.03Z" fill="#d51b18"/>
<path d="M726.24 361.57L725.21 357.54L726.52 357.21L723.89 354.16L723.03 358.1L724.34 357.76L725.37 361.79Z" fill="#da2d1a"/>
<path d="M677.7 361.37L677.7 358.1L679.05 358.1L677.25 354.5L675.45 358.1L676.8 358.1L676.8 361.37Z" fill="#c5ebcf"/>
<path d="M750.3 353.45L750.3 358.82L748.95 358.82L750.75 362.42L752.55 358.82L751.2 358.82L751.2 353.45Z" fill="#c5ebcf"/>
<path d="M744.66 356.24L744.1 358.28L742.8 357.92L743.84 360.91L746.27 358.88L744.96 358.52L745.53 356.47Z" fill="#e6e487"/>
<path d="M698.24 364.92L696.54 355.73L697.87 355.48L695.44 352.27L694.33 356.14L695.66 355.89L697.36 365.08Z" fill="#e75c20"/>
<path d="M706.63 365.13L704.73 357L706.04 356.69L703.47 353.59L702.54 357.51L703.85 357.2L705.76 365.33Z" fill="#da2d1a"/>
<path d="M739.04 359.14L737.9 359.04L738.01 357.7L736.45 359.37L737.71 361.28L737.82 359.94L738.97 360.03Z" fill="#f0a63d"/>
<path d="M732.25 362.38L730.69 360.3L731.78 359.49L728.44 358.02L728.89 361.65L729.97 360.84L731.52 362.92Z" fill="#e75c20"/>
<path d="M685.69 365.64L684.03 358.67L685.34 358.36L682.75 355.27L681.84 359.19L683.15 358.88L684.82 365.85Z" fill="#e6e487"/>
<path d="M723.07 364.6L721.04 359.61L722.29 359.11L719.27 356.45L718.96 360.46L720.21 359.95L722.23 364.94Z" fill="#da2d1a"/>
<path d="M664.55 358.79L664.55 360.78L663.2 360.78L665 363.21L666.8 360.78L665.45 360.78L665.45 358.79Z" fill="#1a1848"/>
<path d="M762.55 354.53L762.55 363.87L761.2 363.87L763 367.47L764.8 363.87L763.45 363.87L763.45 354.53Z" fill="#1a1848"/>
<path d="M672.03 361.8L671.67 361.1L672.88 360.49L670.84 360.45L669.67 362.13L670.87 361.51L671.23 362.21Z" fill="#1a1848"/>
<path d="M756.72 355.16L756.16 363.65L754.81 363.56L756.37 367.27L758.4 363.8L757.05 363.71L757.61 355.22Z" fill="#1a1848"/>
<path d="M693.54 367.21L690.83 358.5L692.12 358.1L689.33 355.2L688.68 359.17L689.97 358.77L692.68 367.48Z" fill="#f0a63d"/>
<path d="M712 366.62L709.38 359.36L710.65 358.9L707.73 356.13L707.26 360.13L708.53 359.67L711.16 366.92Z" fill="#da2d1a"/>
<path d="M679.24 364.88L678.2 361.56L679.49 361.15L676.69 358.26L676.05 362.24L677.34 361.83L678.39 365.16Z" fill="#c5ebcf"/>
<path d="M750.88 357.11L749.59 362.47L748.28 362.15L749.18 366.07L751.78 362.99L750.46 362.68L751.75 357.32Z" fill="#c5ebcf"/>
<path d="M717.93 366.43L715.28 360.29L716.52 359.75L713.43 357.16L713.21 361.18L714.45 360.64L717.11 366.78Z" fill="#da2d1a"/>
<path d="M702.15 367.76L698.94 359.1L700.21 358.63L697.27 355.88L696.83 359.88L698.1 359.41L701.3 368.07Z" fill="#e75c20"/>
<path d="M744.74 359.93L743.07 361.84L742.05 360.95L741.36 364.47L744.76 363.32L743.74 362.43L745.42 360.52Z" fill="#e6e487"/>
<path d="M738.01 362.93L735.79 362.57L736 361.24L733 362.58L735.43 364.79L735.65 363.46L737.87 363.82Z" fill="#f0a63d"/>
<path d="M729.44 365.71L726.6 362.78L727.57 361.84L723.78 360.5L724.98 364.34L725.95 363.4L728.79 366.34Z" fill="#e75c20"/>
<path d="M688.71 368.94L685.39 362.16L686.61 361.57L683.41 359.12L683.37 363.15L684.59 362.56L687.9 369.33Z" fill="#e6e487"/>
<path d="M707.38 369.66L703.05 361.85L704.23 361.2L700.92 358.92L701.08 362.94L702.27 362.29L706.59 370.1Z" fill="#e75c20"/>
<path d="M697.59 370.05L693.24 361.84L694.44 361.21L691.16 358.87L691.26 362.9L692.45 362.26L696.8 370.47Z" fill="#f0a63d"/>
<path d="M665.38 362.45L664.99 364.45L663.66 364.19L664.95 366.98L667.2 364.88L665.87 364.62L666.26 362.62Z" fill="#1a1848"/>
<path d="M762.6 358.27L761.97 367.59L760.62 367.5L762.18 371.21L764.22 367.74L762.87 367.65L763.5 358.34Z" fill="#1a1848"/>
<path d="M756.64 358.88L754.97 367.29L753.64 367.03L754.71 370.91L757.18 367.73L755.85 367.47L757.52 359.05Z" fill="#1a1848"/>
<path d="M673.52 365.26L672.45 364.62L673.15 363.46L670.92 364.23L671.3 366.56L671.99 365.4L673.06 366.03Z" fill="#1a1848"/>
<path d="M681.72 368.22L679.49 364.79L680.62 364.06L677.14 362.02L677.6 366.02L678.73 365.29L680.96 368.71Z" fill="#c5ebcf"/>
<path d="M750.45 360.77L747.84 366.08L746.63 365.49L746.66 369.51L749.86 367.08L748.65 366.48L751.26 361.17Z" fill="#c5ebcf"/>
<path d="M725.02 368.35L720.91 364.16L721.87 363.22L718.06 361.91L719.3 365.74L720.27 364.79L724.38 368.98Z" fill="#e75c20"/>
<path d="M743.56 363.63L740.61 365.41L739.92 364.25L737.76 367.65L741.77 367.33L741.08 366.18L744.02 364.4Z" fill="#e6e487"/>
<path d="M713.37 370.44L708.46 363.72L709.55 362.92L705.98 361.08L706.65 365.05L707.74 364.25L712.64 370.97Z" fill="#e75c20"/>
<path d="M735.48 366.44L731.95 365.58L732.27 364.27L728.34 365.16L731.41 367.76L731.73 366.45L735.27 367.31Z" fill="#f0a63d"/>
<path d="M719.47 369.98L714.63 364.51L715.64 363.62L711.9 362.11L712.94 366L713.95 365.11L718.79 370.58Z" fill="#e75c20"/>
<path d="M702.7 372.19L696.98 364.73L698.05 363.91L694.43 362.15L695.19 366.1L696.26 365.28L701.98 372.74Z" fill="#f0a63d"/>
<path d="M692.77 371.8L687.86 365.4L688.93 364.58L685.31 362.81L686.08 366.77L687.15 365.95L692.06 372.35Z" fill="#e6e487"/>
<path d="M731.61 369.46L726.35 367.68L726.78 366.4L722.79 366.95L725.63 369.81L726.06 368.53L731.32 370.31Z" fill="#f0a63d"/>
<path d="M761.88 362L760.63 371.24L759.29 371.06L760.59 374.87L762.86 371.54L761.52 371.36L762.77 362.12Z" fill="#1a1848"/>
<path d="M666.99 366.03L666.21 368.07L664.94 367.59L665.67 370.73L668.31 368.87L667.05 368.39L667.83 366.35Z" fill="#1a1848"/>
<path d="M675.91 368.67L674.15 368.16L674.53 366.86L671.88 367.96L673.52 370.32L673.9 369.02L675.65 369.53Z" fill="#1a1848"/>
<path d="M755.7 362.56L752.94 370.81L751.66 370.38L752.22 374.37L755.07 371.52L753.79 371.1L756.55 362.84Z" fill="#1a1848"/>
<path d="M685.07 371.28L681.51 367.86L682.45 366.89L678.6 365.69L679.95 369.48L680.89 368.51L684.45 371.93Z" fill="#c5ebcf"/>
<path d="M749.04 364.37L745.08 369.52L744.01 368.7L743.24 372.65L746.86 370.89L745.79 370.07L749.75 364.91Z" fill="#c5ebcf"/>
<path d="M741.14 367.14L736.45 368.74L736.02 367.46L733.19 370.33L737.18 370.87L736.74 369.59L741.43 368Z" fill="#e6e487"/>
<path d="M708.53 373.49L701.82 367.01L702.76 366.04L698.92 364.83L700.26 368.63L701.2 367.66L707.9 374.14Z" fill="#f0a63d"/>
<path d="M726.64 371.78L720.16 368.89L720.71 367.66L716.69 367.84L719.24 370.95L719.79 369.71L726.27 372.61Z" fill="#f0a63d"/>
<path d="M697.71 374.12L691.35 368.3L692.27 367.3L688.4 366.19L689.83 369.95L690.75 368.96L697.1 374.79Z" fill="#e6e487"/>
<path d="M714.72 373.86L707.52 368.53L708.33 367.44L704.37 366.74L706.18 370.33L706.99 369.25L714.19 374.59Z" fill="#f0a63d"/>
<path d="M720.89 373.28L713.76 369.17L714.43 368L710.41 367.77L712.63 371.12L713.31 369.95L720.44 374.06Z" fill="#f0a63d"/>
<path d="M737.59 370.3L731.31 371.34L731.09 370.01L727.83 372.38L731.68 373.56L731.46 372.23L737.73 371.19Z" fill="#e6e487"/>
<path d="M689.22 373.98L684.29 370.75L685.03 369.62L681.03 369.16L683.05 372.64L683.79 371.51L688.72 374.73Z" fill="#c5ebcf"/>
<path d="M746.67 367.78L741.38 372.64L740.46 371.65L739.03 375.41L742.9 374.3L741.98 373.3L747.28 368.44Z" fill="#c5ebcf"/>
<path d="M679.11 371.86L676.7 371.53L676.88 370.19L673.69 371.57L676.39 373.76L676.58 372.42L678.98 372.75Z" fill="#1a1848"/>
<path d="M753.9 366.11L750.09 374.13L748.87 373.55L748.95 377.57L752.13 375.09L750.91 374.51L754.71 366.5Z" fill="#1a1848"/>
<path d="M669.33 369.47L668.17 371.59L666.99 370.95L667.16 374.4L670.15 372.67L668.96 372.02L670.12 369.9Z" fill="#1a1848"/>
<path d="M760.4 365.63L758.55 374.75L757.23 374.48L758.28 378.37L760.76 375.2L759.43 374.93L761.28 365.81Z" fill="#1a1848"/>
<path d="M703.32 375.79L695.77 370.75L696.52 369.63L692.53 369.13L694.52 372.62L695.27 371.5L702.82 376.54Z" fill="#e6e487"/>
<path d="M733.05 372.95L725.49 373.18L725.45 371.83L721.91 373.73L725.56 375.43L725.52 374.08L733.08 373.85Z" fill="#e6e487"/>
<path d="M709.39 376.74L700.97 372.66L701.56 371.44L697.54 371.49L699.99 374.68L700.58 373.46L708.99 377.55Z" fill="#e6e487"/>
<path d="M694.05 376.24L687.82 373.41L688.37 372.18L684.35 372.34L686.89 375.46L687.45 374.23L693.68 377.06Z" fill="#c5ebcf"/>
<path d="M743.4 370.91L736.87 375.31L736.11 374.19L734.13 377.7L738.12 377.18L737.37 376.06L743.9 371.66Z" fill="#c5ebcf"/>
<path d="M727.73 374.99L719.29 374.21L719.41 372.87L715.66 374.33L719.08 376.45L719.2 375.11L727.65 375.89Z" fill="#e6e487"/>
<path d="M751.29 369.48L746.5 377.17L745.35 376.45L744.98 380.46L748.41 378.36L747.26 377.64L752.05 369.96Z" fill="#1a1848"/>
<path d="M683.04 374.74L679.94 374.65L679.99 373.3L676.33 374.99L679.87 376.9L679.92 375.55L683.01 375.64Z" fill="#1a1848"/>
<path d="M715.65 376.93L706.77 373.91L707.21 372.64L703.22 373.18L706.05 376.05L706.48 374.77L715.36 377.78Z" fill="#e6e487"/>
<path d="M672.37 372.73L670.86 374.95L669.74 374.19L669.38 377.92L672.72 376.22L671.6 375.46L673.11 373.23Z" fill="#1a1848"/>
<path d="M758.18 369.13L755.77 378.07L754.46 377.72L755.26 381.66L757.94 378.65L756.63 378.3L759.05 369.36Z" fill="#1a1848"/>
<path d="M721.85 376.34L712.96 374.45L713.24 373.13L709.35 374.14L712.49 376.65L712.77 375.33L721.66 377.22Z" fill="#e6e487"/>
<path d="M699.44 377.98L692.06 375.75L692.45 374.46L688.49 375.13L691.41 377.9L691.8 376.61L699.18 378.84Z" fill="#c5ebcf"/>
<path d="M739.31 373.68L731.71 377.46L731.11 376.25L728.69 379.46L732.71 379.47L732.11 378.27L739.71 374.49Z" fill="#c5ebcf"/>
<path d="M687.61 377.26L683.31 377.49L683.23 376.14L679.74 378.14L683.43 379.74L683.35 378.39L687.65 378.15Z" fill="#1a1848"/>
<path d="M747.91 372.59L742.23 379.86L741.17 379.03L740.37 382.97L744.01 381.24L742.94 380.41L748.62 373.15Z" fill="#1a1848"/>
<path d="M705.24 379.16L696.94 377.67L697.18 376.34L693.32 377.48L696.54 379.89L696.78 378.56L705.08 380.05Z" fill="#c5ebcf"/>
<path d="M734.53 376L726.08 379.02L725.63 377.75L722.84 380.66L726.84 381.14L726.38 379.87L734.84 376.85Z" fill="#c5ebcf"/>
<path d="M676.05 375.74L674.18 378.14L673.11 377.3L672.31 381.25L675.95 379.52L674.88 378.69L676.76 376.3Z" fill="#1a1848"/>
<path d="M755.26 372.43L752.32 381.14L751.04 380.71L751.59 384.7L754.45 381.86L753.17 381.43L756.12 372.71Z" fill="#1a1848"/>
<path d="M711.28 379.75L702.33 379.11L702.43 377.76L698.71 379.3L702.17 381.35L702.27 380.01L711.21 380.64Z" fill="#c5ebcf"/>
<path d="M729.19 377.81L720.15 379.97L719.84 378.66L716.75 381.25L720.67 382.16L720.36 380.85L729.39 378.69Z" fill="#c5ebcf"/>
<path d="M717.4 379.71L708.11 380L708.06 378.65L704.52 380.56L708.18 382.25L708.13 380.9L717.42 380.61Z" fill="#c5ebcf"/>
<path d="M723.42 379.06L714.1 380.29L713.92 378.96L710.59 381.21L714.4 382.53L714.22 381.19L723.54 379.95Z" fill="#c5ebcf"/>
<path d="M692.72 379.34L687.35 380.04L687.17 378.71L683.84 380.96L687.64 382.28L687.46 380.94L692.83 380.24Z" fill="#1a1848"/>
<path d="M743.84 375.38L737.39 382.14L736.41 381.21L735.22 385.05L739.01 383.69L738.04 382.76L744.49 376Z" fill="#1a1848"/>
<path d="M680.32 378.46L677.9 381.29L676.87 380.42L675.9 384.32L679.6 382.76L678.58 381.88L681.01 379.04Z" fill="#1a1848"/>
<path d="M751.69 375.47L748.27 383.92L747.02 383.42L747.34 387.43L750.35 384.77L749.1 384.26L752.52 375.81Z" fill="#1a1848"/>
<path d="M698.26 380.96L691.99 382.24L691.72 380.91L688.55 383.39L692.44 384.44L692.17 383.12L698.44 381.85Z" fill="#1a1848"/>
<path d="M739.15 377.79L732.07 383.96L731.18 382.95L729.65 386.67L733.54 385.66L732.66 384.64L739.74 378.47Z" fill="#1a1848"/>
<path d="M704.13 382.08L697.14 384L696.78 382.7L693.79 385.39L697.73 386.17L697.38 384.87L704.37 382.95Z" fill="#1a1848"/>
<path d="M733.95 379.76L726.39 385.29L725.6 384.2L723.75 387.78L727.72 387.11L726.92 386.02L734.48 380.49Z" fill="#1a1848"/>
<path d="M685.12 380.83L682.16 384.12L681.15 383.22L680.08 387.1L683.83 385.62L682.83 384.72L685.78 381.44Z" fill="#1a1848"/>
<path d="M747.51 378.23L743.68 386.37L742.46 385.79L742.55 389.81L745.71 387.32L744.49 386.75L748.32 378.61Z" fill="#1a1848"/>
<path d="M710.19 382.68L702.68 385.3L702.24 384.03L699.43 386.92L703.42 387.43L702.98 386.15L710.49 383.53Z" fill="#1a1848"/>
<path d="M728.33 381.27L720.49 386.1L719.78 384.95L717.66 388.37L721.67 388.01L720.96 386.86L728.8 382.03Z" fill="#1a1848"/>
<path d="M716.33 382.74L708.5 386.1L707.97 384.86L705.37 387.93L709.39 388.17L708.86 386.93L716.69 383.57Z" fill="#1a1848"/>
<path d="M722.42 382.27L714.48 386.37L713.86 385.17L711.49 388.42L715.51 388.37L714.9 387.17L722.83 383.07Z" fill="#1a1848"/>
<path d="M690.35 382.83L686.91 386.57L685.92 385.66L684.8 389.53L688.57 388.1L687.57 387.18L691.02 383.44Z" fill="#1a1848"/>
<path d="M742.8 380.64L738.62 388.43L737.43 387.79L737.31 391.81L740.6 389.49L739.41 388.85L743.59 381.06Z" fill="#1a1848"/>
<path d="M695.96 384.41L692.09 388.62L691.09 387.71L689.99 391.58L693.75 390.14L692.75 389.23L696.62 385.02Z" fill="#1a1848"/>
<path d="M737.63 382.67L733.18 390.07L732.02 389.38L731.71 393.39L735.11 391.23L733.95 390.54L738.4 383.13Z" fill="#1a1848"/>
<path d="M701.84 385.55L697.62 390.24L696.62 389.33L695.55 393.21L699.29 391.74L698.29 390.84L702.51 386.15Z" fill="#1a1848"/>
<path d="M732.08 384.28L727.44 391.28L726.32 390.53L725.83 394.53L729.32 392.52L728.19 391.78L732.83 384.78Z" fill="#1a1848"/>
<path d="M707.9 386.23L703.42 391.4L702.4 390.51L701.4 394.41L705.12 392.87L704.1 391.99L708.58 386.82Z" fill="#1a1848"/>
<path d="M726.24 385.47L721.5 392.03L720.41 391.24L719.76 395.21L723.33 393.34L722.23 392.55L726.97 385.99Z" fill="#1a1848"/>
<path d="M714.05 386.45L709.39 392.08L708.35 391.22L707.45 395.15L711.13 393.52L710.09 392.66L714.75 387.02Z" fill="#1a1848"/>
<path d="M720.2 386.19L715.45 392.3L714.39 391.47L713.6 395.41L717.23 393.68L716.17 392.85L720.91 386.74Z" fill="#1a1848"/>
<ellipse cx="684" cy="356" rx="8" ry="8" fill="#f8fbf4" opacity="0.7"/>
<circle cx="680" cy="352" r="0.9" fill="#203020"/>
<circle cx="685" cy="351" r="0.9" fill="#203020"/>
<circle cx="678" cy="356" r="0.9" fill="#203020"/>
<circle cx="683" cy="356" r="0.9" fill="#203020"/>
<circle cx="688" cy="356" r="0.9" fill="#203020"/>
<circle cx="681" cy="360" r="0.9" fill="#203020"/>
<circle cx="686" cy="360" r="0.9" fill="#203020"/>
<path d="M166.7 639L201 692.5L201 713L166.7 656Z" fill="url(#x1s1)"/>
<path d="M201 692.5L294.2 659.3L294.2 677.3L201 713Z" fill="url(#x1s2)"/>
<path d="M166.7 640.5L204.65 631.25Q215.39 642.79 226.12 654.33Q204.99 660.79 183.85 667.25Z" fill="#70d08c" stroke="#70d08c" stroke-width="0.6"/>
<path d="M242.6 622L268.4 641.4Q247.26 647.86 226.12 654.33Q215.39 642.79 204.65 631.25Z" fill="#b8a064" stroke="#b8a064" stroke-width="0.6"/>
<path d="M294.2 660.8L247.6 677.4Q236.86 665.86 226.12 654.33Q247.26 647.86 268.4 641.4Z" fill="#d07ccc" stroke="#d07ccc" stroke-width="0.6"/>
<path d="M201 694L183.85 667.25Q204.99 660.79 226.12 654.33Q236.86 665.86 247.6 677.4Z" fill="#323a7c" stroke="#323a7c" stroke-width="0.6"/>
<g clip-path="url(#x1clip)"><g filter="url(#soft)">
<path d="M166.7 640.5L204.65 631.25Q215.39 642.79 226.12 654.33Q204.99 660.79 183.85 667.25Z" fill="#70d08c"/>
<path d="M242.6 622L268.4 641.4Q247.26 647.86 226.12 654.33Q215.39 642.79 204.65 631.25Z" fill="#b8a064"/>
<path d="M294.2 660.8L247.6 677.4Q236.86 665.86 226.12 654.33Q247.26 647.86 268.4 641.4Z" fill="#d07ccc"/>
<path d="M201 694L183.85 667.25Q204.99 660.79 226.12 654.33Q236.86 665.86 247.6 677.4Z" fill="#323a7c"/>
</g></g>
<path d="M166.7 638.3v3.4M168.41 640.97v3.4M170.13 643.65v3.4M171.84 646.32v3.4M173.56 649v3.4M175.27 651.67v3.4M176.99 654.35v3.4M178.7 657.02v3.4M180.42 659.7v3.4M182.13 662.38v3.4M183.85 665.05v3.4M185.56 667.72v3.4M187.28 670.4v3.4M189 673.07v3.4M190.71 675.75v3.4M192.43 678.42v3.4M194.14 681.1v3.4M195.85 683.77v3.4M197.57 686.45v3.4M199.28 689.12v3.4M201 691.8v3.4M170.49 637.38v3.4M172.25 640.01v3.4M174.01 642.65v3.4M175.77 645.29v3.4M177.53 647.93v3.4M179.29 650.57v3.4M181.04 653.2v3.4M182.8 655.84v3.4M184.56 658.48v3.4M186.32 661.12v3.4M188.08 663.76v3.4M189.84 666.4v3.4M191.59 669.03v3.4M193.35 671.67v3.4M195.11 674.31v3.4M196.87 676.95v3.4M198.63 679.59v3.4M200.39 682.23v3.4M202.14 684.86v3.4M203.9 687.5v3.4M205.66 690.14v3.4M174.29 636.45v3.4M176.09 639.05v3.4M177.89 641.65v3.4M179.69 644.25v3.4M181.5 646.86v3.4M183.3 649.46v3.4M185.1 652.06v3.4M186.9 654.66v3.4M188.7 657.26v3.4M190.5 659.86v3.4M192.31 662.46v3.4M194.11 665.07v3.4M195.91 667.67v3.4M197.71 670.27v3.4M199.51 672.87v3.4M201.31 675.47v3.4M203.11 678.07v3.4M204.92 680.68v3.4M206.72 683.28v3.4M208.52 685.88v3.4M210.32 688.48v3.4M178.08 635.52v3.4M179.93 638.09v3.4M181.77 640.65v3.4M183.62 643.22v3.4M185.46 645.78v3.4M187.31 648.35v3.4M189.15 650.91v3.4M191 653.48v3.4M192.84 656.04v3.4M194.69 658.61v3.4M196.53 661.17v3.4M198.38 663.74v3.4M200.22 666.3v3.4M202.07 668.87v3.4M203.91 671.43v3.4M205.76 674v3.4M207.6 676.56v3.4M209.45 679.13v3.4M211.29 681.69v3.4M213.14 684.26v3.4M214.98 686.82v3.4M181.88 634.6v3.4M183.77 637.13v3.4M185.66 639.66v3.4M187.54 642.18v3.4M189.43 644.71v3.4M191.32 647.24v3.4M193.21 649.77v3.4M195.1 652.3v3.4M196.98 654.82v3.4M198.87 657.35v3.4M200.76 659.88v3.4M202.65 662.41v3.4M204.54 664.94v3.4M206.42 667.46v3.4M208.31 669.99v3.4M210.2 672.52v3.4M212.09 675.05v3.4M213.98 677.58v3.4M215.86 680.1v3.4M217.75 682.63v3.4M219.64 685.16v3.4M185.67 633.67v3.4M187.61 636.17v3.4M189.54 638.66v3.4M191.47 641.15v3.4M193.4 643.64v3.4M195.33 646.13v3.4M197.26 648.62v3.4M199.19 651.11v3.4M201.12 653.61v3.4M203.06 656.1v3.4M204.99 658.59v3.4M206.92 661.08v3.4M208.85 663.57v3.4M210.78 666.06v3.4M212.71 668.55v3.4M214.64 671.04v3.4M216.58 673.53v3.4M218.51 676.03v3.4M220.44 678.52v3.4M222.37 681.01v3.4M224.3 683.5v3.4M189.47 632.75v3.4M191.44 635.2v3.4M193.42 637.66v3.4M195.39 640.11v3.4M197.37 642.57v3.4M199.34 645.02v3.4M201.32 647.48v3.4M203.29 649.93v3.4M205.27 652.39v3.4M207.24 654.84v3.4M209.22 657.29v3.4M211.19 659.75v3.4M213.16 662.2v3.4M215.14 664.66v3.4M217.11 667.11v3.4M219.09 669.57v3.4M221.06 672.02v3.4M223.04 674.48v3.4M225.01 676.93v3.4M226.99 679.39v3.4M228.96 681.84v3.4M193.26 631.82v3.4M195.28 634.24v3.4M197.3 636.66v3.4M199.32 639.08v3.4M201.34 641.5v3.4M203.35 643.91v3.4M205.37 646.33v3.4M207.39 648.75v3.4M209.41 651.17v3.4M211.42 653.58v3.4M213.44 656v3.4M215.46 658.42v3.4M217.48 660.84v3.4M219.5 663.26v3.4M221.51 665.67v3.4M223.53 668.09v3.4M225.55 670.51v3.4M227.57 672.93v3.4M229.58 675.34v3.4M231.6 677.76v3.4M233.62 680.18v3.4M197.06 630.9v3.4M199.12 633.28v3.4M201.18 635.66v3.4M203.24 638.04v3.4M205.3 640.42v3.4M207.37 642.8v3.4M209.43 645.19v3.4M211.49 647.57v3.4M213.55 649.95v3.4M215.61 652.33v3.4M217.67 654.71v3.4M219.73 657.09v3.4M221.79 659.47v3.4M223.85 661.85v3.4M225.91 664.23v3.4M227.97 666.62v3.4M230.04 669v3.4M232.1 671.38v3.4M234.16 673.76v3.4M236.22 676.14v3.4M238.28 678.52v3.4M200.85 629.97v3.4M202.96 632.32v3.4M205.06 634.66v3.4M207.17 637.01v3.4M209.27 639.35v3.4M211.38 641.7v3.4M213.48 644.04v3.4M215.58 646.38v3.4M217.69 648.73v3.4M219.79 651.07v3.4M221.9 653.42v3.4M224 655.76v3.4M226.11 658.11v3.4M228.21 660.45v3.4M230.31 662.79v3.4M232.42 665.14v3.4M234.52 667.48v3.4M236.63 669.83v3.4M238.73 672.17v3.4M240.84 674.52v3.4M242.94 676.86v3.4M204.65 629.05v3.4M206.8 631.36v3.4M208.94 633.66v3.4M211.09 635.97v3.4M213.24 638.28v3.4M215.39 640.59v3.4M217.53 642.89v3.4M219.68 645.2v3.4M221.83 647.51v3.4M223.98 649.82v3.4M226.12 652.12v3.4M228.27 654.43v3.4M230.42 656.74v3.4M232.57 659.05v3.4M234.71 661.35v3.4M236.86 663.66v3.4M239.01 665.97v3.4M241.16 668.28v3.4M243.31 670.58v3.4M245.45 672.89v3.4M247.6 675.2v3.4M208.44 628.12v3.4M210.64 630.4v3.4M212.83 632.67v3.4M215.02 634.94v3.4M217.21 637.21v3.4M219.4 639.48v3.4M221.59 641.75v3.4M223.78 644.02v3.4M225.97 646.29v3.4M228.16 648.56v3.4M230.35 650.83v3.4M232.54 653.1v3.4M234.73 655.37v3.4M236.92 657.64v3.4M239.12 659.92v3.4M241.31 662.19v3.4M243.5 664.46v3.4M245.69 666.73v3.4M247.88 669v3.4M250.07 671.27v3.4M252.26 673.54v3.4M212.24 627.2v3.4M214.47 629.43v3.4M216.71 631.67v3.4M218.94 633.9v3.4M221.18 636.14v3.4M223.41 638.37v3.4M225.64 640.6v3.4M227.88 642.84v3.4M230.11 645.07v3.4M232.35 647.31v3.4M234.58 649.54v3.4M236.81 651.77v3.4M239.05 654.01v3.4M241.28 656.24v3.4M243.52 658.48v3.4M245.75 660.71v3.4M247.98 662.94v3.4M250.22 665.18v3.4M252.45 667.41v3.4M254.69 669.65v3.4M256.92 671.88v3.4M216.03 626.27v3.4M218.31 628.47v3.4M220.59 630.67v3.4M222.87 632.87v3.4M225.14 635.06v3.4M227.42 637.26v3.4M229.7 639.46v3.4M231.98 641.66v3.4M234.25 643.85v3.4M236.53 646.05v3.4M238.81 648.25v3.4M241.08 650.44v3.4M243.36 652.64v3.4M245.64 654.84v3.4M247.92 657.04v3.4M250.19 659.23v3.4M252.47 661.43v3.4M254.75 663.63v3.4M257.03 665.83v3.4M259.3 668.02v3.4M261.58 670.22v3.4M219.83 625.35v3.4M222.15 627.51v3.4M224.47 629.67v3.4M226.79 631.83v3.4M229.11 633.99v3.4M231.43 636.15v3.4M233.75 638.31v3.4M236.07 640.47v3.4M238.39 642.63v3.4M240.71 644.79v3.4M243.03 646.95v3.4M245.36 649.12v3.4M247.68 651.28v3.4M250 653.44v3.4M252.32 655.6v3.4M254.64 657.76v3.4M256.96 659.92v3.4M259.28 662.08v3.4M261.6 664.24v3.4M263.92 666.4v3.4M266.24 668.56v3.4M223.62 624.42v3.4M225.99 626.55v3.4M228.35 628.67v3.4M230.72 630.8v3.4M233.08 632.92v3.4M235.44 635.04v3.4M237.81 637.17v3.4M240.17 639.29v3.4M242.53 641.41v3.4M244.9 643.54v3.4M247.26 645.66v3.4M249.63 647.79v3.4M251.99 649.91v3.4M254.35 652.03v3.4M256.72 654.16v3.4M259.08 656.28v3.4M261.44 658.4v3.4M263.81 660.53v3.4M266.17 662.65v3.4M268.54 664.78v3.4M270.9 666.9v3.4M227.42 623.5v3.4M229.83 625.59v3.4M232.23 627.67v3.4M234.64 629.76v3.4M237.05 631.85v3.4M239.45 633.93v3.4M241.86 636.02v3.4M244.27 638.11v3.4M246.68 640.2v3.4M249.08 642.28v3.4M251.49 644.37v3.4M253.9 646.46v3.4M256.3 648.54v3.4M258.71 650.63v3.4M261.12 652.72v3.4M263.52 654.8v3.4M265.93 656.89v3.4M268.34 658.98v3.4M270.75 661.07v3.4M273.15 663.15v3.4M275.56 665.24v3.4M231.21 622.57v3.4M233.67 624.63v3.4M236.12 626.68v3.4M238.57 628.73v3.4M241.02 630.78v3.4M243.47 632.83v3.4M245.92 634.88v3.4M248.37 636.93v3.4M250.82 638.98v3.4M253.27 641.03v3.4M255.72 643.08v3.4M258.17 645.13v3.4M260.62 647.18v3.4M263.07 649.23v3.4M265.52 651.28v3.4M267.97 653.33v3.4M270.42 655.38v3.4M272.87 657.43v3.4M275.32 659.48v3.4M277.77 661.53v3.4M280.22 663.58v3.4M235.01 621.65v3.4M237.5 623.66v3.4M240 625.68v3.4M242.49 627.69v3.4M244.98 629.7v3.4M247.48 631.72v3.4M249.97 633.73v3.4M252.46 635.74v3.4M254.96 637.76v3.4M257.45 639.77v3.4M259.94 641.78v3.4M262.44 643.8v3.4M264.93 645.81v3.4M267.43 647.83v3.4M269.92 649.84v3.4M272.41 651.85v3.4M274.91 653.87v3.4M277.4 655.88v3.4M279.89 657.89v3.4M282.39 659.91v3.4M284.88 661.92v3.4M238.81 620.72v3.4M241.34 622.7v3.4M243.88 624.68v3.4M246.42 626.66v3.4M248.95 628.63v3.4M251.49 630.61v3.4M254.03 632.59v3.4M256.56 634.56v3.4M259.1 636.54v3.4M261.64 638.52v3.4M264.17 640.49v3.4M266.71 642.47v3.4M269.25 644.45v3.4M271.78 646.42v3.4M274.32 648.4v3.4M276.86 650.38v3.4M279.39 652.35v3.4M281.93 654.33v3.4M284.47 656.31v3.4M287 658.28v3.4M289.54 660.26v3.4M242.6 619.8v3.4M245.18 621.74v3.4M247.76 623.68v3.4M250.34 625.62v3.4M252.92 627.56v3.4M255.5 629.5v3.4M258.08 631.44v3.4M260.66 633.38v3.4M263.24 635.32v3.4M265.82 637.26v3.4M268.4 639.2v3.4M270.98 641.14v3.4M273.56 643.08v3.4M276.14 645.02v3.4M278.72 646.96v3.4M281.3 648.9v3.4M283.88 650.84v3.4M286.46 652.78v3.4M289.04 654.72v3.4M291.62 656.66v3.4M294.2 658.6v3.4" stroke="#202040" stroke-width="0.6" opacity="0.28"/>
<path d="M166.7 641.5v17M167.92 643.41v17.12M169.15 645.32v17.25M170.38 647.23v17.38M171.6 649.14v17.5M172.82 651.05v17.62M174.05 652.96v17.75M175.27 654.88v17.88M176.5 656.79v18M177.72 658.7v18.12M178.95 660.61v18.25M180.17 662.52v18.38M181.4 664.43v18.5M182.62 666.34v18.62M183.85 668.25v18.75M185.07 670.16v18.88M186.3 672.07v19M187.53 673.98v19.12M188.75 675.89v19.25M189.97 677.8v19.38M191.2 679.71v19.5M192.43 681.62v19.62M193.65 683.54v19.75M194.88 685.45v19.88M196.1 687.36v20M197.32 689.27v20.12M198.55 691.18v20.25M199.78 693.09v20.38M201 695v20.5M201 695v20.5M204.33 693.81v20.41M207.66 692.63v20.32M210.99 691.44v20.23M214.31 690.26v20.14M217.64 689.07v20.05M220.97 687.89v19.96M224.3 686.7v19.88M227.63 685.51v19.79M230.96 684.33v19.7M234.29 683.14v19.61M237.61 681.96v19.52M240.94 680.77v19.43M244.27 679.59v19.34M247.6 678.4v19.25M250.93 677.21v19.16M254.26 676.03v19.07M257.59 674.84v18.98M260.91 673.66v18.89M264.24 672.47v18.8M267.57 671.29v18.71M270.9 670.1v18.62M274.23 668.91v18.54M277.56 667.73v18.45M280.89 666.54v18.36M284.21 665.36v18.27M287.54 664.17v18.18M290.87 662.99v18.09M294.2 661.8v18" stroke="#202040" stroke-width="0.7" opacity="0.3"/>
<path d="M165.6 655L166.7 659L167.8 655ZM167.51 658.17L168.61 662.17L169.71 658.17ZM169.41 661.33L170.51 665.33L171.61 661.33ZM171.32 664.5L172.42 668.5L173.52 664.5ZM173.22 667.67L174.32 671.67L175.42 667.67ZM175.13 670.83L176.23 674.83L177.33 670.83ZM177.03 674L178.13 678L179.23 674ZM178.94 677.17L180.04 681.17L181.14 677.17ZM180.84 680.33L181.94 684.33L183.04 680.33ZM182.75 683.5L183.85 687.5L184.95 683.5ZM184.66 686.67L185.76 690.67L186.86 686.67ZM186.56 689.83L187.66 693.83L188.76 689.83ZM188.47 693L189.57 697L190.67 693ZM190.37 696.17L191.47 700.17L192.57 696.17ZM192.28 699.33L193.38 703.33L194.48 699.33ZM194.18 702.5L195.28 706.5L196.38 702.5ZM196.09 705.67L197.19 709.67L198.29 705.67ZM197.99 708.83L199.09 712.83L200.19 708.83ZM199.9 712L201 716L202.1 712ZM199.9 712L201 716L202.1 712ZM205.08 710.02L206.18 714.02L207.28 710.02ZM210.26 708.03L211.36 712.03L212.46 708.03ZM215.43 706.05L216.53 710.05L217.63 706.05ZM220.61 704.07L221.71 708.07L222.81 704.07ZM225.79 702.08L226.89 706.08L227.99 702.08ZM230.97 700.1L232.07 704.1L233.17 700.1ZM236.14 698.12L237.24 702.12L238.34 698.12ZM241.32 696.13L242.42 700.13L243.52 696.13ZM246.5 694.15L247.6 698.15L248.7 694.15ZM251.68 692.17L252.78 696.17L253.88 692.17ZM256.86 690.18L257.96 694.18L259.06 690.18ZM262.03 688.2L263.13 692.2L264.23 688.2ZM267.21 686.22L268.31 690.22L269.41 686.22ZM272.39 684.23L273.49 688.23L274.59 684.23ZM277.57 682.25L278.67 686.25L279.77 682.25ZM282.74 680.27L283.84 684.27L284.94 680.27ZM287.92 678.28L289.02 682.28L290.12 678.28ZM293.1 676.3L294.2 680.3L295.3 676.3Z" fill="#202040" opacity="0.55"/>
<path d="M166.7 641.5v-3.2M170.92 640.47v-3.2M175.13 639.44v-3.2M179.35 638.42v-3.2M183.57 637.39v-3.2M187.78 636.36v-3.2M192 635.33v-3.2M196.22 634.31v-3.2M200.43 633.28v-3.2M204.65 632.25v-3.2M208.87 631.22v-3.2M213.08 630.19v-3.2M217.3 629.17v-3.2M221.52 628.14v-3.2M225.73 627.11v-3.2M229.95 626.08v-3.2M234.17 625.06v-3.2M238.38 624.03v-3.2M242.6 623v-3.2M242.6 623v-3.2M245.47 625.16v-3.2M248.33 627.31v-3.2M251.2 629.47v-3.2M254.07 631.62v-3.2M256.93 633.78v-3.2M259.8 635.93v-3.2M262.67 638.09v-3.2M265.53 640.24v-3.2M268.4 642.4v-3.2M271.27 644.56v-3.2M274.13 646.71v-3.2M277 648.87v-3.2M279.87 651.02v-3.2M282.73 653.18v-3.2M285.6 655.33v-3.2M288.47 657.49v-3.2M291.33 659.64v-3.2M294.2 661.8v-3.2" stroke="#202040" stroke-width="0.7" opacity="0.3"/>
<path d="M328.3 644L394 690.5L394 710L328.3 667.5Z" fill="url(#x2s1)"/>
<path d="M394 690.5L465.7 646L465.7 665.5L394 710Z" fill="url(#x2s2)"/>
<path d="M328.3 645.5L364 632.5Q380.46 641.81 396.93 651.12Q379.04 659.94 361.15 668.75Z" fill="url(#x2gL)" stroke="url(#x2gL)" stroke-width="0.6"/>
<path d="M399.7 619.5L432.7 633.5Q414.81 642.31 396.93 651.12Q380.46 641.81 364 632.5Z" fill="url(#x2gB)" stroke="url(#x2gB)" stroke-width="0.6"/>
<path d="M465.7 647.5L429.85 669.75Q413.39 660.44 396.93 651.12Q414.81 642.31 432.7 633.5Z" fill="url(#x2gR)" stroke="url(#x2gR)" stroke-width="0.6"/>
<path d="M394 692L361.15 668.75Q379.04 659.94 396.93 651.12Q413.39 660.44 429.85 669.75Z" fill="url(#x2gF)" stroke="url(#x2gF)" stroke-width="0.6"/>
<g clip-path="url(#x2clip)"><g filter="url(#soft)">
<path d="M328.3 645.5L364 632.5Q380.46 641.81 396.93 651.12Q379.04 659.94 361.15 668.75Z" fill="url(#x2gL)"/>
<path d="M399.7 619.5L432.7 633.5Q414.81 642.31 396.93 651.12Q380.46 641.81 364 632.5Z" fill="url(#x2gB)"/>
<path d="M465.7 647.5L429.85 669.75Q413.39 660.44 396.93 651.12Q414.81 642.31 432.7 633.5Z" fill="url(#x2gR)"/>
<path d="M394 692L361.15 668.75Q379.04 659.94 396.93 651.12Q413.39 660.44 429.85 669.75Z" fill="url(#x2gF)"/>
</g></g>
<path d="M328.3 643.3v3.4M331.59 645.62v3.4M334.87 647.95v3.4M338.16 650.27v3.4M341.44 652.6v3.4M344.73 654.92v3.4M348.01 657.25v3.4M351.3 659.57v3.4M354.58 661.9v3.4M357.87 664.22v3.4M361.15 666.55v3.4M364.44 668.88v3.4M367.72 671.2v3.4M371 673.52v3.4M374.29 675.85v3.4M377.57 678.17v3.4M380.86 680.5v3.4M384.14 682.82v3.4M387.43 685.15v3.4M390.71 687.47v3.4M394 689.8v3.4M331.87 642v3.4M335.16 644.28v3.4M338.44 646.56v3.4M341.73 648.84v3.4M345.01 651.12v3.4M348.3 653.39v3.4M351.58 655.67v3.4M354.87 657.95v3.4M358.16 660.23v3.4M361.44 662.51v3.4M364.73 664.79v3.4M368.01 667.07v3.4M371.3 669.34v3.4M374.58 671.62v3.4M377.87 673.9v3.4M381.16 676.18v3.4M384.44 678.46v3.4M387.73 680.74v3.4M391.01 683.02v3.4M394.3 685.3v3.4M397.58 687.57v3.4M335.44 640.7v3.4M338.73 642.93v3.4M342.01 645.16v3.4M345.3 647.4v3.4M348.59 649.63v3.4M351.87 651.86v3.4M355.16 654.09v3.4M358.45 656.33v3.4M361.73 658.56v3.4M365.02 660.79v3.4M368.31 663.02v3.4M371.59 665.26v3.4M374.88 667.49v3.4M378.16 669.72v3.4M381.45 671.95v3.4M384.74 674.19v3.4M388.02 676.42v3.4M391.31 678.65v3.4M394.6 680.88v3.4M397.88 683.12v3.4M401.17 685.35v3.4M339.01 639.4v3.4M342.3 641.59v3.4M345.58 643.77v3.4M348.87 645.96v3.4M352.16 648.14v3.4M355.45 650.33v3.4M358.73 652.52v3.4M362.02 654.7v3.4M365.31 656.89v3.4M368.6 659.08v3.4M371.88 661.26v3.4M375.17 663.45v3.4M378.46 665.63v3.4M381.74 667.82v3.4M385.03 670.01v3.4M388.32 672.19v3.4M391.61 674.38v3.4M394.89 676.57v3.4M398.18 678.75v3.4M401.47 680.94v3.4M404.75 683.12v3.4M342.58 638.1v3.4M345.87 640.24v3.4M349.16 642.38v3.4M352.44 644.52v3.4M355.73 646.66v3.4M359.02 648.8v3.4M362.31 650.94v3.4M365.6 653.08v3.4M368.88 655.22v3.4M372.17 657.36v3.4M375.46 659.5v3.4M378.75 661.64v3.4M382.04 663.78v3.4M385.32 665.92v3.4M388.61 668.06v3.4M391.9 670.2v3.4M395.19 672.34v3.4M398.48 674.48v3.4M401.76 676.62v3.4M405.05 678.76v3.4M408.34 680.9v3.4M346.15 636.8v3.4M349.44 638.89v3.4M352.73 640.99v3.4M356.02 643.08v3.4M359.31 645.17v3.4M362.59 647.27v3.4M365.88 649.36v3.4M369.17 651.46v3.4M372.46 653.55v3.4M375.75 655.64v3.4M379.04 657.74v3.4M382.33 659.83v3.4M385.62 661.92v3.4M388.9 664.02v3.4M392.19 666.11v3.4M395.48 668.21v3.4M398.77 670.3v3.4M402.06 672.39v3.4M405.35 674.49v3.4M408.64 676.58v3.4M411.93 678.67v3.4M349.72 635.5v3.4M353.01 637.55v3.4M356.3 639.6v3.4M359.59 641.64v3.4M362.88 643.69v3.4M366.17 645.74v3.4M369.46 647.78v3.4M372.75 649.83v3.4M376.04 651.88v3.4M379.33 653.93v3.4M382.62 655.97v3.4M385.9 658.02v3.4M389.19 660.07v3.4M392.48 662.12v3.4M395.77 664.16v3.4M399.06 666.21v3.4M402.35 668.26v3.4M405.64 670.31v3.4M408.93 672.35v3.4M412.22 674.4v3.4M415.51 676.45v3.4M353.29 634.2v3.4M356.58 636.2v3.4M359.87 638.2v3.4M363.16 640.2v3.4M366.45 642.2v3.4M369.74 644.21v3.4M373.03 646.21v3.4M376.32 648.21v3.4M379.61 650.21v3.4M382.9 652.21v3.4M386.19 654.21v3.4M389.48 656.21v3.4M392.77 658.21v3.4M396.06 660.22v3.4M399.35 662.22v3.4M402.64 664.22v3.4M405.93 666.22v3.4M409.22 668.22v3.4M412.51 670.22v3.4M415.8 672.22v3.4M419.09 674.22v3.4M356.86 632.9v3.4M360.15 634.86v3.4M363.44 636.81v3.4M366.73 638.76v3.4M370.02 640.72v3.4M373.31 642.67v3.4M376.61 644.63v3.4M379.9 646.59v3.4M383.19 648.54v3.4M386.48 650.5v3.4M389.77 652.45v3.4M393.06 654.4v3.4M396.35 656.36v3.4M399.64 658.31v3.4M402.93 660.27v3.4M406.23 662.23v3.4M409.52 664.18v3.4M412.81 666.13v3.4M416.1 668.09v3.4M419.39 670.04v3.4M422.68 672v3.4M360.43 631.6v3.4M363.72 633.51v3.4M367.01 635.42v3.4M370.31 637.33v3.4M373.6 639.23v3.4M376.89 641.14v3.4M380.18 643.05v3.4M383.47 644.96v3.4M386.76 646.87v3.4M390.06 648.78v3.4M393.35 650.69v3.4M396.64 652.6v3.4M399.93 654.5v3.4M403.22 656.41v3.4M406.51 658.32v3.4M409.81 660.23v3.4M413.1 662.14v3.4M416.39 664.05v3.4M419.68 665.96v3.4M422.97 667.87v3.4M426.26 669.77v3.4M364 630.3v3.4M367.29 632.16v3.4M370.58 634.02v3.4M373.88 635.89v3.4M377.17 637.75v3.4M380.46 639.61v3.4M383.75 641.47v3.4M387.05 643.34v3.4M390.34 645.2v3.4M393.63 647.06v3.4M396.93 648.92v3.4M400.22 650.79v3.4M403.51 652.65v3.4M406.8 654.51v3.4M410.1 656.38v3.4M413.39 658.24v3.4M416.68 660.1v3.4M419.97 661.96v3.4M423.27 663.82v3.4M426.56 665.69v3.4M429.85 667.55v3.4M367.57 629v3.4M370.86 630.82v3.4M374.16 632.63v3.4M377.45 634.45v3.4M380.74 636.26v3.4M384.04 638.08v3.4M387.33 639.9v3.4M390.62 641.71v3.4M393.92 643.53v3.4M397.21 645.35v3.4M400.5 647.16v3.4M403.8 648.98v3.4M407.09 650.79v3.4M410.38 652.61v3.4M413.68 654.43v3.4M416.97 656.24v3.4M420.26 658.06v3.4M423.56 659.88v3.4M426.85 661.69v3.4M430.14 663.51v3.4M433.44 665.32v3.4M371.14 627.7v3.4M374.43 629.47v3.4M377.73 631.24v3.4M381.02 633.01v3.4M384.32 634.78v3.4M387.61 636.55v3.4M390.9 638.32v3.4M394.2 640.09v3.4M397.49 641.86v3.4M400.79 643.63v3.4M404.08 645.4v3.4M407.37 647.17v3.4M410.67 648.94v3.4M413.96 650.71v3.4M417.26 652.48v3.4M420.55 654.25v3.4M423.84 656.02v3.4M427.14 657.79v3.4M430.43 659.56v3.4M433.73 661.33v3.4M437.02 663.1v3.4M374.71 626.4v3.4M378 628.12v3.4M381.3 629.85v3.4M384.59 631.57v3.4M387.89 633.29v3.4M391.18 635.02v3.4M394.48 636.74v3.4M397.77 638.47v3.4M401.07 640.19v3.4M404.36 641.91v3.4M407.66 643.64v3.4M410.95 645.36v3.4M414.25 647.09v3.4M417.54 648.81v3.4M420.84 650.53v3.4M424.13 652.26v3.4M427.43 653.98v3.4M430.72 655.7v3.4M434.02 657.43v3.4M437.31 659.15v3.4M440.61 660.88v3.4M378.28 625.1v3.4M381.58 626.78v3.4M384.87 628.45v3.4M388.17 630.13v3.4M391.46 631.81v3.4M394.76 633.49v3.4M398.05 635.16v3.4M401.35 636.84v3.4M404.64 638.52v3.4M407.94 640.2v3.4M411.24 641.88v3.4M414.53 643.55v3.4M417.83 645.23v3.4M421.12 646.91v3.4M424.42 648.58v3.4M427.71 650.26v3.4M431.01 651.94v3.4M434.3 653.62v3.4M437.6 655.29v3.4M440.89 656.97v3.4M444.19 658.65v3.4M381.85 623.8v3.4M385.15 625.43v3.4M388.44 627.06v3.4M391.74 628.69v3.4M395.04 630.32v3.4M398.33 631.96v3.4M401.63 633.59v3.4M404.92 635.22v3.4M408.22 636.85v3.4M411.52 638.48v3.4M414.81 640.11v3.4M418.11 641.74v3.4M421.4 643.38v3.4M424.7 645.01v3.4M428 646.64v3.4M431.29 648.27v3.4M434.59 649.9v3.4M437.89 651.53v3.4M441.18 653.16v3.4M444.48 654.79v3.4M447.77 656.42v3.4M385.42 622.5v3.4M388.72 624.09v3.4M392.01 625.67v3.4M395.31 627.25v3.4M398.61 628.84v3.4M401.91 630.42v3.4M405.2 632.01v3.4M408.5 633.6v3.4M411.8 635.18v3.4M415.09 636.76v3.4M418.39 638.35v3.4M421.69 639.93v3.4M424.98 641.52v3.4M428.28 643.1v3.4M431.58 644.69v3.4M434.88 646.27v3.4M438.17 647.86v3.4M441.47 649.44v3.4M444.77 651.03v3.4M448.06 652.61v3.4M451.36 654.2v3.4M388.99 621.2v3.4M392.29 622.74v3.4M395.59 624.28v3.4M398.88 625.82v3.4M402.18 627.35v3.4M405.48 628.89v3.4M408.78 630.43v3.4M412.07 631.97v3.4M415.37 633.51v3.4M418.67 635.05v3.4M421.97 636.59v3.4M425.27 638.13v3.4M428.56 639.66v3.4M431.86 641.2v3.4M435.16 642.74v3.4M438.46 644.28v3.4M441.75 645.82v3.4M445.05 647.36v3.4M448.35 648.9v3.4M451.65 650.44v3.4M454.94 651.97v3.4M392.56 619.9v3.4M395.86 621.39v3.4M399.16 622.88v3.4M402.46 624.38v3.4M405.75 625.87v3.4M409.05 627.36v3.4M412.35 628.86v3.4M415.65 630.35v3.4M418.95 631.84v3.4M422.25 633.33v3.4M425.54 634.83v3.4M428.84 636.32v3.4M432.14 637.81v3.4M435.44 639.3v3.4M438.74 640.79v3.4M442.04 642.29v3.4M445.34 643.78v3.4M448.63 645.27v3.4M451.93 646.76v3.4M455.23 648.26v3.4M458.53 649.75v3.4M396.13 618.6v3.4M399.43 620.05v3.4M402.73 621.49v3.4M406.03 622.94v3.4M409.33 624.38v3.4M412.63 625.83v3.4M415.93 627.28v3.4M419.22 628.72v3.4M422.52 630.17v3.4M425.82 631.62v3.4M429.12 633.06v3.4M432.42 634.51v3.4M435.72 635.95v3.4M439.02 637.4v3.4M442.32 638.85v3.4M445.62 640.29v3.4M448.92 641.74v3.4M452.22 643.19v3.4M455.52 644.63v3.4M458.82 646.08v3.4M462.12 647.52v3.4M399.7 617.3v3.4M403 618.7v3.4M406.3 620.1v3.4M409.6 621.5v3.4M412.9 622.9v3.4M416.2 624.3v3.4M419.5 625.7v3.4M422.8 627.1v3.4M426.1 628.5v3.4M429.4 629.9v3.4M432.7 631.3v3.4M436 632.7v3.4M439.3 634.1v3.4M442.6 635.5v3.4M445.9 636.9v3.4M449.2 638.3v3.4M452.5 639.7v3.4M455.8 641.1v3.4M459.1 642.5v3.4M462.4 643.9v3.4M465.7 645.3v3.4" stroke="#181830" stroke-width="0.6" opacity="0.28"/>
<path d="M328.3 646.5v23.5M330.65 648.16v23.36M332.99 649.82v23.21M335.34 651.48v23.07M337.69 653.14v22.93M340.03 654.8v22.79M342.38 656.46v22.64M344.73 658.12v22.5M347.07 659.79v22.36M349.42 661.45v22.21M351.76 663.11v22.07M354.11 664.77v21.93M356.46 666.43v21.79M358.8 668.09v21.64M361.15 669.75v21.5M363.5 671.41v21.36M365.84 673.07v21.21M368.19 674.73v21.07M370.54 676.39v20.93M372.88 678.05v20.79M375.23 679.71v20.64M377.57 681.38v20.5M379.92 683.04v20.36M382.27 684.7v20.21M384.61 686.36v20.07M386.96 688.02v19.93M389.31 689.68v19.79M391.65 691.34v19.64M394 693v19.5M394 693v19.5M396.56 691.41v19.5M399.12 689.82v19.5M401.68 688.23v19.5M404.24 686.64v19.5M406.8 685.05v19.5M409.36 683.46v19.5M411.93 681.88v19.5M414.49 680.29v19.5M417.05 678.7v19.5M419.61 677.11v19.5M422.17 675.52v19.5M424.73 673.93v19.5M427.29 672.34v19.5M429.85 670.75v19.5M432.41 669.16v19.5M434.97 667.57v19.5M437.53 665.98v19.5M440.09 664.39v19.5M442.65 662.8v19.5M445.21 661.21v19.5M447.77 659.62v19.5M450.34 658.04v19.5M452.9 656.45v19.5M455.46 654.86v19.5M458.02 653.27v19.5M460.58 651.68v19.5M463.14 650.09v19.5M465.7 648.5v19.5" stroke="#181830" stroke-width="0.7" opacity="0.3"/>
<path d="M327.2 666.5L328.3 670.5L329.4 666.5ZM330.85 668.86L331.95 672.86L333.05 668.86ZM334.5 671.22L335.6 675.22L336.7 671.22ZM338.15 673.58L339.25 677.58L340.35 673.58ZM341.8 675.94L342.9 679.94L344 675.94ZM345.45 678.31L346.55 682.31L347.65 678.31ZM349.1 680.67L350.2 684.67L351.3 680.67ZM352.75 683.03L353.85 687.03L354.95 683.03ZM356.4 685.39L357.5 689.39L358.6 685.39ZM360.05 687.75L361.15 691.75L362.25 687.75ZM363.7 690.11L364.8 694.11L365.9 690.11ZM367.35 692.47L368.45 696.47L369.55 692.47ZM371 694.83L372.1 698.83L373.2 694.83ZM374.65 697.19L375.75 701.19L376.85 697.19ZM378.3 699.56L379.4 703.56L380.5 699.56ZM381.95 701.92L383.05 705.92L384.15 701.92ZM385.6 704.28L386.7 708.28L387.8 704.28ZM389.25 706.64L390.35 710.64L391.45 706.64ZM392.9 709L394 713L395.1 709ZM392.9 709L394 713L395.1 709ZM396.88 706.53L397.98 710.53L399.08 706.53ZM400.87 704.06L401.97 708.06L403.07 704.06ZM404.85 701.58L405.95 705.58L407.05 701.58ZM408.83 699.11L409.93 703.11L411.03 699.11ZM412.82 696.64L413.92 700.64L415.02 696.64ZM416.8 694.17L417.9 698.17L419 694.17ZM420.78 691.69L421.88 695.69L422.98 691.69ZM424.77 689.22L425.87 693.22L426.97 689.22ZM428.75 686.75L429.85 690.75L430.95 686.75ZM432.73 684.28L433.83 688.28L434.93 684.28ZM436.72 681.81L437.82 685.81L438.92 681.81ZM440.7 679.33L441.8 683.33L442.9 679.33ZM444.68 676.86L445.78 680.86L446.88 676.86ZM448.67 674.39L449.77 678.39L450.87 674.39ZM452.65 671.92L453.75 675.92L454.85 671.92ZM456.63 669.44L457.73 673.44L458.83 669.44ZM460.62 666.97L461.72 670.97L462.82 666.97ZM464.6 664.5L465.7 668.5L466.8 664.5Z" fill="#181830" opacity="0.55"/>
<path d="M328.3 646.5v-3.2M332.27 645.06v-3.2M336.23 643.61v-3.2M340.2 642.17v-3.2M344.17 640.72v-3.2M348.13 639.28v-3.2M352.1 637.83v-3.2M356.07 636.39v-3.2M360.03 634.94v-3.2M364 633.5v-3.2M367.97 632.06v-3.2M371.93 630.61v-3.2M375.9 629.17v-3.2M379.87 627.72v-3.2M383.83 626.28v-3.2M387.8 624.83v-3.2M391.77 623.39v-3.2M395.73 621.94v-3.2M399.7 620.5v-3.2M399.7 620.5v-3.2M403.37 622.06v-3.2M407.03 623.61v-3.2M410.7 625.17v-3.2M414.37 626.72v-3.2M418.03 628.28v-3.2M421.7 629.83v-3.2M425.37 631.39v-3.2M429.03 632.94v-3.2M432.7 634.5v-3.2M436.37 636.06v-3.2M440.03 637.61v-3.2M443.7 639.17v-3.2M447.37 640.72v-3.2M451.03 642.28v-3.2M454.7 643.83v-3.2M458.37 645.39v-3.2M462.03 646.94v-3.2M465.7 648.5v-3.2" stroke="#181830" stroke-width="0.7" opacity="0.3"/>
<path d="M496.3 643L550 699.5L550 713L496.3 660.5Z" fill="url(#x3s1)"/>
<path d="M550 699.5L625.6 655.5L625.6 669L550 713Z" fill="url(#x3s2)"/>
<path d="M496.3 644.5L532.9 632.75Q546.62 644.31 560.35 655.88Q541.75 664.31 523.15 672.75Z" fill="url(#x3gL)" stroke="url(#x3gL)" stroke-width="0.6"/>
<path d="M569.5 621L597.55 639Q578.95 647.44 560.35 655.88Q546.62 644.31 532.9 632.75Z" fill="url(#x3gB)" stroke="url(#x3gB)" stroke-width="0.6"/>
<path d="M625.6 657L587.8 679Q574.08 667.44 560.35 655.88Q578.95 647.44 597.55 639Z" fill="url(#x3gR)" stroke="url(#x3gR)" stroke-width="0.6"/>
<path d="M550 701L523.15 672.75Q541.75 664.31 560.35 655.88Q574.08 667.44 587.8 679Z" fill="url(#x3gF)" stroke="url(#x3gF)" stroke-width="0.6"/>
<g clip-path="url(#x3clip)"><g filter="url(#soft)">
<path d="M496.3 644.5L532.9 632.75Q546.62 644.31 560.35 655.88Q541.75 664.31 523.15 672.75Z" fill="url(#x3gL)"/>
<path d="M569.5 621L597.55 639Q578.95 647.44 560.35 655.88Q546.62 644.31 532.9 632.75Z" fill="url(#x3gB)"/>
<path d="M625.6 657L587.8 679Q574.08 667.44 560.35 655.88Q578.95 647.44 597.55 639Z" fill="url(#x3gR)"/>
<path d="M550 701L523.15 672.75Q541.75 664.31 560.35 655.88Q574.08 667.44 587.8 679Z" fill="url(#x3gF)"/>
</g></g>
<path d="M496.3 642.3v3.4M498.99 645.12v3.4M501.67 647.95v3.4M504.36 650.77v3.4M507.04 653.6v3.4M509.73 656.42v3.4M512.41 659.25v3.4M515.1 662.07v3.4M517.78 664.9v3.4M520.47 667.72v3.4M523.15 670.55v3.4M525.84 673.38v3.4M528.52 676.2v3.4M531.21 679.02v3.4M533.89 681.85v3.4M536.58 684.67v3.4M539.26 687.5v3.4M541.95 690.32v3.4M544.63 693.15v3.4M547.32 695.97v3.4M550 698.8v3.4M499.96 641.12v3.4M502.65 643.9v3.4M505.34 646.67v3.4M508.03 649.45v3.4M510.72 652.22v3.4M513.41 654.99v3.4M516.11 657.77v3.4M518.8 660.54v3.4M521.49 663.31v3.4M524.18 666.09v3.4M526.87 668.86v3.4M529.56 671.64v3.4M532.25 674.41v3.4M534.94 677.18v3.4M537.63 679.96v3.4M540.33 682.73v3.4M543.02 685.5v3.4M545.71 688.28v3.4M548.4 691.05v3.4M551.09 693.83v3.4M553.78 696.6v3.4M503.62 639.95v3.4M506.32 642.67v3.4M509.01 645.39v3.4M511.71 648.12v3.4M514.41 650.84v3.4M517.11 653.56v3.4M519.8 656.28v3.4M522.5 659.01v3.4M525.2 661.73v3.4M527.89 664.45v3.4M530.59 667.17v3.4M533.29 669.9v3.4M535.98 672.62v3.4M538.68 675.34v3.4M541.38 678.06v3.4M544.07 680.79v3.4M546.77 683.51v3.4M549.47 686.23v3.4M552.17 688.95v3.4M554.86 691.68v3.4M557.56 694.4v3.4M507.28 638.77v3.4M509.98 641.45v3.4M512.69 644.12v3.4M515.39 646.79v3.4M518.09 649.46v3.4M520.8 652.13v3.4M523.5 654.8v3.4M526.2 657.47v3.4M528.9 660.14v3.4M531.61 662.82v3.4M534.31 665.49v3.4M537.01 668.16v3.4M539.72 670.83v3.4M542.42 673.5v3.4M545.12 676.17v3.4M547.83 678.84v3.4M550.53 681.51v3.4M553.23 684.19v3.4M555.93 686.86v3.4M558.64 689.53v3.4M561.34 692.2v3.4M510.94 637.6v3.4M513.65 640.22v3.4M516.36 642.84v3.4M519.07 645.46v3.4M521.78 648.08v3.4M524.49 650.7v3.4M527.19 653.32v3.4M529.9 655.94v3.4M532.61 658.56v3.4M535.32 661.18v3.4M538.03 663.8v3.4M540.74 666.42v3.4M543.45 669.04v3.4M546.16 671.66v3.4M548.87 674.28v3.4M551.58 676.9v3.4M554.28 679.52v3.4M556.99 682.14v3.4M559.7 684.76v3.4M562.41 687.38v3.4M565.12 690v3.4M514.6 636.42v3.4M517.32 638.99v3.4M520.03 641.56v3.4M522.75 644.13v3.4M525.46 646.7v3.4M528.17 649.27v3.4M530.89 651.84v3.4M533.61 654.41v3.4M536.32 656.97v3.4M539.03 659.54v3.4M541.75 662.11v3.4M544.47 664.68v3.4M547.18 667.25v3.4M549.89 669.82v3.4M552.61 672.39v3.4M555.33 674.96v3.4M558.04 677.52v3.4M560.75 680.09v3.4M563.47 682.66v3.4M566.18 685.23v3.4M568.9 687.8v3.4M518.26 635.25v3.4M520.98 637.77v3.4M523.7 640.28v3.4M526.42 642.8v3.4M529.14 645.32v3.4M531.87 647.84v3.4M534.59 650.36v3.4M537.31 652.87v3.4M540.03 655.39v3.4M542.75 657.91v3.4M545.47 660.42v3.4M548.19 662.94v3.4M550.91 665.46v3.4M553.63 667.98v3.4M556.35 670.49v3.4M559.08 673.01v3.4M561.8 675.53v3.4M564.52 678.05v3.4M567.24 680.56v3.4M569.96 683.08v3.4M572.68 685.6v3.4M521.92 634.07v3.4M524.65 636.54v3.4M527.37 639.01v3.4M530.1 641.47v3.4M532.83 643.94v3.4M535.55 646.41v3.4M538.28 648.87v3.4M541.01 651.34v3.4M543.74 653.8v3.4M546.46 656.27v3.4M549.19 658.74v3.4M551.92 661.2v3.4M554.64 663.67v3.4M557.37 666.14v3.4M560.1 668.6v3.4M562.83 671.07v3.4M565.55 673.53v3.4M568.28 676v3.4M571.01 678.47v3.4M573.73 680.93v3.4M576.46 683.4v3.4M525.58 632.9v3.4M528.31 635.31v3.4M531.05 637.73v3.4M533.78 640.14v3.4M536.51 642.56v3.4M539.25 644.97v3.4M541.98 647.39v3.4M544.71 649.8v3.4M547.44 652.22v3.4M550.18 654.63v3.4M552.91 657.05v3.4M555.64 659.46v3.4M558.38 661.88v3.4M561.11 664.29v3.4M563.84 666.71v3.4M566.58 669.12v3.4M569.31 671.54v3.4M572.04 673.95v3.4M574.77 676.37v3.4M577.51 678.78v3.4M580.24 681.2v3.4M529.24 631.72v3.4M531.98 634.09v3.4M534.72 636.45v3.4M537.46 638.82v3.4M540.2 641.18v3.4M542.93 643.54v3.4M545.67 645.91v3.4M548.41 648.27v3.4M551.15 650.63v3.4M553.89 653v3.4M556.63 655.36v3.4M559.37 657.73v3.4M562.11 660.09v3.4M564.85 662.45v3.4M567.59 664.82v3.4M570.33 667.18v3.4M573.06 669.54v3.4M575.8 671.91v3.4M578.54 674.27v3.4M581.28 676.64v3.4M584.02 679v3.4M532.9 630.55v3.4M535.64 632.86v3.4M538.39 635.17v3.4M541.13 637.49v3.4M543.88 639.8v3.4M546.62 642.11v3.4M549.37 644.42v3.4M552.12 646.74v3.4M554.86 649.05v3.4M557.61 651.36v3.4M560.35 653.67v3.4M563.09 655.99v3.4M565.84 658.3v3.4M568.58 660.61v3.4M571.33 662.92v3.4M574.07 665.24v3.4M576.82 667.55v3.4M579.56 669.86v3.4M582.31 672.17v3.4M585.05 674.49v3.4M587.8 676.8v3.4M536.56 629.38v3.4M539.31 631.64v3.4M542.06 633.9v3.4M544.81 636.16v3.4M547.56 638.42v3.4M550.32 640.68v3.4M553.07 642.94v3.4M555.82 645.2v3.4M558.57 647.46v3.4M561.32 649.73v3.4M564.07 651.99v3.4M566.82 654.25v3.4M569.57 656.51v3.4M572.32 658.77v3.4M575.07 661.03v3.4M577.83 663.29v3.4M580.58 665.55v3.4M583.33 667.82v3.4M586.08 670.08v3.4M588.83 672.34v3.4M591.58 674.6v3.4M540.22 628.2v3.4M542.98 630.41v3.4M545.73 632.62v3.4M548.49 634.83v3.4M551.25 637.04v3.4M554 639.25v3.4M556.76 641.46v3.4M559.52 643.67v3.4M562.28 645.88v3.4M565.03 648.09v3.4M567.79 650.3v3.4M570.55 652.51v3.4M573.3 654.72v3.4M576.06 656.93v3.4M578.82 659.14v3.4M581.58 661.35v3.4M584.33 663.56v3.4M587.09 665.77v3.4M589.85 667.98v3.4M592.6 670.19v3.4M595.36 672.4v3.4M543.88 627.02v3.4M546.64 629.18v3.4M549.41 631.34v3.4M552.17 633.5v3.4M554.93 635.66v3.4M557.69 637.82v3.4M560.46 639.98v3.4M563.22 642.14v3.4M565.98 644.29v3.4M568.75 646.45v3.4M571.51 648.61v3.4M574.27 650.77v3.4M577.04 652.93v3.4M579.8 655.09v3.4M582.56 657.25v3.4M585.33 659.41v3.4M588.09 661.56v3.4M590.85 663.72v3.4M593.61 665.88v3.4M596.38 668.04v3.4M599.14 670.2v3.4M547.54 625.85v3.4M550.31 627.96v3.4M553.08 630.06v3.4M555.85 632.17v3.4M558.62 634.28v3.4M561.38 636.39v3.4M564.15 638.49v3.4M566.92 640.6v3.4M569.69 642.71v3.4M572.46 644.82v3.4M575.23 646.92v3.4M578 649.03v3.4M580.77 651.14v3.4M583.54 653.25v3.4M586.31 655.36v3.4M589.08 657.46v3.4M591.84 659.57v3.4M594.61 661.68v3.4M597.38 663.78v3.4M600.15 665.89v3.4M602.92 668v3.4M551.2 624.67v3.4M553.98 626.73v3.4M556.75 628.79v3.4M559.53 630.84v3.4M562.3 632.9v3.4M565.08 634.96v3.4M567.85 637.01v3.4M570.62 639.07v3.4M573.4 641.12v3.4M576.18 643.18v3.4M578.95 645.24v3.4M581.73 647.29v3.4M584.5 649.35v3.4M587.28 651.41v3.4M590.05 653.46v3.4M592.83 655.52v3.4M595.6 657.57v3.4M598.38 659.63v3.4M601.15 661.69v3.4M603.93 663.74v3.4M606.7 665.8v3.4M554.86 623.5v3.4M557.64 625.5v3.4M560.42 627.51v3.4M563.2 629.51v3.4M565.98 631.52v3.4M568.76 633.52v3.4M571.55 635.53v3.4M574.33 637.53v3.4M577.11 639.54v3.4M579.89 641.54v3.4M582.67 643.55v3.4M585.45 645.55v3.4M588.23 647.56v3.4M591.01 649.56v3.4M593.79 651.57v3.4M596.58 653.57v3.4M599.36 655.58v3.4M602.14 657.58v3.4M604.92 659.59v3.4M607.7 661.59v3.4M610.48 663.6v3.4M558.52 622.32v3.4M561.31 624.28v3.4M564.09 626.23v3.4M566.88 628.19v3.4M569.67 630.14v3.4M572.45 632.09v3.4M575.24 634.05v3.4M578.03 636v3.4M580.82 637.95v3.4M583.6 639.91v3.4M586.39 641.86v3.4M589.18 643.82v3.4M591.96 645.77v3.4M594.75 647.72v3.4M597.54 649.68v3.4M600.33 651.63v3.4M603.11 653.58v3.4M605.9 655.54v3.4M608.69 657.49v3.4M611.47 659.45v3.4M614.26 661.4v3.4M562.18 621.15v3.4M564.97 623.05v3.4M567.77 624.95v3.4M570.56 626.86v3.4M573.35 628.76v3.4M576.14 630.66v3.4M578.94 632.56v3.4M581.73 634.47v3.4M584.52 636.37v3.4M587.32 638.27v3.4M590.11 640.17v3.4M592.9 642.08v3.4M595.7 643.98v3.4M598.49 645.88v3.4M601.28 647.78v3.4M604.08 649.69v3.4M606.87 651.59v3.4M609.66 653.49v3.4M612.45 655.39v3.4M615.25 657.3v3.4M618.04 659.2v3.4M565.84 619.97v3.4M568.64 621.83v3.4M571.44 623.68v3.4M574.24 625.53v3.4M577.04 627.38v3.4M579.84 629.23v3.4M582.63 631.08v3.4M585.43 632.93v3.4M588.23 634.78v3.4M591.03 636.64v3.4M593.83 638.49v3.4M596.63 640.34v3.4M599.43 642.19v3.4M602.23 644.04v3.4M605.03 645.89v3.4M607.83 647.74v3.4M610.62 649.6v3.4M613.42 651.45v3.4M616.22 653.3v3.4M619.02 655.15v3.4M621.82 657v3.4M569.5 618.8v3.4M572.3 620.6v3.4M575.11 622.4v3.4M577.91 624.2v3.4M580.72 626v3.4M583.52 627.8v3.4M586.33 629.6v3.4M589.13 631.4v3.4M591.94 633.2v3.4M594.75 635v3.4M597.55 636.8v3.4M600.36 638.6v3.4M603.16 640.4v3.4M605.97 642.2v3.4M608.77 644v3.4M611.58 645.8v3.4M614.38 647.6v3.4M617.19 649.4v3.4M619.99 651.2v3.4M622.8 653v3.4M625.6 654.8v3.4" stroke="#181830" stroke-width="0.6" opacity="0.28"/>
<path d="M496.3 645.5v17.5M498.22 647.52v17.36M500.14 649.54v17.21M502.05 651.55v17.07M503.97 653.57v16.93M505.89 655.59v16.79M507.81 657.61v16.64M509.73 659.62v16.5M511.64 661.64v16.36M513.56 663.66v16.21M515.48 665.68v16.07M517.4 667.7v15.93M519.31 669.71v15.79M521.23 671.73v15.64M523.15 673.75v15.5M525.07 675.77v15.36M526.99 677.79v15.21M528.9 679.8v15.07M530.82 681.82v14.93M532.74 683.84v14.79M534.66 685.86v14.64M536.58 687.88v14.5M538.49 689.89v14.36M540.41 691.91v14.21M542.33 693.93v14.07M544.25 695.95v13.93M546.16 697.96v13.79M548.08 699.98v13.64M550 702v13.5M550 702v13.5M552.7 700.43v13.5M555.4 698.86v13.5M558.1 697.29v13.5M560.8 695.71v13.5M563.5 694.14v13.5M566.2 692.57v13.5M568.9 691v13.5M571.6 689.43v13.5M574.3 687.86v13.5M577 686.29v13.5M579.7 684.71v13.5M582.4 683.14v13.5M585.1 681.57v13.5M587.8 680v13.5M590.5 678.43v13.5M593.2 676.86v13.5M595.9 675.29v13.5M598.6 673.71v13.5M601.3 672.14v13.5M604 670.57v13.5M606.7 669v13.5M609.4 667.43v13.5M612.1 665.86v13.5M614.8 664.29v13.5M617.5 662.71v13.5M620.2 661.14v13.5M622.9 659.57v13.5M625.6 658v13.5" stroke="#181830" stroke-width="0.7" opacity="0.3"/>
<path d="M495.2 659.5L496.3 663.5L497.4 659.5ZM498.18 662.42L499.28 666.42L500.38 662.42ZM501.17 665.33L502.27 669.33L503.37 665.33ZM504.15 668.25L505.25 672.25L506.35 668.25ZM507.13 671.17L508.23 675.17L509.33 671.17ZM510.12 674.08L511.22 678.08L512.32 674.08ZM513.1 677L514.2 681L515.3 677ZM516.08 679.92L517.18 683.92L518.28 679.92ZM519.07 682.83L520.17 686.83L521.27 682.83ZM522.05 685.75L523.15 689.75L524.25 685.75ZM525.03 688.67L526.13 692.67L527.23 688.67ZM528.02 691.58L529.12 695.58L530.22 691.58ZM531 694.5L532.1 698.5L533.2 694.5ZM533.98 697.42L535.08 701.42L536.18 697.42ZM536.97 700.33L538.07 704.33L539.17 700.33ZM539.95 703.25L541.05 707.25L542.15 703.25ZM542.93 706.17L544.03 710.17L545.13 706.17ZM545.92 709.08L547.02 713.08L548.12 709.08ZM548.9 712L550 716L551.1 712ZM548.9 712L550 716L551.1 712ZM553.1 709.56L554.2 713.56L555.3 709.56ZM557.3 707.11L558.4 711.11L559.5 707.11ZM561.5 704.67L562.6 708.67L563.7 704.67ZM565.7 702.22L566.8 706.22L567.9 702.22ZM569.9 699.78L571 703.78L572.1 699.78ZM574.1 697.33L575.2 701.33L576.3 697.33ZM578.3 694.89L579.4 698.89L580.5 694.89ZM582.5 692.44L583.6 696.44L584.7 692.44ZM586.7 690L587.8 694L588.9 690ZM590.9 687.56L592 691.56L593.1 687.56ZM595.1 685.11L596.2 689.11L597.3 685.11ZM599.3 682.67L600.4 686.67L601.5 682.67ZM603.5 680.22L604.6 684.22L605.7 680.22ZM607.7 677.78L608.8 681.78L609.9 677.78ZM611.9 675.33L613 679.33L614.1 675.33ZM616.1 672.89L617.2 676.89L618.3 672.89ZM620.3 670.44L621.4 674.44L622.5 670.44ZM624.5 668L625.6 672L626.7 668Z" fill="#181830" opacity="0.55"/>
<path d="M496.3 645.5v-3.2M500.37 644.19v-3.2M504.43 642.89v-3.2M508.5 641.58v-3.2M512.57 640.28v-3.2M516.63 638.97v-3.2M520.7 637.67v-3.2M524.77 636.36v-3.2M528.83 635.06v-3.2M532.9 633.75v-3.2M536.97 632.44v-3.2M541.03 631.14v-3.2M545.1 629.83v-3.2M549.17 628.53v-3.2M553.23 627.22v-3.2M557.3 625.92v-3.2M561.37 624.61v-3.2M565.43 623.31v-3.2M569.5 622v-3.2M569.5 622v-3.2M572.62 624v-3.2M575.73 626v-3.2M578.85 628v-3.2M581.97 630v-3.2M585.08 632v-3.2M588.2 634v-3.2M591.32 636v-3.2M594.43 638v-3.2M597.55 640v-3.2M600.67 642v-3.2M603.78 644v-3.2M606.9 646v-3.2M610.02 648v-3.2M613.13 650v-3.2M616.25 652v-3.2M619.37 654v-3.2M622.48 656v-3.2M625.6 658v-3.2" stroke="#181830" stroke-width="0.7" opacity="0.3"/>
<path d="M649 642L718 696.5L718 713L649 661.5Z" fill="url(#x4s1)"/>
<path d="M718 696.5L785.5 648.5L785.5 666L718 713Z" fill="url(#x4s2)"/>
<path d="M649 643.5L682.45 632.75Q699.78 643.06 717.1 653.38Q700.3 662.06 683.5 670.75Z" fill="url(#x4gL)" stroke="url(#x4gL)" stroke-width="0.6"/>
<path d="M715.9 622L750.7 636Q733.9 644.69 717.1 653.38Q699.78 643.06 682.45 632.75Z" fill="url(#x4gB)" stroke="url(#x4gB)" stroke-width="0.6"/>
<path d="M785.5 650L751.75 674Q734.42 663.69 717.1 653.38Q733.9 644.69 750.7 636Z" fill="url(#x4gR)" stroke="url(#x4gR)" stroke-width="0.6"/>
<path d="M718 698L683.5 670.75Q700.3 662.06 717.1 653.38Q734.42 663.69 751.75 674Z" fill="url(#x4gF)" stroke="url(#x4gF)" stroke-width="0.6"/>
<g clip-path="url(#x4clip)"><g filter="url(#soft)">
<path d="M649 643.5L682.45 632.75Q699.78 643.06 717.1 653.38Q700.3 662.06 683.5 670.75Z" fill="url(#x4gL)"/>
<path d="M715.9 622L750.7 636Q733.9 644.69 717.1 653.38Q699.78 643.06 682.45 632.75Z" fill="url(#x4gB)"/>
<path d="M785.5 650L751.75 674Q734.42 663.69 717.1 653.38Q733.9 644.69 750.7 636Z" fill="url(#x4gR)"/>
<path d="M718 698L683.5 670.75Q700.3 662.06 717.1 653.38Q734.42 663.69 751.75 674Z" fill="url(#x4gF)"/>
</g></g>
<path d="M649 641.3v3.4M652.45 644.02v3.4M655.9 646.75v3.4M659.35 649.47v3.4M662.8 652.2v3.4M666.25 654.92v3.4M669.7 657.65v3.4M673.15 660.38v3.4M676.6 663.1v3.4M680.05 665.82v3.4M683.5 668.55v3.4M686.95 671.27v3.4M690.4 674v3.4M693.85 676.72v3.4M697.3 679.45v3.4M700.75 682.17v3.4M704.2 684.9v3.4M707.65 687.62v3.4M711.1 690.35v3.4M714.55 693.07v3.4M718 695.8v3.4M652.35 640.22v3.4M655.8 642.88v3.4M659.25 645.54v3.4M662.7 648.2v3.4M666.15 650.86v3.4M669.6 653.52v3.4M673.05 656.18v3.4M676.51 658.84v3.4M679.96 661.49v3.4M683.41 664.15v3.4M686.86 666.81v3.4M690.31 669.47v3.4M693.76 672.13v3.4M697.21 674.79v3.4M700.67 677.45v3.4M704.12 680.11v3.4M707.57 682.76v3.4M711.02 685.42v3.4M714.47 688.08v3.4M717.92 690.74v3.4M721.38 693.4v3.4M655.69 639.15v3.4M659.14 641.74v3.4M662.6 644.34v3.4M666.05 646.93v3.4M669.5 649.52v3.4M672.96 652.11v3.4M676.41 654.7v3.4M679.86 657.3v3.4M683.31 659.89v3.4M686.77 662.48v3.4M690.22 665.08v3.4M693.67 667.67v3.4M697.13 670.26v3.4M700.58 672.85v3.4M704.03 675.44v3.4M707.49 678.04v3.4M710.94 680.63v3.4M714.39 683.22v3.4M717.84 685.82v3.4M721.3 688.41v3.4M724.75 691v3.4M659.03 638.07v3.4M662.49 640.6v3.4M665.94 643.13v3.4M669.4 645.65v3.4M672.85 648.18v3.4M676.31 650.71v3.4M679.76 653.23v3.4M683.22 655.76v3.4M686.67 658.28v3.4M690.13 660.81v3.4M693.58 663.34v3.4M697.03 665.86v3.4M700.49 668.39v3.4M703.94 670.92v3.4M707.4 673.44v3.4M710.85 675.97v3.4M714.31 678.49v3.4M717.76 681.02v3.4M721.22 683.55v3.4M724.67 686.07v3.4M728.12 688.6v3.4M662.38 637v3.4M665.84 639.46v3.4M669.29 641.92v3.4M672.75 644.38v3.4M676.2 646.84v3.4M679.66 649.3v3.4M683.12 651.76v3.4M686.57 654.22v3.4M690.03 656.68v3.4M693.48 659.14v3.4M696.94 661.6v3.4M700.4 664.06v3.4M703.85 666.52v3.4M707.31 668.98v3.4M710.76 671.44v3.4M714.22 673.9v3.4M717.68 676.36v3.4M721.13 678.82v3.4M724.59 681.28v3.4M728.04 683.74v3.4M731.5 686.2v3.4M665.73 635.92v3.4M669.18 638.32v3.4M672.64 640.71v3.4M676.1 643.11v3.4M679.56 645.5v3.4M683.01 647.89v3.4M686.47 650.29v3.4M689.93 652.68v3.4M693.38 655.07v3.4M696.84 657.47v3.4M700.3 659.86v3.4M703.76 662.26v3.4M707.22 664.65v3.4M710.67 667.04v3.4M714.13 669.44v3.4M717.59 671.83v3.4M721.04 674.22v3.4M724.5 676.62v3.4M727.96 679.01v3.4M731.42 681.41v3.4M734.88 683.8v3.4M669.07 634.85v3.4M672.53 637.18v3.4M675.99 639.5v3.4M679.45 641.83v3.4M682.91 644.16v3.4M686.37 646.49v3.4M689.82 648.81v3.4M693.28 651.14v3.4M696.74 653.47v3.4M700.2 655.8v3.4M703.66 658.12v3.4M707.12 660.45v3.4M710.58 662.78v3.4M714.04 665.11v3.4M717.5 667.43v3.4M720.95 669.76v3.4M724.41 672.09v3.4M727.87 674.42v3.4M731.33 676.75v3.4M734.79 679.07v3.4M738.25 681.4v3.4M672.41 633.77v3.4M675.88 636.04v3.4M679.34 638.3v3.4M682.8 640.56v3.4M686.26 642.82v3.4M689.72 645.08v3.4M693.18 647.34v3.4M696.64 649.6v3.4M700.1 651.87v3.4M703.56 654.13v3.4M707.02 656.39v3.4M710.48 658.65v3.4M713.94 660.91v3.4M717.4 663.17v3.4M720.86 665.43v3.4M724.32 667.69v3.4M727.78 669.96v3.4M731.24 672.22v3.4M734.7 674.48v3.4M738.16 676.74v3.4M741.62 679v3.4M675.76 632.7v3.4M679.22 634.89v3.4M682.68 637.09v3.4M686.15 639.28v3.4M689.61 641.48v3.4M693.07 643.67v3.4M696.53 645.87v3.4M699.99 648.06v3.4M703.46 650.26v3.4M706.92 652.45v3.4M710.38 654.65v3.4M713.84 656.84v3.4M717.3 659.04v3.4M720.77 661.23v3.4M724.23 663.43v3.4M727.69 665.62v3.4M731.15 667.82v3.4M734.61 670.01v3.4M738.08 672.21v3.4M741.54 674.4v3.4M745 676.6v3.4M679.11 631.62v3.4M682.57 633.75v3.4M686.03 635.88v3.4M689.5 638.01v3.4M692.96 640.14v3.4M696.42 642.27v3.4M699.89 644.4v3.4M703.35 646.53v3.4M706.81 648.65v3.4M710.28 650.78v3.4M713.74 652.91v3.4M717.2 655.04v3.4M720.67 657.17v3.4M724.13 659.3v3.4M727.59 661.43v3.4M731.06 663.56v3.4M734.52 665.68v3.4M737.98 667.81v3.4M741.45 669.94v3.4M744.91 672.07v3.4M748.38 674.2v3.4M682.45 630.55v3.4M685.92 632.61v3.4M689.38 634.67v3.4M692.85 636.74v3.4M696.31 638.8v3.4M699.78 640.86v3.4M703.24 642.92v3.4M706.71 644.99v3.4M710.17 647.05v3.4M713.63 649.11v3.4M717.1 651.17v3.4M720.57 653.24v3.4M724.03 655.3v3.4M727.5 657.36v3.4M730.96 659.42v3.4M734.42 661.49v3.4M737.89 663.55v3.4M741.36 665.61v3.4M744.82 667.67v3.4M748.28 669.74v3.4M751.75 671.8v3.4M685.79 629.47v3.4M689.26 631.47v3.4M692.73 633.47v3.4M696.19 635.46v3.4M699.66 637.46v3.4M703.13 639.46v3.4M706.59 641.45v3.4M710.06 643.45v3.4M713.53 645.44v3.4M716.99 647.44v3.4M720.46 649.44v3.4M723.93 651.43v3.4M727.39 653.43v3.4M730.86 655.43v3.4M734.33 657.42v3.4M737.79 659.42v3.4M741.26 661.41v3.4M744.73 663.41v3.4M748.19 665.41v3.4M751.66 667.4v3.4M755.12 669.4v3.4M689.14 628.4v3.4M692.61 630.33v3.4M696.08 632.26v3.4M699.54 634.19v3.4M703.01 636.12v3.4M706.48 638.05v3.4M709.95 639.98v3.4M713.42 641.91v3.4M716.88 643.84v3.4M720.35 645.77v3.4M723.82 647.7v3.4M727.29 649.63v3.4M730.76 651.56v3.4M734.22 653.49v3.4M737.69 655.42v3.4M741.16 657.35v3.4M744.63 659.28v3.4M748.1 661.21v3.4M751.56 663.14v3.4M755.03 665.07v3.4M758.5 667v3.4M692.49 627.32v3.4M695.95 629.19v3.4M699.42 631.05v3.4M702.89 632.92v3.4M706.36 634.78v3.4M709.83 636.64v3.4M713.3 638.51v3.4M716.77 640.37v3.4M720.24 642.23v3.4M723.71 644.1v3.4M727.18 645.96v3.4M730.65 647.83v3.4M734.12 649.69v3.4M737.59 651.55v3.4M741.06 653.42v3.4M744.53 655.28v3.4M748 657.14v3.4M751.47 659.01v3.4M754.94 660.87v3.4M758.41 662.74v3.4M761.88 664.6v3.4M695.83 626.25v3.4M699.3 628.05v3.4M702.77 629.85v3.4M706.24 631.64v3.4M709.71 633.44v3.4M713.18 635.24v3.4M716.66 637.03v3.4M720.13 638.83v3.4M723.6 640.63v3.4M727.07 642.43v3.4M730.54 644.22v3.4M734.01 646.02v3.4M737.48 647.82v3.4M740.95 649.62v3.4M744.42 651.41v3.4M747.89 653.21v3.4M751.37 655.01v3.4M754.84 656.81v3.4M758.31 658.6v3.4M761.78 660.4v3.4M765.25 662.2v3.4M699.17 625.17v3.4M702.65 626.91v3.4M706.12 628.64v3.4M709.59 630.37v3.4M713.06 632.1v3.4M716.54 633.83v3.4M720.01 635.56v3.4M723.48 637.29v3.4M726.95 639.02v3.4M730.43 640.76v3.4M733.9 642.49v3.4M737.37 644.22v3.4M740.85 645.95v3.4M744.32 647.68v3.4M747.79 649.41v3.4M751.26 651.14v3.4M754.74 652.88v3.4M758.21 654.61v3.4M761.68 656.34v3.4M765.15 658.07v3.4M768.62 659.8v3.4M702.52 624.1v3.4M705.99 625.76v3.4M709.47 627.43v3.4M712.94 629.09v3.4M716.42 630.76v3.4M719.89 632.42v3.4M723.36 634.09v3.4M726.84 635.75v3.4M730.31 637.42v3.4M733.79 639.08v3.4M737.26 640.75v3.4M740.73 642.41v3.4M744.21 644.08v3.4M747.68 645.75v3.4M751.16 647.41v3.4M754.63 649.07v3.4M758.1 650.74v3.4M761.58 652.4v3.4M765.05 654.07v3.4M768.53 655.74v3.4M772 657.4v3.4M705.87 623.02v3.4M709.34 624.62v3.4M712.82 626.22v3.4M716.29 627.82v3.4M719.77 629.42v3.4M723.24 631.02v3.4M726.72 632.62v3.4M730.19 634.22v3.4M733.67 635.81v3.4M737.14 637.41v3.4M740.62 639.01v3.4M744.1 640.61v3.4M747.57 642.21v3.4M751.05 643.81v3.4M754.52 645.41v3.4M758 647.01v3.4M761.47 648.61v3.4M764.95 650.2v3.4M768.42 651.8v3.4M771.9 653.4v3.4M775.38 655v3.4M709.21 621.95v3.4M712.69 623.48v3.4M716.16 625.01v3.4M719.64 626.55v3.4M723.12 628.08v3.4M726.6 629.61v3.4M730.07 631.14v3.4M733.55 632.68v3.4M737.03 634.21v3.4M740.5 635.74v3.4M743.98 637.27v3.4M747.46 638.81v3.4M750.93 640.34v3.4M754.41 641.87v3.4M757.89 643.4v3.4M761.37 644.94v3.4M764.84 646.47v3.4M768.32 648v3.4M771.8 649.53v3.4M775.27 651.07v3.4M778.75 652.6v3.4M712.55 620.88v3.4M716.03 622.34v3.4M719.51 623.81v3.4M722.99 625.27v3.4M726.47 626.74v3.4M729.95 628.21v3.4M733.43 629.67v3.4M736.9 631.14v3.4M740.38 632.61v3.4M743.86 634.07v3.4M747.34 635.54v3.4M750.82 637v3.4M754.3 638.47v3.4M757.78 639.94v3.4M761.25 641.4v3.4M764.73 642.87v3.4M768.21 644.33v3.4M771.69 645.8v3.4M775.17 647.27v3.4M778.65 648.73v3.4M782.12 650.2v3.4M715.9 619.8v3.4M719.38 621.2v3.4M722.86 622.6v3.4M726.34 624v3.4M729.82 625.4v3.4M733.3 626.8v3.4M736.78 628.2v3.4M740.26 629.6v3.4M743.74 631v3.4M747.22 632.4v3.4M750.7 633.8v3.4M754.18 635.2v3.4M757.66 636.6v3.4M761.14 638v3.4M764.62 639.4v3.4M768.1 640.8v3.4M771.58 642.2v3.4M775.06 643.6v3.4M778.54 645v3.4M782.02 646.4v3.4M785.5 647.8v3.4" stroke="#181830" stroke-width="0.6" opacity="0.28"/>
<path d="M649 644.5v19.5M651.46 646.45v19.39M653.93 648.39v19.29M656.39 650.34v19.18M658.86 652.29v19.07M661.32 654.23v18.96M663.79 656.18v18.86M666.25 658.12v18.75M668.71 660.07v18.64M671.18 662.02v18.54M673.64 663.96v18.43M676.11 665.91v18.32M678.57 667.86v18.21M681.04 669.8v18.11M683.5 671.75v18M685.96 673.7v17.89M688.43 675.64v17.79M690.89 677.59v17.68M693.36 679.54v17.57M695.82 681.48v17.46M698.29 683.43v17.36M700.75 685.38v17.25M703.21 687.32v17.14M705.68 689.27v17.04M708.14 691.21v16.93M710.61 693.16v16.82M713.07 695.11v16.71M715.54 697.05v16.61M718 699v16.5M718 699v16.5M720.41 697.29v16.54M722.82 695.57v16.57M725.23 693.86v16.61M727.64 692.14v16.64M730.05 690.43v16.68M732.46 688.71v16.71M734.88 687v16.75M737.29 685.29v16.79M739.7 683.57v16.82M742.11 681.86v16.86M744.52 680.14v16.89M746.93 678.43v16.93M749.34 676.71v16.96M751.75 675v17M754.16 673.29v17.04M756.57 671.57v17.07M758.98 669.86v17.11M761.39 668.14v17.14M763.8 666.43v17.18M766.21 664.71v17.21M768.62 663v17.25M771.04 661.29v17.29M773.45 659.57v17.32M775.86 657.86v17.36M778.27 656.14v17.39M780.68 654.43v17.43M783.09 652.71v17.46M785.5 651v17.5" stroke="#181830" stroke-width="0.7" opacity="0.3"/>
<path d="M647.9 660.5L649 664.5L650.1 660.5ZM651.73 663.36L652.83 667.36L653.93 663.36ZM655.57 666.22L656.67 670.22L657.77 666.22ZM659.4 669.08L660.5 673.08L661.6 669.08ZM663.23 671.94L664.33 675.94L665.43 671.94ZM667.07 674.81L668.17 678.81L669.27 674.81ZM670.9 677.67L672 681.67L673.1 677.67ZM674.73 680.53L675.83 684.53L676.93 680.53ZM678.57 683.39L679.67 687.39L680.77 683.39ZM682.4 686.25L683.5 690.25L684.6 686.25ZM686.23 689.11L687.33 693.11L688.43 689.11ZM690.07 691.97L691.17 695.97L692.27 691.97ZM693.9 694.83L695 698.83L696.1 694.83ZM697.73 697.69L698.83 701.69L699.93 697.69ZM701.57 700.56L702.67 704.56L703.77 700.56ZM705.4 703.42L706.5 707.42L707.6 703.42ZM709.23 706.28L710.33 710.28L711.43 706.28ZM713.07 709.14L714.17 713.14L715.27 709.14ZM716.9 712L718 716L719.1 712ZM716.9 712L718 716L719.1 712ZM720.65 709.39L721.75 713.39L722.85 709.39ZM724.4 706.78L725.5 710.78L726.6 706.78ZM728.15 704.17L729.25 708.17L730.35 704.17ZM731.9 701.56L733 705.56L734.1 701.56ZM735.65 698.94L736.75 702.94L737.85 698.94ZM739.4 696.33L740.5 700.33L741.6 696.33ZM743.15 693.72L744.25 697.72L745.35 693.72ZM746.9 691.11L748 695.11L749.1 691.11ZM750.65 688.5L751.75 692.5L752.85 688.5ZM754.4 685.89L755.5 689.89L756.6 685.89ZM758.15 683.28L759.25 687.28L760.35 683.28ZM761.9 680.67L763 684.67L764.1 680.67ZM765.65 678.06L766.75 682.06L767.85 678.06ZM769.4 675.44L770.5 679.44L771.6 675.44ZM773.15 672.83L774.25 676.83L775.35 672.83ZM776.9 670.22L778 674.22L779.1 670.22ZM780.65 667.61L781.75 671.61L782.85 667.61ZM784.4 665L785.5 669L786.6 665Z" fill="#181830" opacity="0.55"/>
<path d="M649 644.5v-3.2M652.72 643.31v-3.2M656.43 642.11v-3.2M660.15 640.92v-3.2M663.87 639.72v-3.2M667.58 638.53v-3.2M671.3 637.33v-3.2M675.02 636.14v-3.2M678.73 634.94v-3.2M682.45 633.75v-3.2M686.17 632.56v-3.2M689.88 631.36v-3.2M693.6 630.17v-3.2M697.32 628.97v-3.2M701.03 627.78v-3.2M704.75 626.58v-3.2M708.47 625.39v-3.2M712.18 624.19v-3.2M715.9 623v-3.2M715.9 623v-3.2M719.77 624.56v-3.2M723.63 626.11v-3.2M727.5 627.67v-3.2M731.37 629.22v-3.2M735.23 630.78v-3.2M739.1 632.33v-3.2M742.97 633.89v-3.2M746.83 635.44v-3.2M750.7 637v-3.2M754.57 638.56v-3.2M758.43 640.11v-3.2M762.3 641.67v-3.2M766.17 643.22v-3.2M770.03 644.78v-3.2M773.9 646.33v-3.2M777.77 647.89v-3.2M781.63 649.44v-3.2M785.5 651v-3.2" stroke="#181830" stroke-width="0.7" opacity="0.3"/>
<g opacity="0.78"><path d="M583.83 822.98L578.95 830.77M588.7 822.98L595.52 830.77M585.77 830.77L580.9 839.55L593.58 837.6M589.67 833.7L593.58 838.58M605.75 822.98L599.9 829.8M605.75 822.98L611.6 829.8M600.88 830.77L596.98 840.52M600.88 833.7L604.77 839.55M609.65 830.77L606.73 840.52M609.65 833.7L614.52 840.52M624.88 822.98L634.62 822.98L634.62 828.83L624.88 828.83L624.88 822.98M620.98 831.75L638.52 831.75M626.83 831.75L624.88 835.65L635.6 835.65L634.62 840.52L631.7 839.55M718.88 822.98L715.95 829.8M716.92 827.85L730.58 827.85M723.75 822.98L723.75 839.55M717.9 833.7L729.6 833.7M714.98 839.55L732.52 839.55M740.35 822.98L735.48 830.77M738.4 827.85L738.4 840.52M751.08 825.9L743.27 832.73M745.23 822.98L745.23 838.58L752.05 838.58L752.05 835.65M758.98 825.9L764.83 825.9M761.9 825.9L761.9 837.6M758.98 831.75L764.83 831.75M758.98 838.58L765.8 835.65M766.77 824.92L776.52 824.92M772.62 824.92L766.77 834.67M771.65 829.8L771.65 840.52M773.6 832.73L776.52 836.62M783.98 827.85L791.77 827.85M787.88 822.98L787.88 840.52M787.88 828.83L783.98 836.62M787.88 829.8L790.8 833.7M792.75 827.85L801.52 827.85M798.6 822.98L798.6 839.55L796.65 838.58M798.6 828.83L792.75 836.62" stroke="#9c9c9c" stroke-width="1.6" fill="none" stroke-linecap="round" stroke-linejoin="round"/>
<circle cx="654.4" cy="831.4" r="1.3" fill="#9c9c9c"/>
<text x="667.2" y="839.0" font-family='"Liberation Sans", sans-serif' font-size="21.5" fill="#a4a4a4" textLength="45" lengthAdjust="spacingAndGlyphs">CNS</text>
<ellipse cx="549.5" cy="826.5" rx="8.2" ry="7.0" fill="#8c8c8c"/><path d="M544 831l-2 4 5-2z" fill="#8c8c8c"/>
<ellipse cx="561.0" cy="834.2" rx="9.2" ry="7.8" fill="#9a9a9a" stroke="#f4f4f4" stroke-width="1.2"/><path d="M566 840l3 3.5-6-1.5z" fill="#9a9a9a"/>
<circle cx="546.5" cy="824.5" r="1.1" fill="#eee"/><circle cx="552.5" cy="824.5" r="1.1" fill="#eee"/>
<circle cx="557.5" cy="832.5" r="1.1" fill="#eee"/><circle cx="564.5" cy="832.5" r="1.1" fill="#eee"/>
</g>
<path d="M43.6 846.1L56.4 846.1M50 841.3L50 846.9L44.4 855.7M50 846.9L56.4 855.7M60.6 842.9L62.2 844.5M65.4 842.9L63.8 844.5M59.8 845.3L66.2 845.3M63 841.3L63 848.5M63 846.1L59.8 849.3M63 846.1L66.2 848.5M63 849.3L60.6 854.1L66.2 855.7M65.4 850.1L61.4 855.7M59.8 852.5L66.2 852.5M69.4 841.3L67.8 846.1M68.6 844.5L74.2 844.5M72.6 844.5L67.8 855.7M69.4 848.5L74.2 855.7M77.1 842.1L81.1 842.1L81.1 846.1L77.1 846.1L77.1 842.1M78.7 846.1L78.7 854.1M78.7 850.1L81.1 850.1M76.3 854.9L81.9 853.3M82.7 843.7L90.7 843.7M86.7 841.3L86.7 843.7L82.7 847.7M86.7 843.7L90.7 847.7M83.5 849.3L89.9 849.3M84.3 851.7L89.1 851.7L88.3 855.7L86.7 854.9M92.8 846.9L97.6 846.9M95.2 842.9L95.2 853.3M92.8 854.1L98.4 851.7M103.2 841.3L103.2 842.9M99.2 842.9L107.2 842.9M100.8 844.5L101.6 846.1M105.6 844.5L104.8 846.1M99.2 846.1L107.2 846.1M100 847.7L106.4 847.7L106.4 851.7L100 851.7L100 847.7M100 849.7L106.4 849.7M101.6 851.7L99.2 855.7M104.8 851.7L104.8 854.9L107.2 854.9M11 842.5V852.5Q15 856 21 853M24 850.5Q20 848 17 851" stroke="#c4c4c4" stroke-width="3.2" fill="none" stroke-linecap="round" stroke-linejoin="round" opacity="0.8"/>
<circle cx="24" cy="843" r="3.6" fill="none" stroke="#c4c4c4" stroke-width="2.6" opacity="0.8"/><circle cx="32.5" cy="843" r="3.6" fill="none" stroke="#c4c4c4" stroke-width="2.6" opacity="0.8"/>
<path d="M43.6 846.1L56.4 846.1M50 841.3L50 846.9L44.4 855.7M50 846.9L56.4 855.7M60.6 842.9L62.2 844.5M65.4 842.9L63.8 844.5M59.8 845.3L66.2 845.3M63 841.3L63 848.5M63 846.1L59.8 849.3M63 846.1L66.2 848.5M63 849.3L60.6 854.1L66.2 855.7M65.4 850.1L61.4 855.7M59.8 852.5L66.2 852.5M69.4 841.3L67.8 846.1M68.6 844.5L74.2 844.5M72.6 844.5L67.8 855.7M69.4 848.5L74.2 855.7M77.1 842.1L81.1 842.1L81.1 846.1L77.1 846.1L77.1 842.1M78.7 846.1L78.7 854.1M78.7 850.1L81.1 850.1M76.3 854.9L81.9 853.3M82.7 843.7L90.7 843.7M86.7 841.3L86.7 843.7L82.7 847.7M86.7 843.7L90.7 847.7M83.5 849.3L89.9 849.3M84.3 851.7L89.1 851.7L88.3 855.7L86.7 854.9M92.8 846.9L97.6 846.9M95.2 842.9L95.2 853.3M92.8 854.1L98.4 851.7M103.2 841.3L103.2 842.9M99.2 842.9L107.2 842.9M100.8 844.5L101.6 846.1M105.6 844.5L104.8 846.1M99.2 846.1L107.2 846.1M100 847.7L106.4 847.7L106.4 851.7L100 851.7L100 847.7M100 849.7L106.4 849.7M101.6 851.7L99.2 855.7M104.8 851.7L104.8 854.9L107.2 854.9M11 842.5V852.5Q15 856 21 853M24 850.5Q20 848 17 851" stroke="#ffffff" stroke-width="1.5" fill="none" stroke-linecap="round" stroke-linejoin="round"/>
<circle cx="24" cy="843" r="3.6" fill="none" stroke="#fff" stroke-width="1.2"/><circle cx="32.5" cy="843" r="3.6" fill="none" stroke="#fff" stroke-width="1.2"/></svg>
</body></html>
